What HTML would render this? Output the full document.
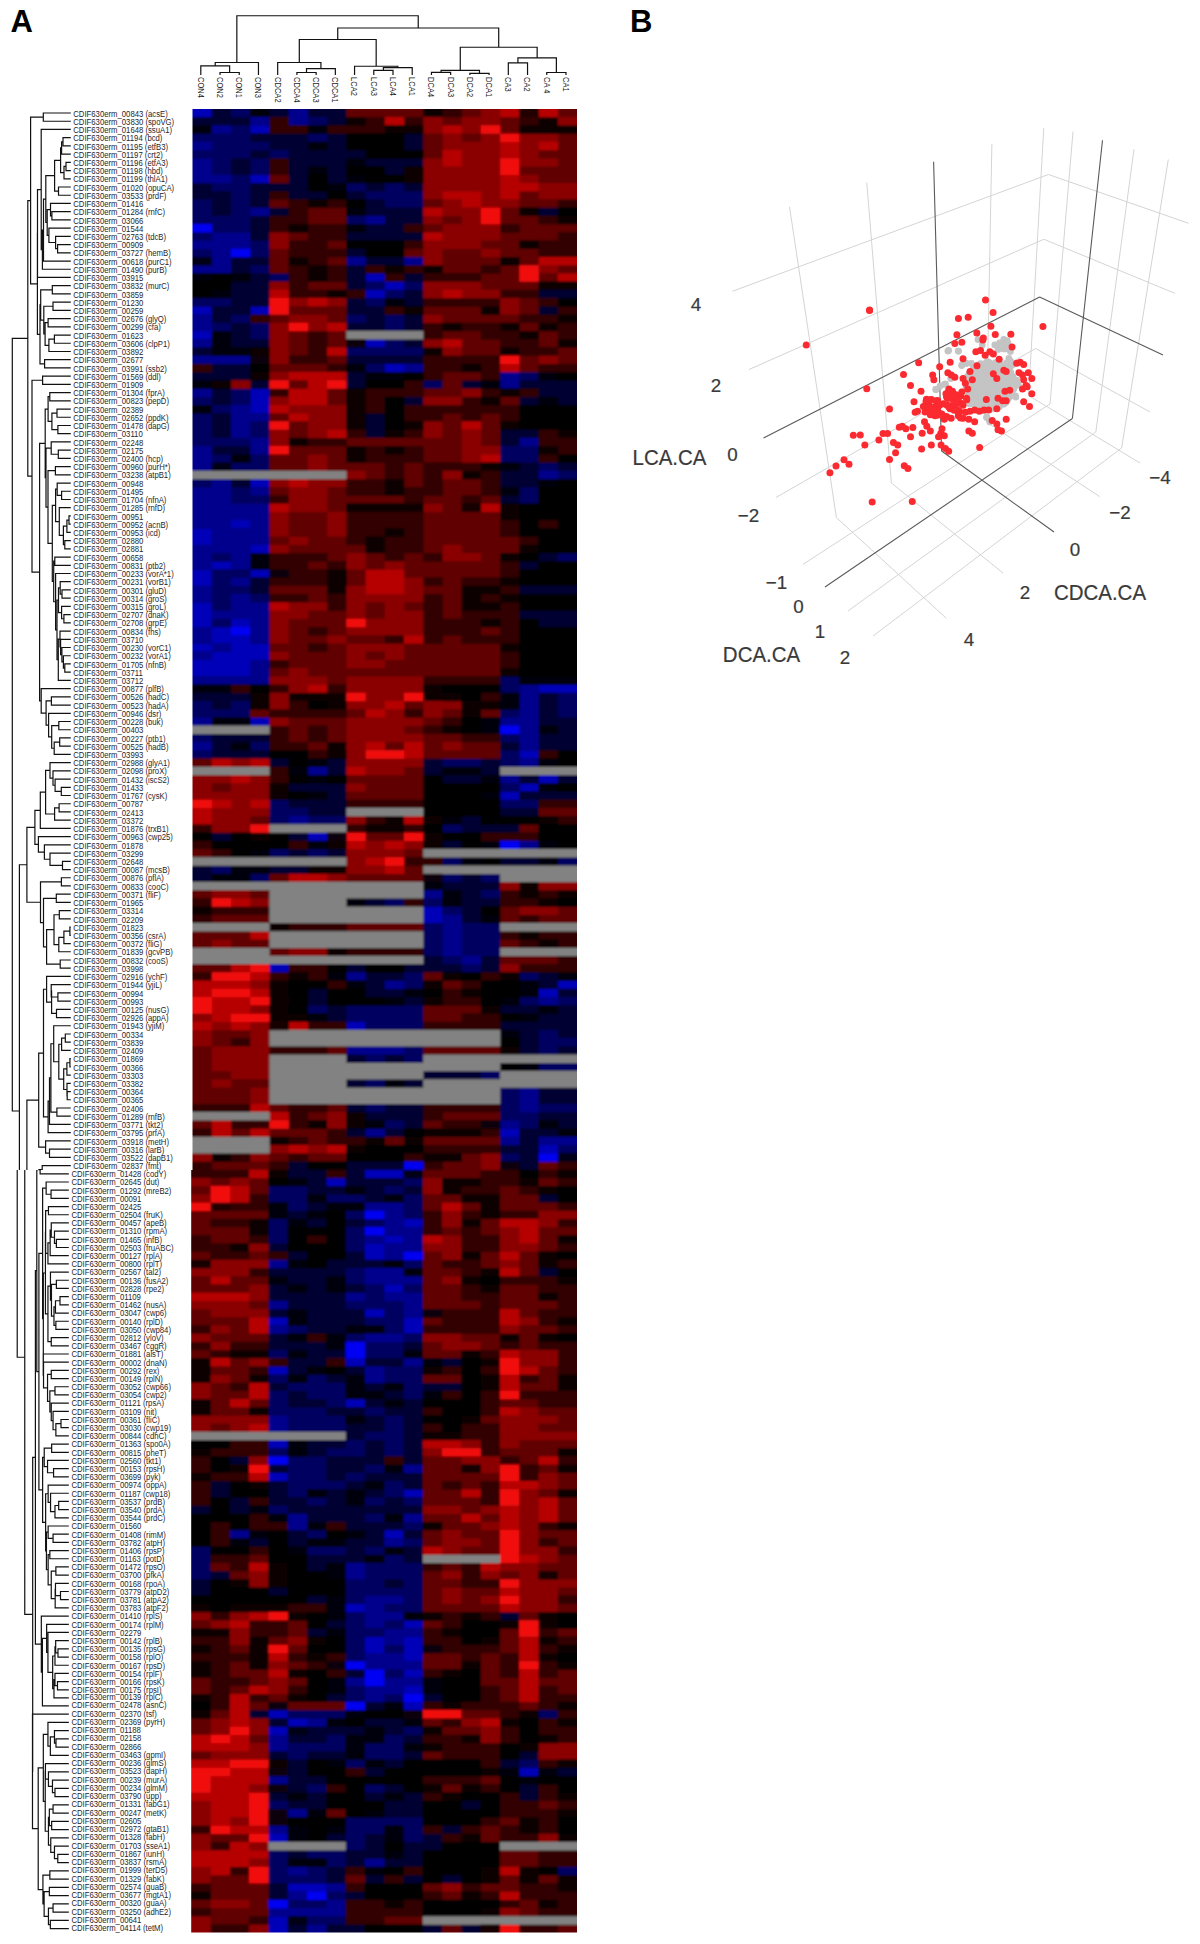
<!DOCTYPE html><html><head><meta charset="utf-8"><title>Figure</title>
<style>html,body{margin:0;padding:0;background:#fff}svg{display:block}</style></head><body>
<svg width="1200" height="1944" viewBox="0 0 1200 1944">
<defs><filter id="bl" x="-1%" y="-1%" width="102%" height="102%"><feGaussianBlur stdDeviation="0.8"/></filter></defs>
<rect width="1200" height="1944" fill="#fff"/>
<g font-family="'Liberation Sans',Arial,sans-serif" font-weight="bold" font-size="31" fill="#000"><text x="10.5" y="31.7">A</text><text x="629.9" y="31.7">B</text></g>
<path d="M220.02 75V72.5H239.24V75M200.8 75V65.8H229.63V72.5M215.22 65.8V62.5H258.46V75M296.9 75V72.5H316.12V75M306.51 72.5V68.7H335.34V75M277.68 75V62.5H320.93V68.7M373.78 75V70.4H393V75M383.39 70.4V67.6H412.22V75M354.56 75V66.25H397.81V67.6M431.44 75V72.3H450.66V75M469.88 75V73.3H489.1V75M441.05 72.3V70.4H479.49V73.3M508.32 75V62.9H527.54V75M546.76 75V72.5H565.98V75M517.93 62.9V57.9H556.37V72.5M299.3 62.5V39.5H376.18V66.25M460.27 70.4V47.25H537.15V57.9M337.74 39.5V28H498.71V47.25M236.84 62.5V15.75H418.23V28" fill="none" stroke="#111" stroke-width="1.2" stroke-linejoin="miter"/>
<g font-family="'Liberation Sans',Arial,sans-serif" font-size="8.8" fill="#1e1e1e">
<text transform="translate(197.7 77) rotate(90) scale(.86 1)">CON4</text>
<text transform="translate(216.92 77) rotate(90) scale(.86 1)">CON2</text>
<text transform="translate(236.14 77) rotate(90) scale(.86 1)">CON1</text>
<text transform="translate(255.36 77) rotate(90) scale(.86 1)">CON3</text>
<text transform="translate(274.58 77) rotate(90) scale(.86 1)">CDCA2</text>
<text transform="translate(293.8 77) rotate(90) scale(.86 1)">CDCA4</text>
<text transform="translate(313.02 77) rotate(90) scale(.86 1)">CDCA3</text>
<text transform="translate(332.24 77) rotate(90) scale(.86 1)">CDCA1</text>
<text transform="translate(351.46 77) rotate(90) scale(.86 1)">LCA2</text>
<text transform="translate(370.68 77) rotate(90) scale(.86 1)">LCA3</text>
<text transform="translate(389.9 77) rotate(90) scale(.86 1)">LCA4</text>
<text transform="translate(409.12 77) rotate(90) scale(.86 1)">LCA1</text>
<text transform="translate(428.34 77) rotate(90) scale(.86 1)">DCA4</text>
<text transform="translate(447.56 77) rotate(90) scale(.86 1)">DCA3</text>
<text transform="translate(466.78 77) rotate(90) scale(.86 1)">DCA2</text>
<text transform="translate(486 77) rotate(90) scale(.86 1)">DCA1</text>
<text transform="translate(505.22 77) rotate(90) scale(.86 1)">CA3</text>
<text transform="translate(524.44 77) rotate(90) scale(.86 1)">CA2</text>
<text transform="translate(543.66 77) rotate(90) scale(.86 1)">CA 4</text>
<text transform="translate(562.88 77) rotate(90) scale(.86 1)">CA1</text>
</g>
<clipPath id="hc"><path d="M192.5 108.9H577V1932.6H191.2V1169.9H192.5z"/></clipPath><g clip-path="url(#hc)"><g id="heat" filter="url(#bl)">
<rect x="188.2" y="104" width="392.8" height="1833" fill="#050003"/>
<path fill="#0000b8" d="M188.5 104.9H211.97V117.37H188.5zM250.18 125.35H269.65V133.82H250.18zM250.18 174.68H269.65V183.16H250.18zM365.52 273.36H385V281.83H365.52zM384.75 281.58H404.23V290.06H384.75zM365.52 289.81H385V298.28H365.52zM188.5 306.25H211.97V314.73H188.5zM250.18 306.25H269.65V314.73H250.18zM188.5 330.92H211.97V339.39H188.5zM365.52 339.14H385V347.62H365.52zM384.75 363.81H404.23V372.29H384.75zM250.18 388.48H269.65V396.96H250.18zM250.18 396.71H269.65V405.18H250.18zM250.18 404.93H269.65V413.4H250.18zM250.18 478.94H269.65V487.41H250.18zM230.95 520.05H250.43V528.52H230.95zM188.5 528.27H211.97V536.75H188.5zM188.5 536.5H211.97V544.97H188.5zM250.18 544.72H269.65V553.19H250.18zM211.72 561.17H231.2V569.64H211.72zM188.5 569.39H211.97V577.86H188.5zM250.18 569.39H269.65V577.86H250.18zM188.5 577.61H211.97V586.08H188.5zM188.5 602.28H211.97V610.75H188.5zM188.5 610.5H211.97V618.98H188.5zM188.5 618.73H211.97V627.2H188.5zM230.95 618.73H250.43V627.2H230.95zM211.72 626.95H231.2V635.42H211.72zM211.72 635.17H250.43V643.64H211.72zM188.5 643.39H211.97V651.87H188.5zM230.95 643.39H269.65V651.87H230.95zM211.72 651.62H269.65V660.09H211.72zM188.5 659.84H250.43V668.31H188.5zM188.5 668.06H250.43V676.54H188.5zM538.55 684.51H581V692.98H538.55zM250.18 717.4H269.65V725.88H250.18zM519.33 750.29H538.8V758.77H519.33zM538.55 774.96H558.03V783.44H538.55zM519.33 783.19H538.8V791.66H519.33zM500.1 791.41H519.58V799.88H500.1zM307.85 832.52H327.33V841H307.85zM423.2 906.53H442.68V915H423.2zM423.2 914.75H442.68V923.23H423.2zM269.4 964.09H288.88V972.57H269.4zM557.78 980.54H581V989.01H557.78zM538.55 988.76H558.03V997.23H538.55zM346.3 1021.65H365.77V1030.13H346.3zM500.1 1128.55H519.58V1137.03H500.1zM538.55 1145H558.03V1153.47H538.55zM364.81 1169.7H403.64V1178.14H364.81zM326.23 1177.89H345.77V1186.33H326.23zM403.39 1218.84H422.93V1227.28H403.39zM384.1 1235.23H403.64V1243.67H384.1zM364.81 1243.42H384.35V1251.86H364.81zM364.81 1251.61H384.35V1260.05H364.81zM384.1 1284.37H403.64V1292.81H384.1zM364.81 1308.94H384.35V1317.38H364.81zM268.36 1317.13H287.9V1325.57H268.36zM403.39 1317.13H422.93V1325.57H403.39zM403.39 1325.32H422.93V1333.76H403.39zM345.52 1358.08H365.06V1366.53H345.52zM268.36 1366.28H287.9V1374.72H268.36zM345.52 1399.04H365.06V1407.48H345.52zM268.36 1439.99H287.9V1448.43H268.36zM268.36 1472.75H287.9V1481.19H268.36zM403.39 1489.13H422.93V1497.58H403.39zM384.1 1530.09H403.64V1538.53H384.1zM345.52 1603.8H365.06V1612.24H345.52zM403.39 1620.18H422.93V1628.62H403.39zM364.81 1636.57H384.35V1645.01H364.81zM403.39 1636.57H422.93V1645.01H403.39zM364.81 1644.76H384.35V1653.2H364.81zM403.39 1644.76H422.93V1653.2H403.39zM403.39 1652.95H422.93V1661.39H403.39zM403.39 1669.33H422.93V1677.77H403.39zM403.39 1685.71H422.93V1694.15H403.39zM403.39 1701.85H422.93V1710.35H403.39zM268.36 1710.1H287.9V1718.6H268.36zM287.65 1718.35H307.19V1726.85H287.65zM268.36 1726.6H287.9V1735.1H268.36zM519.13 1767.85H538.67V1776.35H519.13zM268.36 1833.85H287.9V1842.35H268.36zM287.65 1883.35H326.48V1891.85H287.65zM268.36 1916.35H287.9V1924.85H268.36zM268.36 1924.6H287.9V1936.85H268.36z"/>
<path fill="#000030" d="M211.72 100.9H231.2V117.37H211.72zM269.4 88.9H288.88V117.37H269.4zM307.85 80.9H346.55V117.37H307.85zM188.5 117.12H250.43V125.6H188.5zM327.08 117.12H346.55V125.6H327.08zM250.18 133.57H308.1V142.04H250.18zM327.08 133.57H346.55V142.04H327.08zM403.98 133.57H423.45V142.04H403.98zM269.4 141.79H308.1V150.27H269.4zM327.08 141.79H346.55V150.27H327.08zM403.98 141.79H423.45V150.27H403.98zM250.18 150.02H269.65V158.49H250.18zM288.62 150.02H365.77V158.49H288.62zM230.95 158.24H250.43V166.71H230.95zM288.62 158.24H346.55V166.71H288.62zM365.52 158.24H423.45V166.71H365.52zM230.95 166.46H250.43V174.93H230.95zM288.62 166.46H308.1V174.93H288.62zM327.08 166.46H346.55V174.93H327.08zM384.75 166.46H404.23V174.93H384.75zM288.62 174.68H308.1V183.16H288.62zM327.08 174.68H346.55V183.16H327.08zM188.5 182.91H211.97V191.38H188.5zM250.18 182.91H308.1V191.38H250.18zM365.52 182.91H385V191.38H365.52zM403.98 182.91H423.45V191.38H403.98zM188.5 191.13H231.2V199.6H188.5zM250.18 191.13H269.65V199.6H250.18zM288.62 191.13H327.33V199.6H288.62zM346.3 191.13H365.77V199.6H346.3zM211.72 199.35H231.2V207.83H211.72zM250.18 199.35H269.65V207.83H250.18zM365.52 199.35H385V207.83H365.52zM211.72 207.58H231.2V216.05H211.72zM269.4 207.58H288.88V216.05H269.4zM365.52 207.58H423.45V216.05H365.52zM538.55 207.58H558.03V216.05H538.55zM250.18 215.8H269.65V224.27H250.18zM384.75 215.8H423.45V224.27H384.75zM250.18 224.02H269.65V232.5H250.18zM365.52 224.02H404.23V232.5H365.52zM250.18 232.25H269.65V240.72H250.18zM346.3 232.25H423.45V240.72H346.3zM346.3 248.69H365.77V257.16H346.3zM230.95 256.91H269.65V265.39H230.95zM365.52 256.91H404.23V265.39H365.52zM230.95 265.14H250.43V273.61H230.95zM346.3 265.14H365.77V273.61H346.3zM250.18 273.36H269.65V281.83H250.18zM346.3 273.36H365.77V281.83H346.3zM403.98 273.36H423.45V281.83H403.98zM230.95 281.58H269.65V290.06H230.95zM346.3 281.58H365.77V290.06H346.3zM230.95 289.81H269.65V298.28H230.95zM403.98 289.81H423.45V298.28H403.98zM538.55 289.81H581V298.28H538.55zM230.95 298.03H269.65V306.5H230.95zM346.3 298.03H365.77V306.5H346.3zM403.98 298.03H423.45V306.5H403.98zM211.72 306.25H250.43V314.73H211.72zM346.3 306.25H385V314.73H346.3zM538.55 306.25H558.03V314.73H538.55zM211.72 314.48H231.2V322.95H211.72zM365.52 314.48H385V322.95H365.52zM403.98 314.48H423.45V322.95H403.98zM230.95 322.7H250.43V331.17H230.95zM346.3 322.7H385V331.17H346.3zM403.98 322.7H423.45V331.17H403.98zM230.95 330.92H250.43V339.39H230.95zM230.95 339.14H269.65V347.62H230.95zM403.98 339.14H423.45V347.62H403.98zM188.5 347.37H211.97V355.84H188.5zM346.3 355.59H423.45V364.06H346.3zM211.72 363.81H250.43V372.29H211.72zM188.5 372.04H250.43V380.51H188.5zM346.3 372.04H365.77V380.51H346.3zM250.18 380.26H269.65V388.73H250.18zM346.3 380.26H365.77V388.73H346.3zM461.65 380.26H481.12V388.73H461.65zM519.33 380.26H581V388.73H519.33zM211.72 388.48H231.2V396.96H211.72zM538.55 388.48H581V396.96H538.55zM211.72 396.71H231.2V405.18H211.72zM403.98 396.71H423.45V405.18H403.98zM519.33 396.71H538.8V405.18H519.33zM557.78 396.71H581V405.18H557.78zM211.72 413.15H231.2V421.62H211.72zM365.52 413.15H385V421.62H365.52zM211.72 421.37H231.2V429.85H211.72zM365.52 421.37H385V429.85H365.52zM211.72 429.6H231.2V438.07H211.72zM365.52 429.6H385V438.07H365.52zM500.1 429.6H538.8V438.07H500.1zM500.1 437.82H519.58V446.29H500.1zM211.72 446.04H250.43V454.52H211.72zM519.33 462.49H538.8V470.96H519.33zM557.78 462.49H581V470.96H557.78zM500.1 470.71H538.8V479.19H500.1zM230.95 478.94H250.43V487.41H230.95zM500.1 478.94H538.8V487.41H500.1zM500.1 495.38H519.58V503.85H500.1zM538.55 552.94H558.03V561.42H538.55zM519.33 561.17H538.8V569.64H519.33zM250.18 577.61H269.65V586.08H250.18zM250.18 585.83H269.65V594.31H250.18zM519.33 585.83H581V594.31H519.33zM519.33 610.5H581V618.98H519.33zM538.55 618.73H581V627.2H538.55zM188.5 692.73H250.43V701.21H188.5zM538.55 692.73H558.03V701.21H538.55zM211.72 700.96H231.2V709.43H211.72zM538.55 700.96H558.03V709.43H538.55zM538.55 709.18H558.03V717.65H538.55zM538.55 717.4H581V725.88H538.55zM557.78 725.62H581V734.1H557.78zM211.72 733.85H269.65V742.32H211.72zM538.55 733.85H581V742.32H538.55zM211.72 742.07H231.2V750.54H211.72zM500.1 742.07H519.58V750.54H500.1zM538.55 742.07H581V750.54H538.55zM211.72 750.29H269.65V758.77H211.72zM269.4 758.52H288.88V766.99H269.4zM327.08 758.52H346.55V766.99H327.08zM423.2 758.52H442.68V766.99H423.2zM480.88 758.52H500.35V766.99H480.88zM327.08 766.74H346.55V775.21H327.08zM423.2 766.74H442.68V775.21H423.2zM480.88 766.74H500.35V775.21H480.88zM442.43 774.96H481.12V783.44H442.43zM519.33 774.96H538.8V783.44H519.33zM557.78 774.96H581V783.44H557.78zM288.62 783.19H346.55V791.66H288.62zM327.08 791.41H346.55V799.88H327.08zM519.33 791.41H581V799.88H519.33zM288.62 799.63H346.55V808.11H288.62zM307.85 807.86H346.55V816.33H307.85zM500.1 807.86H538.8V816.33H500.1zM461.65 816.08H481.12V824.55H461.65zM461.65 824.3H519.58V832.77H461.65zM211.72 832.52H231.2V841H211.72zM288.62 832.52H308.1V841H288.62zM442.43 840.75H461.9V849.22H442.43zM288.62 848.97H308.1V857.44H288.62zM327.08 848.97H346.55V857.44H327.08zM500.1 857.19H538.8V865.67H500.1zM188.5 865.42H211.97V873.89H188.5zM269.4 865.42H308.1V873.89H269.4zM188.5 873.64H211.97V882.11H188.5zM461.65 873.64H481.12V882.11H461.65zM442.43 881.86H500.35V890.34H442.43zM461.65 890.09H481.12V898.56H461.65zM365.52 898.31H385V906.78H365.52zM461.65 898.31H500.35V906.78H461.65zM461.65 906.53H481.12V915H461.65zM461.65 914.75H481.12V923.23H461.65zM423.2 955.87H442.68V964.34H423.2zM480.88 955.87H500.35V964.34H480.88zM346.3 964.09H365.77V972.57H346.3zM403.98 964.09H461.9V972.57H403.98zM480.88 964.09H500.35V972.57H480.88zM365.52 972.32H404.23V980.79H365.52zM538.55 972.32H558.03V980.79H538.55zM365.52 980.54H385V989.01H365.52zM538.55 980.54H558.03V989.01H538.55zM307.85 988.76H327.33V997.23H307.85zM365.52 988.76H404.23V997.23H365.52zM557.78 988.76H581V997.23H557.78zM307.85 996.98H327.33V1005.46H307.85zM403.98 996.98H423.45V1005.46H403.98zM327.08 1005.21H346.55V1013.68H327.08zM500.1 1005.21H538.8V1013.68H500.1zM557.78 1005.21H581V1013.68H557.78zM327.08 1013.43H346.55V1021.9H327.08zM538.55 1013.43H581V1021.9H538.55zM500.1 1021.65H581V1030.13H500.1zM519.33 1029.88H538.8V1038.35H519.33zM557.78 1029.88H581V1038.35H557.78zM519.33 1038.1H538.8V1046.57H519.33zM519.33 1046.32H538.8V1054.8H519.33zM557.78 1046.32H581V1054.8H557.78zM346.3 1054.55H365.77V1063.02H346.3zM384.75 1054.55H404.23V1063.02H384.75zM423.2 1070.99H481.12V1079.46H423.2zM346.3 1079.21H365.77V1087.69H346.3zM403.98 1079.21H423.45V1087.69H403.98zM538.55 1087.44H581V1095.91H538.55zM538.55 1095.66H581V1104.13H538.55zM346.3 1103.88H365.77V1112.36H346.3zM384.75 1103.88H423.45V1112.36H384.75zM365.52 1112.11H423.45V1120.58H365.52zM538.55 1112.11H581V1120.58H538.55zM403.98 1120.33H423.45V1128.8H403.98zM557.78 1120.33H581V1128.8H557.78zM346.3 1128.55H365.77V1137.03H346.3zM384.75 1128.55H404.23V1137.03H384.75zM519.33 1128.55H558.03V1137.03H519.33zM519.33 1136.78H538.8V1145.25H519.33zM500.1 1145H538.8V1153.47H500.1zM519.33 1153.22H538.8V1161.69H519.33zM288.62 1161.44H308.1V1169.92H288.62zM346.3 1161.44H404.23V1169.92H346.3zM519.33 1161.44H538.8V1169.92H519.33zM287.65 1169.7H326.48V1178.14H287.65zM345.52 1169.7H365.06V1178.14H345.52zM306.94 1177.89H326.48V1186.33H306.94zM345.52 1177.89H403.64V1186.33H345.52zM306.94 1186.08H345.77V1194.52H306.94zM364.81 1186.08H384.35V1194.52H364.81zM403.39 1186.08H422.93V1194.52H403.39zM364.81 1194.27H384.35V1202.71H364.81zM538.42 1194.27H557.96V1202.71H538.42zM306.94 1202.46H326.48V1210.9H306.94zM287.65 1210.65H307.19V1219.09H287.65zM306.94 1218.84H326.48V1227.28H306.94zM345.52 1218.84H365.06V1227.28H345.52zM268.36 1243.42H287.9V1251.86H268.36zM287.65 1251.61H307.19V1260.05H287.65zM345.52 1251.61H365.06V1260.05H345.52zM326.23 1259.8H384.35V1268.24H326.23zM268.36 1267.99H345.77V1276.43H268.36zM538.42 1267.99H557.96V1276.43H538.42zM287.65 1276.18H326.48V1284.62H287.65zM268.36 1284.37H287.9V1292.81H268.36zM306.94 1284.37H326.48V1292.81H306.94zM345.52 1284.37H365.06V1292.81H345.52zM268.36 1292.56H345.77V1301H268.36zM287.65 1300.75H345.77V1309.19H287.65zM268.36 1308.94H287.9V1317.38H268.36zM306.94 1308.94H365.06V1317.38H306.94zM306.94 1317.13H365.06V1325.57H306.94zM306.94 1325.32H345.77V1333.76H306.94zM268.36 1333.51H287.9V1341.95H268.36zM268.36 1341.7H326.48V1350.14H268.36zM403.39 1341.7H422.93V1350.14H403.39zM306.94 1349.89H345.77V1358.33H306.94zM287.65 1358.08H326.48V1366.53H287.65zM364.81 1358.08H403.64V1366.53H364.81zM441.97 1358.08H461.51V1366.53H441.97zM287.65 1366.28H307.19V1374.72H287.65zM345.52 1366.28H365.06V1374.72H345.52zM326.23 1374.47H345.77V1382.91H326.23zM268.36 1382.66H287.9V1391.1H268.36zM364.81 1382.66H384.35V1391.1H364.81zM422.68 1382.66H461.51V1391.1H422.68zM287.65 1390.85H307.19V1399.29H287.65zM384.1 1390.85H403.64V1399.29H384.1zM287.65 1399.04H326.48V1407.48H287.65zM364.81 1399.04H384.35V1407.48H364.81zM403.39 1399.04H422.93V1407.48H403.39zM326.23 1407.23H365.06V1415.67H326.23zM384.1 1407.23H422.93V1415.67H384.1zM364.81 1415.42H384.35V1423.86H364.81zM403.39 1415.42H422.93V1423.86H403.39zM345.52 1423.61H384.35V1432.05H345.52zM403.39 1423.61H422.93V1432.05H403.39zM345.52 1431.8H365.06V1440.24H345.52zM403.39 1431.8H422.93V1440.24H403.39zM306.94 1439.99H345.77V1448.43H306.94zM364.81 1439.99H384.35V1448.43H364.81zM403.39 1439.99H422.93V1448.43H403.39zM306.94 1448.18H326.48V1456.62H306.94zM364.81 1448.18H384.35V1456.62H364.81zM403.39 1448.18H422.93V1456.62H403.39zM229.78 1456.37H249.32V1464.81H229.78zM326.23 1456.37H384.35V1464.81H326.23zM403.39 1456.37H422.93V1464.81H403.39zM268.36 1464.56H287.9V1473H268.36zM326.23 1464.56H365.06V1473H326.23zM326.23 1472.75H345.77V1481.19H326.23zM364.81 1472.75H422.93V1481.19H364.81zM210.49 1480.94H230.03V1489.38H210.49zM268.36 1480.94H287.9V1489.38H268.36zM345.52 1480.94H365.06V1489.38H345.52zM403.39 1480.94H422.93V1489.38H403.39zM210.49 1489.13H230.03V1497.58H210.49zM268.36 1489.13H287.9V1497.58H268.36zM326.23 1489.13H345.77V1497.58H326.23zM364.81 1489.13H384.35V1497.58H364.81zM229.78 1497.33H249.32V1505.77H229.78zM268.36 1497.33H307.19V1505.77H268.36zM326.23 1497.33H345.77V1505.77H326.23zM384.1 1497.33H403.64V1505.77H384.1zM187.2 1505.52H210.74V1513.96H187.2zM229.78 1505.52H249.32V1513.96H229.78zM287.65 1505.52H422.93V1513.96H287.65zM306.94 1513.71H365.06V1522.15H306.94zM345.52 1521.9H403.64V1530.34H345.52zM287.65 1530.09H307.19V1538.53H287.65zM364.81 1530.09H384.35V1538.53H364.81zM403.39 1530.09H422.93V1538.53H403.39zM249.07 1538.28H268.61V1546.72H249.07zM287.65 1538.28H307.19V1546.72H287.65zM345.52 1538.28H384.35V1546.72H345.52zM345.52 1546.47H365.06V1554.91H345.52zM403.39 1546.47H422.93V1554.91H403.39zM306.94 1554.66H365.06V1563.1H306.94zM403.39 1554.66H422.93V1563.1H403.39zM306.94 1562.85H326.48V1571.29H306.94zM210.49 1571.04H230.03V1579.48H210.49zM187.2 1579.23H210.74V1587.67H187.2zM384.1 1579.23H403.64V1587.67H384.1zM187.2 1587.42H210.74V1595.86H187.2zM268.36 1587.42H287.9V1595.86H268.36zM306.94 1595.61H326.48V1604.05H306.94zM499.84 1611.99H519.38V1620.43H499.84zM326.23 1620.18H345.77V1628.62H326.23zM306.94 1628.38H326.48V1636.82H306.94zM345.52 1669.33H365.06V1677.77H345.52zM326.23 1693.9H345.77V1702.1H326.23zM422.68 1693.9H442.22V1702.1H422.68zM364.81 1701.85H384.35V1710.35H364.81zM249.07 1710.1H268.61V1718.6H249.07zM268.36 1718.35H287.9V1726.85H268.36zM364.81 1718.35H403.64V1726.85H364.81zM306.94 1726.6H365.06V1735.1H306.94zM384.1 1726.6H403.64V1735.1H384.1zM287.65 1734.85H326.48V1743.35H287.65zM403.39 1734.85H422.93V1743.35H403.39zM268.36 1751.35H287.9V1759.85H268.36zM306.94 1751.35H345.77V1759.85H306.94zM403.39 1751.35H422.93V1759.85H403.39zM519.13 1751.35H538.67V1759.85H519.13zM287.65 1759.6H307.19V1768.1H287.65zM384.1 1759.6H403.64V1768.1H384.1zM499.84 1759.6H519.38V1768.1H499.84zM287.65 1767.85H307.19V1776.35H287.65zM364.81 1767.85H384.35V1776.35H364.81zM557.71 1767.85H581V1776.35H557.71zM287.65 1776.1H326.48V1784.6H287.65zM287.65 1784.35H307.19V1792.85H287.65zM384.1 1784.35H403.64V1792.85H384.1zM519.13 1784.35H538.67V1792.85H519.13zM268.36 1792.6H287.9V1801.1H268.36zM306.94 1792.6H326.48V1801.1H306.94zM364.81 1792.6H384.35V1801.1H364.81zM403.39 1792.6H422.93V1801.1H403.39zM519.13 1792.6H538.67V1801.1H519.13zM287.65 1800.85H326.48V1809.35H287.65zM384.1 1800.85H422.93V1809.35H384.1zM461.26 1800.85H480.8V1809.35H461.26zM384.1 1809.1H422.93V1817.6H384.1zM441.97 1825.6H461.51V1834.1H441.97zM326.23 1833.85H345.77V1842.35H326.23zM364.81 1833.85H384.35V1842.35H364.81zM422.68 1833.85H442.22V1842.35H422.68zM364.81 1842.1H384.35V1850.6H364.81zM403.39 1842.1H442.22V1850.6H403.39zM287.65 1850.35H307.19V1858.85H287.65zM345.52 1850.35H384.35V1858.85H345.52zM403.39 1850.35H422.93V1858.85H403.39zM345.52 1858.6H365.06V1867.1H345.52zM384.1 1858.6H422.93V1867.1H384.1zM326.23 1866.85H345.77V1875.35H326.23zM326.23 1875.1H345.77V1883.6H326.23zM364.81 1875.1H384.35V1883.6H364.81zM403.39 1875.1H422.93V1883.6H403.39zM441.97 1875.1H461.51V1883.6H441.97zM268.36 1883.35H287.9V1891.85H268.36zM268.36 1891.6H287.9V1900.1H268.36zM345.52 1891.6H365.06V1900.1H345.52zM287.65 1924.6H307.19V1936.85H287.65zM326.23 1924.6H365.06V1936.85H326.23zM422.68 1924.6H442.22V1936.85H422.68zM461.26 1924.6H480.8V1936.85H461.26z"/>
<path fill="#000060" d="M230.95 96.9H250.43V117.37H230.95zM307.85 117.12H327.33V125.6H307.85zM230.95 125.35H250.43V133.82H230.95zM188.5 133.57H250.43V142.04H188.5zM307.85 133.57H327.33V142.04H307.85zM211.72 141.79H269.65V150.27H211.72zM188.5 150.02H250.43V158.49H188.5zM269.4 150.02H288.88V158.49H269.4zM211.72 158.24H231.2V166.71H211.72zM250.18 158.24H269.65V166.71H250.18zM211.72 166.46H231.2V174.93H211.72zM250.18 166.46H269.65V174.93H250.18zM230.95 174.68H250.43V183.16H230.95zM211.72 182.91H250.43V191.38H211.72zM346.3 182.91H365.77V191.38H346.3zM384.75 182.91H404.23V191.38H384.75zM230.95 191.13H250.43V199.6H230.95zM365.52 191.13H423.45V199.6H365.52zM188.5 199.35H211.97V207.83H188.5zM230.95 199.35H250.43V207.83H230.95zM384.75 199.35H423.45V207.83H384.75zM188.5 207.58H211.97V216.05H188.5zM230.95 207.58H250.43V216.05H230.95zM188.5 215.8H250.43V224.27H188.5zM346.3 215.8H365.77V224.27H346.3zM211.72 224.02H250.43V232.5H211.72zM188.5 232.25H211.97V240.72H188.5zM250.18 240.47H269.65V248.94H250.18zM188.5 248.69H211.97V257.16H188.5zM250.18 248.69H269.65V257.16H250.18zM250.18 265.14H269.65V273.61H250.18zM269.4 273.36H288.88V281.83H269.4zM365.52 281.58H385V290.06H365.52zM403.98 281.58H423.45V290.06H403.98zM384.75 289.81H404.23V298.28H384.75zM188.5 298.03H231.2V306.5H188.5zM365.52 298.03H385V306.5H365.52zM230.95 314.48H250.43V322.95H230.95zM346.3 314.48H365.77V322.95H346.3zM384.75 314.48H404.23V322.95H384.75zM211.72 322.7H231.2V331.17H211.72zM250.18 322.7H269.65V331.17H250.18zM384.75 322.7H404.23V331.17H384.75zM250.18 330.92H269.65V339.39H250.18zM384.75 339.14H404.23V347.62H384.75zM346.3 347.37H423.45V355.84H346.3zM365.52 363.81H385V372.29H365.52zM519.33 372.04H538.8V380.51H519.33zM423.2 380.26H442.68V388.73H423.2zM230.95 388.48H250.43V396.96H230.95zM188.5 396.71H211.97V405.18H188.5zM230.95 396.71H250.43V405.18H230.95zM211.72 404.93H231.2V413.4H211.72zM188.5 413.15H211.97V421.62H188.5zM188.5 421.37H211.97V429.85H188.5zM250.18 421.37H269.65V429.85H250.18zM188.5 429.6H211.97V438.07H188.5zM250.18 429.6H269.65V438.07H250.18zM188.5 437.82H250.43V446.29H188.5zM500.1 446.04H538.8V454.52H500.1zM211.72 454.27H231.2V462.74H211.72zM250.18 454.27H269.65V462.74H250.18zM500.1 454.27H538.8V462.74H500.1zM230.95 462.49H269.65V470.96H230.95zM538.55 462.49H558.03V470.96H538.55zM557.78 470.71H581V479.19H557.78zM188.5 478.94H211.97V487.41H188.5zM230.95 487.16H250.43V495.63H230.95zM519.33 487.16H538.8V495.63H519.33zM230.95 495.38H269.65V503.85H230.95zM519.33 495.38H538.8V503.85H519.33zM211.72 552.94H231.2V561.42H211.72zM557.78 552.94H581V561.42H557.78zM211.72 569.39H250.43V577.86H211.72zM211.72 577.61H231.2V586.08H211.72zM211.72 585.83H250.43V594.31H211.72zM211.72 594.06H231.2V602.53H211.72zM250.18 594.06H269.65V602.53H250.18zM211.72 602.28H231.2V610.75H211.72zM211.72 618.73H231.2V627.2H211.72zM500.1 676.29H519.58V684.76H500.1zM500.1 684.51H519.58V692.98H500.1zM557.78 692.73H581V701.21H557.78zM188.5 700.96H211.97V709.43H188.5zM230.95 700.96H250.43V709.43H230.95zM557.78 700.96H581V709.43H557.78zM188.5 709.18H250.43V717.65H188.5zM500.1 709.18H519.58V717.65H500.1zM557.78 709.18H581V717.65H557.78zM188.5 733.85H211.97V742.32H188.5zM500.1 733.85H519.58V742.32H500.1zM250.18 742.07H269.65V750.54H250.18zM188.5 750.29H211.97V758.77H188.5zM500.1 750.29H519.58V758.77H500.1zM442.43 758.52H481.12V766.99H442.43zM500.1 758.52H519.58V766.99H500.1zM500.1 783.19H519.58V791.66H500.1zM269.4 799.63H288.88V808.11H269.4zM500.1 799.63H538.8V808.11H500.1zM269.4 807.86H308.1V816.33H269.4zM269.4 816.08H288.88V824.55H269.4zM307.85 816.08H346.55V824.55H307.85zM442.43 824.3H461.9V832.77H442.43zM269.4 848.97H288.88V857.44H269.4zM307.85 848.97H327.33V857.44H307.85zM442.43 857.19H461.9V865.67H442.43zM557.78 857.19H581V865.67H557.78zM211.72 865.42H231.2V873.89H211.72zM250.18 873.64H269.65V882.11H250.18zM442.43 873.64H461.9V882.11H442.43zM480.88 873.64H500.35V882.11H480.88zM480.88 890.09H500.35V898.56H480.88zM384.75 898.31H404.23V906.78H384.75zM423.2 898.31H442.68V906.78H423.2zM442.43 906.53H461.9V915H442.43zM423.2 922.98H442.68V931.45H423.2zM461.65 922.98H500.35V931.45H461.65zM423.2 931.2H442.68V939.67H423.2zM461.65 931.2H500.35V939.67H461.65zM423.2 939.42H442.68V947.9H423.2zM461.65 939.42H500.35V947.9H461.65zM423.2 947.65H442.68V956.12H423.2zM461.65 947.65H500.35V956.12H461.65zM442.43 955.87H461.9V964.34H442.43zM461.65 964.09H481.12V972.57H461.65zM403.98 972.32H423.45V980.79H403.98zM519.33 972.32H538.8V980.79H519.33zM403.98 980.54H423.45V989.01H403.98zM519.33 996.98H538.8V1005.46H519.33zM557.78 996.98H581V1005.46H557.78zM307.85 1005.21H327.33V1013.68H307.85zM346.3 1005.21H423.45V1013.68H346.3zM346.3 1013.43H423.45V1021.9H346.3zM365.52 1021.65H423.45V1030.13H365.52zM538.55 1029.88H558.03V1038.35H538.55zM538.55 1038.1H581V1046.57H538.55zM403.98 1046.32H423.45V1054.8H403.98zM538.55 1046.32H558.03V1054.8H538.55zM365.52 1054.55H385V1063.02H365.52zM403.98 1054.55H423.45V1063.02H403.98zM538.55 1062.77H581V1071.24H538.55zM480.88 1070.99H500.35V1079.46H480.88zM365.52 1079.21H385V1087.69H365.52zM500.1 1087.44H519.58V1095.91H500.1zM500.1 1095.66H519.58V1104.13H500.1zM365.52 1103.88H385V1112.36H365.52zM500.1 1103.88H519.58V1112.36H500.1zM538.55 1103.88H581V1112.36H538.55zM500.1 1112.11H538.8V1120.58H500.1zM384.75 1120.33H404.23V1128.8H384.75zM519.33 1120.33H538.8V1128.8H519.33zM557.78 1145H581V1153.47H557.78zM500.1 1153.22H519.58V1161.69H500.1zM403.39 1177.89H422.93V1186.33H403.39zM268.36 1186.08H307.19V1194.52H268.36zM384.1 1186.08H403.64V1194.52H384.1zM268.36 1194.27H307.19V1202.71H268.36zM326.23 1194.27H365.06V1202.71H326.23zM403.39 1194.27H422.93V1202.71H403.39zM287.65 1202.46H307.19V1210.9H287.65zM403.39 1202.46H422.93V1210.9H403.39zM345.52 1210.65H365.06V1219.09H345.52zM403.39 1210.65H422.93V1219.09H403.39zM268.36 1218.84H287.9V1227.28H268.36zM364.81 1218.84H384.35V1227.28H364.81zM268.36 1227.03H287.9V1235.48H268.36zM345.52 1227.03H365.06V1235.48H345.52zM268.36 1235.23H287.9V1243.67H268.36zM345.52 1235.23H365.06V1243.67H345.52zM345.52 1243.42H365.06V1251.86H345.52zM403.39 1259.8H422.93V1268.24H403.39zM345.52 1267.99H365.06V1276.43H345.52zM345.52 1276.18H365.06V1284.62H345.52zM364.81 1284.37H384.35V1292.81H364.81zM403.39 1284.37H422.93V1292.81H403.39zM364.81 1292.56H384.35V1301H364.81zM345.52 1300.75H403.64V1309.19H345.52zM384.1 1308.94H403.64V1317.38H384.1zM364.81 1317.13H403.64V1325.57H364.81zM287.65 1325.32H307.19V1333.76H287.65zM384.1 1325.32H403.64V1333.76H384.1zM345.52 1333.51H365.06V1341.95H345.52zM403.39 1333.51H422.93V1341.95H403.39zM364.81 1341.7H403.64V1350.14H364.81zM268.36 1349.89H287.9V1358.33H268.36zM364.81 1349.89H403.64V1358.33H364.81zM384.1 1366.28H422.93V1374.72H384.1zM268.36 1374.47H287.9V1382.91H268.36zM306.94 1374.47H326.48V1382.91H306.94zM384.1 1374.47H422.93V1382.91H384.1zM287.65 1382.66H345.77V1391.1H287.65zM403.39 1382.66H422.93V1391.1H403.39zM268.36 1390.85H287.9V1399.29H268.36zM306.94 1390.85H345.77V1399.29H306.94zM403.39 1390.85H422.93V1399.29H403.39zM268.36 1399.04H287.9V1407.48H268.36zM326.23 1399.04H345.77V1407.48H326.23zM268.36 1407.23H326.48V1415.67H268.36zM364.81 1407.23H384.35V1415.67H364.81zM287.65 1415.42H345.77V1423.86H287.65zM384.1 1415.42H403.64V1423.86H384.1zM287.65 1423.61H345.77V1432.05H287.65zM384.1 1423.61H403.64V1432.05H384.1zM364.81 1431.8H403.64V1440.24H364.81zM345.52 1439.99H365.06V1448.43H345.52zM384.1 1439.99H403.64V1448.43H384.1zM268.36 1448.18H287.9V1456.62H268.36zM326.23 1448.18H365.06V1456.62H326.23zM384.1 1448.18H403.64V1456.62H384.1zM287.65 1456.37H326.48V1464.81H287.65zM287.65 1464.56H326.48V1473H287.65zM364.81 1464.56H384.35V1473H364.81zM287.65 1472.75H326.48V1481.19H287.65zM345.52 1472.75H365.06V1481.19H345.52zM287.65 1480.94H345.77V1489.38H287.65zM384.1 1480.94H403.64V1489.38H384.1zM287.65 1489.13H307.19V1497.58H287.65zM384.1 1489.13H403.64V1497.58H384.1zM306.94 1497.33H326.48V1505.77H306.94zM364.81 1497.33H384.35V1505.77H364.81zM403.39 1497.33H422.93V1505.77H403.39zM268.36 1505.52H287.9V1513.96H268.36zM364.81 1513.71H384.35V1522.15H364.81zM403.39 1521.9H422.93V1530.34H403.39zM306.94 1530.09H326.48V1538.53H306.94zM403.39 1538.28H422.93V1546.72H403.39zM187.2 1546.47H210.74V1554.91H187.2zM306.94 1546.47H345.77V1554.91H306.94zM364.81 1546.47H384.35V1554.91H364.81zM187.2 1554.66H210.74V1563.1H187.2zM384.1 1554.66H403.64V1563.1H384.1zM187.2 1562.85H210.74V1571.29H187.2zM364.81 1562.85H422.93V1571.29H364.81zM187.2 1571.04H210.74V1579.48H187.2zM364.81 1571.04H422.93V1579.48H364.81zM345.52 1579.23H384.35V1587.67H345.52zM403.39 1579.23H422.93V1587.67H403.39zM345.52 1587.42H422.93V1595.86H345.52zM345.52 1595.61H365.06V1604.05H345.52zM403.39 1595.61H422.93V1604.05H403.39zM384.1 1603.8H422.93V1612.24H384.1zM345.52 1611.99H365.06V1620.43H345.52zM345.52 1620.18H365.06V1628.62H345.52zM384.1 1620.18H403.64V1628.62H384.1zM345.52 1628.38H384.35V1636.82H345.52zM345.52 1636.57H365.06V1645.01H345.52zM345.52 1644.76H365.06V1653.2H345.52zM384.1 1644.76H403.64V1653.2H384.1zM345.52 1652.95H365.06V1661.39H345.52zM384.1 1669.33H403.64V1677.77H384.1zM345.52 1685.71H365.06V1694.15H345.52zM345.52 1693.9H365.06V1702.1H345.52zM384.1 1693.9H403.64V1702.1H384.1zM287.65 1710.1H345.77V1718.6H287.65zM538.42 1710.1H557.96V1718.6H538.42zM403.39 1726.6H422.93V1735.1H403.39zM326.23 1734.85H345.77V1743.35H326.23zM384.1 1734.85H403.64V1743.35H384.1zM287.65 1743.1H345.77V1751.6H287.65zM364.81 1743.1H403.64V1751.6H364.81zM287.65 1751.35H307.19V1759.85H287.65zM364.81 1751.35H403.64V1759.85H364.81zM345.52 1759.6H365.06V1768.1H345.52zM519.13 1759.6H538.67V1768.1H519.13zM306.94 1784.35H326.48V1792.85H306.94zM364.81 1784.35H384.35V1792.85H364.81zM268.36 1800.85H287.9V1809.35H268.36zM345.52 1817.35H422.93V1825.85H345.52zM345.52 1825.6H384.35V1834.1H345.52zM403.39 1825.6H422.93V1834.1H403.39zM345.52 1833.85H365.06V1842.35H345.52zM403.39 1833.85H422.93V1842.35H403.39zM345.52 1842.1H365.06V1850.6H345.52zM268.36 1850.35H287.9V1858.85H268.36zM306.94 1850.35H345.77V1858.85H306.94zM268.36 1858.6H287.9V1867.1H268.36zM326.23 1858.6H345.77V1867.1H326.23zM268.36 1866.85H287.9V1875.35H268.36zM306.94 1866.85H326.48V1875.35H306.94zM557.71 1866.85H581V1875.35H557.71zM268.36 1875.1H326.48V1883.6H268.36zM326.23 1891.6H345.77V1900.1H326.23zM287.65 1899.85H326.48V1908.35H287.65zM306.94 1916.35H345.77V1924.85H306.94z"/>
<path fill="#000010" d="M250.18 92.9H269.65V117.37H250.18zM188.5 125.35H211.97V133.82H188.5zM211.72 330.92H231.2V339.39H211.72zM188.5 404.93H211.97V413.4H188.5zM230.95 454.27H250.43V462.74H230.95zM250.18 552.94H269.65V561.42H250.18zM250.18 561.17H269.65V569.64H250.18zM211.72 717.4H250.43V725.88H211.72zM538.55 725.62H558.03V734.1H538.55zM538.55 783.19H558.03V791.66H538.55zM480.88 840.75H500.35V849.22H480.88zM538.55 857.19H558.03V865.67H538.55zM557.78 972.32H581V980.79H557.78zM519.33 988.76H538.8V997.23H519.33zM384.75 1079.21H404.23V1087.69H384.75zM557.78 1128.55H581V1137.03H557.78zM306.94 1194.27H326.48V1202.71H306.94zM384.1 1194.27H403.64V1202.71H384.1zM345.52 1202.46H365.06V1210.9H345.52zM384.1 1259.8H403.64V1268.24H384.1zM403.39 1267.99H422.93V1276.43H403.39zM287.65 1317.13H307.19V1325.57H287.65zM364.81 1325.32H384.35V1333.76H364.81zM326.23 1341.7H345.77V1350.14H326.23zM287.65 1374.47H307.19V1382.91H287.65zM384.1 1382.66H403.64V1391.1H384.1zM287.65 1439.99H307.19V1448.43H287.65zM384.1 1464.56H403.64V1473H384.1zM306.94 1489.13H326.48V1497.58H306.94zM384.1 1513.71H403.64V1522.15H384.1zM306.94 1521.9H326.48V1530.34H306.94zM384.1 1546.47H403.64V1554.91H384.1zM364.81 1554.66H384.35V1563.1H364.81zM403.39 1611.99H422.93V1620.43H403.39zM384.1 1701.85H403.64V1710.35H384.1zM345.52 1710.1H365.06V1718.6H345.52zM326.23 1718.35H345.77V1726.85H326.23zM364.81 1759.6H384.35V1768.1H364.81zM384.1 1825.6H403.64V1834.1H384.1z"/>
<path fill="#00008c" d="M288.62 84.9H308.1V117.37H288.62zM250.18 117.12H269.65V125.6H250.18zM288.62 117.12H308.1V125.6H288.62zM211.72 125.35H231.2V133.82H211.72zM188.5 141.79H211.97V150.27H188.5zM188.5 158.24H211.97V166.71H188.5zM188.5 166.46H211.97V174.93H188.5zM188.5 174.68H231.2V183.16H188.5zM250.18 207.58H269.65V216.05H250.18zM365.52 215.8H385V224.27H365.52zM211.72 232.25H250.43V240.72H211.72zM188.5 240.47H250.43V248.94H188.5zM211.72 248.69H231.2V257.16H211.72zM211.72 256.91H231.2V265.39H211.72zM346.3 256.91H365.77V265.39H346.3zM403.98 256.91H423.45V265.39H403.98zM188.5 265.14H231.2V273.61H188.5zM188.5 314.48H211.97V322.95H188.5zM188.5 322.7H211.97V331.17H188.5zM188.5 339.14H211.97V347.62H188.5zM188.5 355.59H250.43V364.06H188.5zM403.98 363.81H423.45V372.29H403.98zM500.1 372.04H519.58V380.51H500.1zM500.1 380.26H519.58V388.73H500.1zM188.5 388.48H211.97V396.96H188.5zM230.95 404.93H250.43V413.4H230.95zM230.95 413.15H269.65V421.62H230.95zM230.95 421.37H250.43V429.85H230.95zM230.95 429.6H250.43V438.07H230.95zM250.18 437.82H269.65V446.29H250.18zM519.33 437.82H538.8V446.29H519.33zM188.5 446.04H211.97V454.52H188.5zM250.18 446.04H269.65V454.52H250.18zM188.5 454.27H211.97V462.74H188.5zM188.5 462.49H211.97V470.96H188.5zM538.55 470.71H558.03V479.19H538.55zM211.72 478.94H231.2V487.41H211.72zM188.5 487.16H231.2V495.63H188.5zM250.18 487.16H269.65V495.63H250.18zM188.5 495.38H231.2V503.85H188.5zM188.5 503.6H269.65V512.08H188.5zM188.5 511.83H269.65V520.3H188.5zM188.5 520.05H231.2V528.52H188.5zM250.18 520.05H269.65V528.52H250.18zM211.72 528.27H269.65V536.75H211.72zM211.72 536.5H269.65V544.97H211.72zM188.5 544.72H250.43V553.19H188.5zM188.5 552.94H211.97V561.42H188.5zM230.95 552.94H250.43V561.42H230.95zM188.5 561.17H211.97V569.64H188.5zM230.95 561.17H250.43V569.64H230.95zM230.95 577.61H250.43V586.08H230.95zM188.5 585.83H211.97V594.31H188.5zM188.5 594.06H211.97V602.53H188.5zM230.95 594.06H250.43V602.53H230.95zM230.95 602.28H269.65V610.75H230.95zM211.72 610.5H269.65V618.98H211.72zM250.18 618.73H269.65V627.2H250.18zM188.5 626.95H211.97V635.42H188.5zM250.18 626.95H269.65V635.42H250.18zM188.5 635.17H211.97V643.64H188.5zM250.18 635.17H269.65V643.64H250.18zM211.72 643.39H231.2V651.87H211.72zM188.5 651.62H211.97V660.09H188.5zM250.18 659.84H269.65V668.31H250.18zM250.18 668.06H269.65V676.54H250.18zM188.5 676.29H269.65V684.76H188.5zM519.33 684.51H538.8V692.98H519.33zM519.33 692.73H538.8V701.21H519.33zM519.33 700.96H538.8V709.43H519.33zM519.33 709.18H538.8V717.65H519.33zM188.5 717.4H211.97V725.88H188.5zM500.1 717.4H538.8V725.88H500.1zM519.33 725.62H538.8V734.1H519.33zM519.33 733.85H538.8V742.32H519.33zM188.5 742.07H211.97V750.54H188.5zM519.33 742.07H538.8V750.54H519.33zM519.33 758.52H538.8V766.99H519.33zM307.85 766.74H327.33V775.21H307.85zM500.1 774.96H519.58V783.44H500.1zM288.62 816.08H308.1V824.55H288.62zM519.33 840.75H538.8V849.22H519.33zM423.2 890.09H442.68V898.56H423.2zM442.43 914.75H461.9V923.23H442.43zM442.43 922.98H461.9V931.45H442.43zM442.43 931.2H461.9V939.67H442.43zM442.43 939.42H461.9V947.9H442.43zM442.43 947.65H461.9V956.12H442.43zM461.65 955.87H481.12V964.34H461.65zM346.3 972.32H365.77V980.79H346.3zM384.75 980.54H404.23V989.01H384.75zM538.55 996.98H558.03V1005.46H538.55zM346.3 1046.32H404.23V1054.8H346.3zM519.33 1087.44H538.8V1095.91H519.33zM519.33 1095.66H538.8V1104.13H519.33zM519.33 1103.88H538.8V1112.36H519.33zM500.1 1120.33H519.58V1128.8H500.1zM365.52 1128.55H385V1137.03H365.52zM500.1 1136.78H519.58V1145.25H500.1zM538.55 1136.78H581V1145.25H538.55zM364.81 1202.46H403.64V1210.9H364.81zM384.1 1210.65H403.64V1219.09H384.1zM384.1 1218.84H403.64V1227.28H384.1zM384.1 1227.03H422.93V1235.48H384.1zM364.81 1235.23H384.35V1243.67H364.81zM403.39 1235.23H422.93V1243.67H403.39zM384.1 1243.42H422.93V1251.86H384.1zM384.1 1251.61H403.64V1260.05H384.1zM268.36 1259.8H287.9V1268.24H268.36zM364.81 1267.99H403.64V1276.43H364.81zM364.81 1276.18H422.93V1284.62H364.81zM345.52 1292.56H365.06V1301H345.52zM384.1 1292.56H422.93V1301H384.1zM268.36 1300.75H287.9V1309.19H268.36zM403.39 1300.75H422.93V1309.19H403.39zM403.39 1308.94H422.93V1317.38H403.39zM268.36 1325.32H287.9V1333.76H268.36zM364.81 1333.51H403.64V1341.95H364.81zM403.39 1358.08H422.93V1366.53H403.39zM364.81 1366.28H384.35V1374.72H364.81zM364.81 1374.47H384.35V1382.91H364.81zM268.36 1415.42H287.9V1423.86H268.36zM268.36 1423.61H287.9V1432.05H268.36zM403.39 1464.56H422.93V1473H403.39zM287.65 1513.71H307.19V1522.15H287.65zM403.39 1513.71H422.93V1522.15H403.39zM287.65 1521.9H307.19V1530.34H287.65zM229.78 1530.09H249.32V1538.53H229.78zM384.1 1538.28H403.64V1546.72H384.1zM345.52 1562.85H365.06V1571.29H345.52zM345.52 1571.04H365.06V1579.48H345.52zM364.81 1595.61H403.64V1604.05H364.81zM364.81 1603.8H384.35V1612.24H364.81zM364.81 1611.99H403.64V1620.43H364.81zM364.81 1620.18H384.35V1628.62H364.81zM384.1 1628.38H422.93V1636.82H384.1zM384.1 1636.57H403.64V1645.01H384.1zM364.81 1652.95H403.64V1661.39H364.81zM364.81 1661.14H422.93V1669.58H364.81zM345.52 1677.52H365.06V1685.96H345.52zM384.1 1677.52H422.93V1685.96H384.1zM364.81 1685.71H403.64V1694.15H364.81zM364.81 1693.9H384.35V1702.1H364.81zM306.94 1718.35H326.48V1726.85H306.94zM268.36 1734.85H287.9V1743.35H268.36zM268.36 1743.1H287.9V1751.6H268.36zM268.36 1776.1H287.9V1784.6H268.36zM287.65 1809.1H307.19V1817.6H287.65zM268.36 1825.6H287.9V1834.1H268.36zM364.81 1858.6H384.35V1867.1H364.81zM287.65 1866.85H307.19V1875.35H287.65zM326.23 1883.35H345.77V1891.85H326.23zM287.65 1891.6H307.19V1900.1H287.65zM326.23 1899.85H345.77V1908.35H326.23zM268.36 1908.1H345.77V1916.6H268.36zM306.94 1924.6H326.48V1936.85H306.94z"/>
<path fill="#600000" d="M346.3 76.9H423.45V117.37H346.3zM461.65 64.9H481.12V117.37H461.65zM557.78 44.9H581V117.37H557.78zM442.43 117.12H461.9V125.6H442.43zM500.1 117.12H519.58V125.6H500.1zM500.1 125.35H519.58V133.82H500.1zM423.2 133.57H442.68V142.04H423.2zM461.65 133.57H481.12V142.04H461.65zM557.78 133.57H581V142.04H557.78zM423.2 141.79H442.68V150.27H423.2zM557.78 141.79H581V150.27H557.78zM423.2 150.02H442.68V158.49H423.2zM538.55 150.02H581V158.49H538.55zM557.78 158.24H581V166.71H557.78zM519.33 166.46H581V174.93H519.33zM269.4 174.68H288.88V183.16H269.4zM538.55 174.68H581V183.16H538.55zM519.33 191.13H538.8V199.6H519.33zM269.4 199.35H288.88V207.83H269.4zM423.2 199.35H442.68V207.83H423.2zM519.33 199.35H558.03V207.83H519.33zM307.85 207.58H346.55V216.05H307.85zM500.1 207.58H519.58V216.05H500.1zM307.85 215.8H346.55V224.27H307.85zM442.43 215.8H461.9V224.27H442.43zM500.1 215.8H538.8V224.27H500.1zM423.2 224.02H442.68V232.5H423.2zM519.33 224.02H581V232.5H519.33zM288.62 232.25H308.1V240.72H288.62zM500.1 232.25H558.03V240.72H500.1zM327.08 240.47H346.55V248.94H327.08zM480.88 240.47H519.58V248.94H480.88zM269.4 248.69H288.88V257.16H269.4zM403.98 248.69H423.45V257.16H403.98zM442.43 248.69H481.12V257.16H442.43zM500.1 248.69H538.8V257.16H500.1zM269.4 256.91H288.88V265.39H269.4zM327.08 256.91H346.55V265.39H327.08zM442.43 256.91H500.35V265.39H442.43zM519.33 256.91H538.8V265.39H519.33zM269.4 265.14H288.88V273.61H269.4zM442.43 265.14H481.12V273.61H442.43zM500.1 265.14H519.58V273.61H500.1zM557.78 265.14H581V273.61H557.78zM480.88 273.36H519.58V281.83H480.88zM538.55 273.36H558.03V281.83H538.55zM307.85 281.58H346.55V290.06H307.85zM480.88 281.58H538.8V290.06H480.88zM519.33 298.03H538.8V306.5H519.33zM288.62 306.25H346.55V314.73H288.62zM423.2 306.25H481.12V314.73H423.2zM519.33 306.25H538.8V314.73H519.33zM269.4 314.48H288.88V322.95H269.4zM327.08 314.48H346.55V322.95H327.08zM442.43 314.48H519.58V322.95H442.43zM519.33 322.7H538.8V331.17H519.33zM288.62 330.92H308.1V339.39H288.62zM327.08 330.92H346.55V339.39H327.08zM442.43 330.92H481.12V339.39H442.43zM538.55 330.92H558.03V339.39H538.55zM288.62 339.14H308.1V347.62H288.62zM327.08 339.14H346.55V347.62H327.08zM461.65 339.14H500.35V347.62H461.65zM538.55 339.14H558.03V347.62H538.55zM288.62 347.37H308.1V355.84H288.62zM461.65 347.37H500.35V355.84H461.65zM557.78 347.37H581V355.84H557.78zM327.08 355.59H346.55V364.06H327.08zM519.33 355.59H538.8V364.06H519.33zM557.78 355.59H581V364.06H557.78zM269.4 363.81H327.33V372.29H269.4zM519.33 363.81H538.8V372.29H519.33zM442.43 372.04H481.12V380.51H442.43zM288.62 380.26H308.1V388.73H288.62zM442.43 380.26H461.9V388.73H442.43zM327.08 388.48H346.55V396.96H327.08zM423.2 388.48H461.9V396.96H423.2zM327.08 396.71H346.55V405.18H327.08zM500.1 396.71H519.58V405.18H500.1zM269.4 413.15H288.88V421.62H269.4zM442.43 413.15H461.9V421.62H442.43zM480.88 413.15H500.35V421.62H480.88zM288.62 421.37H308.1V429.85H288.62zM442.43 421.37H461.9V429.85H442.43zM480.88 421.37H500.35V429.85H480.88zM288.62 429.6H308.1V438.07H288.62zM442.43 429.6H461.9V438.07H442.43zM480.88 429.6H500.35V438.07H480.88zM346.3 437.82H461.9V446.29H346.3zM480.88 437.82H500.35V446.29H480.88zM288.62 446.04H346.55V454.52H288.62zM423.2 446.04H461.9V454.52H423.2zM269.4 454.27H308.1V462.74H269.4zM327.08 454.27H346.55V462.74H327.08zM423.2 454.27H461.9V462.74H423.2zM269.4 462.49H308.1V470.96H269.4zM327.08 462.49H385V470.96H327.08zM403.98 462.49H423.45V470.96H403.98zM365.52 470.71H385V479.19H365.52zM403.98 470.71H423.45V479.19H403.98zM403.98 478.94H423.45V487.41H403.98zM442.43 478.94H481.12V487.41H442.43zM269.4 487.16H288.88V495.63H269.4zM327.08 487.16H346.55V495.63H327.08zM442.43 487.16H481.12V495.63H442.43zM327.08 495.38H404.23V503.85H327.08zM423.2 495.38H461.9V503.85H423.2zM480.88 495.38H500.35V503.85H480.88zM327.08 503.6H346.55V512.08H327.08zM442.43 503.6H461.9V512.08H442.43zM288.62 511.83H327.33V520.3H288.62zM423.2 511.83H500.35V520.3H423.2zM288.62 520.05H327.33V528.52H288.62zM423.2 520.05H500.35V528.52H423.2zM288.62 528.27H327.33V536.75H288.62zM423.2 528.27H500.35V536.75H423.2zM269.4 536.5H288.88V544.97H269.4zM307.85 536.5H346.55V544.97H307.85zM423.2 536.5H519.58V544.97H423.2zM288.62 544.72H365.77V553.19H288.62zM423.2 544.72H442.68V553.19H423.2zM461.65 544.72H519.58V553.19H461.65zM327.08 552.94H346.55V561.42H327.08zM365.52 552.94H385V561.42H365.52zM403.98 552.94H423.45V561.42H403.98zM480.88 552.94H500.35V561.42H480.88zM307.85 561.17H327.33V569.64H307.85zM365.52 561.17H385V569.64H365.52zM403.98 561.17H500.35V569.64H403.98zM346.3 569.39H365.77V577.86H346.3zM403.98 569.39H500.35V577.86H403.98zM346.3 577.61H365.77V586.08H346.3zM442.43 577.61H461.9V586.08H442.43zM269.4 585.83H327.33V594.31H269.4zM423.2 585.83H461.9V594.31H423.2zM307.85 594.06H327.33V602.53H307.85zM442.43 594.06H461.9V602.53H442.43zM365.52 602.28H385V610.75H365.52zM403.98 602.28H423.45V610.75H403.98zM442.43 602.28H461.9V610.75H442.43zM307.85 610.5H346.55V618.98H307.85zM365.52 610.5H385V618.98H365.52zM442.43 610.5H461.9V618.98H442.43zM288.62 618.73H346.55V627.2H288.62zM288.62 626.95H308.1V635.42H288.62zM327.08 626.95H346.55V635.42H327.08zM480.88 626.95H500.35V635.42H480.88zM288.62 635.17H327.33V643.64H288.62zM346.3 635.17H385V643.64H346.3zM442.43 635.17H461.9V643.64H442.43zM269.4 643.39H308.1V651.87H269.4zM327.08 643.39H346.55V651.87H327.08zM403.98 643.39H500.35V651.87H403.98zM288.62 651.62H346.55V660.09H288.62zM365.52 651.62H385V660.09H365.52zM403.98 651.62H500.35V660.09H403.98zM288.62 659.84H346.55V668.31H288.62zM384.75 659.84H500.35V668.31H384.75zM269.4 668.06H288.88V676.54H269.4zM307.85 668.06H500.35V676.54H307.85zM327.08 676.29H346.55V684.76H327.08zM403.98 700.96H423.45V709.43H403.98zM250.18 709.18H269.65V717.65H250.18zM346.3 709.18H365.77V717.65H346.3zM442.43 709.18H461.9V717.65H442.43zM480.88 709.18H500.35V717.65H480.88zM288.62 717.4H346.55V725.88H288.62zM423.2 717.4H442.68V725.88H423.2zM288.62 725.62H308.1V734.1H288.62zM327.08 725.62H346.55V734.1H327.08zM403.98 725.62H423.45V734.1H403.98zM288.62 733.85H308.1V742.32H288.62zM327.08 733.85H346.55V742.32H327.08zM423.2 733.85H461.9V742.32H423.2zM307.85 742.07H327.33V750.54H307.85zM384.75 742.07H404.23V750.54H384.75zM423.2 742.07H442.68V750.54H423.2zM461.65 742.07H500.35V750.54H461.65zM423.2 750.29H500.35V758.77H423.2zM188.5 758.52H211.97V766.99H188.5zM403.98 766.74H423.45V775.21H403.98zM346.3 774.96H423.45V783.44H346.3zM211.72 783.19H231.2V791.66H211.72zM365.52 783.19H423.45V791.66H365.52zM346.3 791.41H423.45V799.88H346.3zM538.55 807.86H581V816.33H538.55zM250.18 816.08H269.65V824.55H250.18zM519.33 824.3H538.8V832.77H519.33zM365.52 832.52H404.23V841H365.52zM188.5 848.97H211.97V857.44H188.5zM403.98 848.97H423.45V857.44H403.98zM403.98 865.42H423.45V873.89H403.98zM269.4 873.64H288.88V882.11H269.4zM346.3 873.64H423.45V882.11H346.3zM188.5 890.09H211.97V898.56H188.5zM250.18 890.09H269.65V898.56H250.18zM500.1 906.53H519.58V915H500.1zM557.78 906.53H581V915H557.78zM211.72 914.75H269.65V923.23H211.72zM500.1 914.75H519.58V923.23H500.1zM538.55 914.75H581V923.23H538.55zM346.3 922.98H423.45V931.45H346.3zM188.5 931.2H250.43V939.67H188.5zM188.5 939.42H211.97V947.9H188.5zM230.95 939.42H269.65V947.9H230.95zM500.1 939.42H519.58V947.9H500.1zM269.4 947.65H288.88V956.12H269.4zM500.1 955.87H558.03V964.34H500.1zM188.5 964.09H231.2V972.57H188.5zM423.2 972.32H442.68V980.79H423.2zM442.43 980.54H461.9V989.01H442.43zM423.2 1005.21H481.12V1013.68H423.2zM423.2 1013.43H461.9V1021.9H423.2zM211.72 1029.88H250.43V1038.35H211.72zM211.72 1038.1H231.2V1046.57H211.72zM188.5 1046.32H211.97V1054.8H188.5zM327.08 1046.32H346.55V1054.8H327.08zM423.2 1046.32H500.35V1054.8H423.2zM188.5 1054.55H211.97V1063.02H188.5zM188.5 1062.77H211.97V1071.24H188.5zM188.5 1070.99H231.2V1079.46H188.5zM188.5 1079.21H211.97V1087.69H188.5zM230.95 1079.21H269.65V1087.69H230.95zM188.5 1087.44H250.43V1095.91H188.5zM188.5 1095.66H250.43V1104.13H188.5zM269.4 1103.88H288.88V1112.36H269.4zM327.08 1103.88H346.55V1112.36H327.08zM307.85 1112.11H327.33V1120.58H307.85zM442.43 1112.11H500.35V1120.58H442.43zM188.5 1120.33H211.97V1128.8H188.5zM423.2 1120.33H442.68V1128.8H423.2zM230.95 1128.55H250.43V1137.03H230.95zM269.4 1128.55H327.33V1137.03H269.4zM307.85 1136.78H327.33V1145.25H307.85zM384.75 1136.78H404.23V1145.25H384.75zM423.2 1136.78H500.35V1145.25H423.2zM269.4 1153.22H288.88V1161.69H269.4zM307.85 1153.22H346.55V1161.69H307.85zM461.65 1153.22H481.12V1161.69H461.65zM211.72 1161.44H269.65V1169.92H211.72zM442.43 1161.44H481.12V1169.92H442.43zM538.55 1161.44H558.03V1169.92H538.55zM422.68 1169.7H480.8V1178.14H422.68zM210.49 1177.89H230.03V1186.33H210.49zM249.07 1177.89H268.61V1186.33H249.07zM538.42 1177.89H557.96V1186.33H538.42zM187.2 1186.08H210.74V1194.52H187.2zM249.07 1186.08H268.61V1194.52H249.07zM499.84 1186.08H519.38V1194.52H499.84zM422.68 1194.27H461.51V1202.71H422.68zM499.84 1194.27H538.67V1202.71H499.84zM422.68 1202.46H442.22V1210.9H422.68zM461.26 1202.46H480.8V1210.9H461.26zM499.84 1202.46H557.96V1210.9H499.84zM187.2 1210.65H268.61V1219.09H187.2zM187.2 1218.84H210.74V1227.28H187.2zM480.55 1218.84H500.09V1227.28H480.55zM187.2 1227.03H249.32V1235.48H187.2zM441.97 1227.03H461.51V1235.48H441.97zM480.55 1227.03H500.09V1235.48H480.55zM538.42 1227.03H581V1235.48H538.42zM210.49 1235.23H249.32V1243.67H210.49zM538.42 1235.23H557.96V1243.67H538.42zM538.42 1243.42H557.96V1251.86H538.42zM187.2 1251.61H210.74V1260.05H187.2zM249.07 1251.61H268.61V1260.05H249.07zM422.68 1251.61H442.22V1260.05H422.68zM480.55 1251.61H500.09V1260.05H480.55zM519.13 1251.61H538.67V1260.05H519.13zM422.68 1259.8H442.22V1268.24H422.68zM480.55 1259.8H500.09V1268.24H480.55zM519.13 1259.8H538.67V1268.24H519.13zM422.68 1267.99H461.51V1276.43H422.68zM519.13 1267.99H538.67V1276.43H519.13zM187.2 1276.18H210.74V1284.62H187.2zM229.78 1276.18H268.61V1284.62H229.78zM422.68 1276.18H442.22V1284.62H422.68zM187.2 1284.37H249.32V1292.81H187.2zM422.68 1284.37H461.51V1292.81H422.68zM499.84 1284.37H538.67V1292.81H499.84zM422.68 1292.56H461.51V1301H422.68zM499.84 1292.56H538.67V1301H499.84zM249.07 1300.75H268.61V1309.19H249.07zM422.68 1300.75H480.8V1309.19H422.68zM499.84 1300.75H557.96V1309.19H499.84zM187.2 1308.94H210.74V1317.38H187.2zM519.13 1308.94H538.67V1317.38H519.13zM187.2 1317.13H249.32V1325.57H187.2zM422.68 1317.13H442.22V1325.57H422.68zM229.78 1325.32H249.32V1333.76H229.78zM519.13 1325.32H557.96V1333.76H519.13zM210.49 1333.51H268.61V1341.95H210.49zM461.26 1333.51H500.09V1341.95H461.26zM519.13 1333.51H538.67V1341.95H519.13zM422.68 1341.7H442.22V1350.14H422.68zM480.55 1341.7H500.09V1350.14H480.55zM519.13 1341.7H538.67V1350.14H519.13zM187.2 1349.89H210.74V1358.33H187.2zM422.68 1349.89H461.51V1358.33H422.68zM229.78 1358.08H249.32V1366.53H229.78zM210.49 1366.28H249.32V1374.72H210.49zM538.42 1366.28H557.96V1374.72H538.42zM229.78 1374.47H249.32V1382.91H229.78zM422.68 1374.47H461.51V1382.91H422.68zM538.42 1374.47H557.96V1382.91H538.42zM210.49 1382.66H230.03V1391.1H210.49zM519.13 1382.66H557.96V1391.1H519.13zM210.49 1390.85H249.32V1399.29H210.49zM210.49 1399.04H230.03V1407.48H210.49zM249.07 1399.04H268.61V1407.48H249.07zM499.84 1399.04H538.67V1407.48H499.84zM210.49 1407.23H249.32V1415.67H210.49zM538.42 1407.23H581V1415.67H538.42zM480.55 1415.42H500.09V1423.86H480.55zM557.71 1415.42H581V1423.86H557.71zM210.49 1423.61H230.03V1432.05H210.49zM538.42 1423.61H581V1432.05H538.42zM519.13 1439.99H581V1448.43H519.13zM499.84 1448.18H557.96V1456.62H499.84zM422.68 1456.37H461.51V1464.81H422.68zM519.13 1456.37H538.67V1464.81H519.13zM422.68 1464.56H461.51V1473H422.68zM538.42 1464.56H557.96V1473H538.42zM422.68 1472.75H500.09V1481.19H422.68zM557.71 1472.75H581V1481.19H557.71zM422.68 1480.94H442.22V1489.38H422.68zM461.26 1480.94H480.8V1489.38H461.26zM557.71 1480.94H581V1489.38H557.71zM422.68 1489.13H461.51V1497.58H422.68zM538.42 1489.13H557.96V1497.58H538.42zM422.68 1497.33H480.8V1505.77H422.68zM557.71 1497.33H581V1505.77H557.71zM461.26 1505.52H480.8V1513.96H461.26zM557.71 1505.52H581V1513.96H557.71zM422.68 1513.71H461.51V1522.15H422.68zM480.55 1513.71H500.09V1522.15H480.55zM557.71 1513.71H581V1522.15H557.71zM441.97 1521.9H480.8V1530.34H441.97zM422.68 1530.09H442.22V1538.53H422.68zM461.26 1530.09H500.09V1538.53H461.26zM538.42 1530.09H581V1538.53H538.42zM422.68 1538.28H442.22V1546.72H422.68zM480.55 1538.28H500.09V1546.72H480.55zM557.71 1538.28H581V1546.72H557.71zM461.26 1546.47H500.09V1554.91H461.26zM249.07 1554.66H268.61V1563.1H249.07zM557.71 1554.66H581V1563.1H557.71zM210.49 1562.85H230.03V1571.29H210.49zM441.97 1562.85H461.51V1571.29H441.97zM538.42 1562.85H581V1571.29H538.42zM229.78 1571.04H249.32V1579.48H229.78zM422.68 1571.04H442.22V1579.48H422.68zM499.84 1571.04H519.38V1579.48H499.84zM557.71 1571.04H581V1579.48H557.71zM422.68 1579.23H461.51V1587.67H422.68zM422.68 1587.42H442.22V1595.86H422.68zM461.26 1587.42H500.09V1595.86H461.26zM557.71 1587.42H581V1595.86H557.71zM422.68 1595.61H442.22V1604.05H422.68zM461.26 1595.61H480.8V1604.05H461.26zM422.68 1603.8H500.09V1612.24H422.68zM557.71 1603.8H581V1612.24H557.71zM519.13 1611.99H538.67V1620.43H519.13zM187.2 1620.18H210.74V1628.62H187.2zM287.65 1620.18H307.19V1628.62H287.65zM422.68 1620.18H442.22V1628.62H422.68zM287.65 1628.38H307.19V1636.82H287.65zM499.84 1628.38H519.38V1636.82H499.84zM557.71 1628.38H581V1636.82H557.71zM268.36 1636.57H287.9V1645.01H268.36zM499.84 1636.57H519.38V1645.01H499.84zM229.78 1644.76H249.32V1653.2H229.78zM287.65 1644.76H307.19V1653.2H287.65zM499.84 1644.76H519.38V1653.2H499.84zM422.68 1652.95H461.51V1661.39H422.68zM480.55 1652.95H500.09V1661.39H480.55zM229.78 1661.14H249.32V1669.58H229.78zM287.65 1661.14H307.19V1669.58H287.65zM422.68 1661.14H461.51V1669.58H422.68zM480.55 1661.14H500.09V1669.58H480.55zM229.78 1669.33H268.61V1677.77H229.78zM480.55 1669.33H500.09V1677.77H480.55zM557.71 1669.33H581V1677.77H557.71zM187.2 1677.52H210.74V1685.96H187.2zM249.07 1677.52H268.61V1685.96H249.07zM287.65 1677.52H307.19V1685.96H287.65zM480.55 1677.52H519.38V1685.96H480.55zM538.42 1677.52H581V1685.96H538.42zM187.2 1685.71H210.74V1694.15H187.2zM229.78 1685.71H249.32V1694.15H229.78zM499.84 1685.71H519.38V1694.15H499.84zM557.71 1685.71H581V1694.15H557.71zM268.36 1693.9H287.9V1702.1H268.36zM499.84 1693.9H519.38V1702.1H499.84zM249.07 1701.85H268.61V1710.35H249.07zM287.65 1701.85H345.77V1710.35H287.65zM519.13 1701.85H538.67V1710.35H519.13zM210.49 1710.1H230.03V1718.6H210.49zM461.26 1710.1H500.09V1718.6H461.26zM187.2 1718.35H210.74V1726.85H187.2zM422.68 1718.35H442.22V1726.85H422.68zM187.2 1726.6H210.74V1735.1H187.2zM441.97 1726.6H480.8V1735.1H441.97zM249.07 1734.85H268.61V1743.35H249.07zM187.2 1751.35H210.74V1759.85H187.2zM422.68 1751.35H442.22V1759.85H422.68zM480.55 1776.1H500.09V1784.6H480.55zM441.97 1784.35H461.51V1792.85H441.97zM538.42 1800.85H557.96V1809.35H538.42zM326.23 1809.1H345.77V1817.6H326.23zM499.84 1817.35H519.38V1825.85H499.84zM480.55 1825.6H500.09V1834.1H480.55zM210.49 1833.85H249.32V1842.35H210.49zM480.55 1833.85H500.09V1842.35H480.55zM499.84 1850.35H538.67V1858.85H499.84zM499.84 1858.6H538.67V1867.1H499.84zM210.49 1875.1H249.32V1883.6H210.49zM345.52 1875.1H365.06V1883.6H345.52zM499.84 1875.1H519.38V1883.6H499.84zM538.42 1875.1H557.96V1883.6H538.42zM210.49 1883.35H268.61V1891.85H210.49zM422.68 1883.35H442.22V1891.85H422.68zM480.55 1883.35H519.38V1891.85H480.55zM210.49 1891.6H268.61V1900.1H210.49zM441.97 1891.6H461.51V1900.1H441.97zM187.2 1899.85H210.74V1908.35H187.2zM249.07 1899.85H268.61V1908.35H249.07zM519.13 1899.85H538.67V1908.35H519.13zM210.49 1908.1H268.61V1916.6H210.49zM519.13 1908.1H538.67V1916.6H519.13zM210.49 1916.35H249.32V1924.85H210.49zM384.1 1916.35H422.93V1924.85H384.1zM441.97 1924.6H461.51V1936.85H441.97zM557.71 1924.6H581V1936.85H557.71z"/>
<path fill="#100000" d="M423.2 72.9H442.68V117.37H423.2zM538.55 117.12H558.03V125.6H538.55zM557.78 125.35H581V133.82H557.78zM519.33 240.47H538.8V248.94H519.33zM500.1 256.91H519.58V265.39H500.1zM423.2 265.14H442.68V273.61H423.2zM327.08 289.81H346.55V298.28H327.08zM480.88 306.25H500.35V314.73H480.88zM500.1 322.7H519.58V331.17H500.1zM538.55 322.7H558.03V331.17H538.55zM519.33 330.92H538.8V339.39H519.33zM557.78 339.14H581V347.62H557.78zM423.2 347.37H442.68V355.84H423.2zM500.1 347.37H519.58V355.84H500.1zM288.62 437.82H308.1V446.29H288.62zM461.65 470.71H481.12V479.19H461.65zM327.08 585.83H346.55V594.31H327.08zM288.62 692.73H308.1V701.21H288.62zM327.08 692.73H346.55V701.21H327.08zM423.2 692.73H442.68V701.21H423.2zM327.08 742.07H346.55V750.54H327.08zM384.75 816.08H404.23V824.55H384.75zM423.2 832.52H442.68V841H423.2zM327.08 865.42H346.55V873.89H327.08zM519.33 881.86H538.8V890.34H519.33zM327.08 947.65H346.55V956.12H327.08zM269.4 996.98H288.88V1005.46H269.4zM269.4 1013.43H288.88V1021.9H269.4zM307.85 1120.33H327.33V1128.8H307.85zM269.4 1136.78H288.88V1145.25H269.4zM211.72 1153.22H231.2V1161.69H211.72zM441.97 1186.08H461.51V1194.52H441.97zM461.26 1218.84H480.8V1227.28H461.26zM557.71 1235.23H581V1243.67H557.71zM229.78 1243.42H249.32V1251.86H229.78zM461.26 1251.61H480.8V1260.05H461.26zM480.55 1267.99H500.09V1276.43H480.55zM538.42 1292.56H557.96V1301H538.42zM499.84 1333.51H519.38V1341.95H499.84zM461.26 1349.89H480.8V1358.33H461.26zM187.2 1358.08H210.74V1366.53H187.2zM480.55 1358.08H500.09V1366.53H480.55zM187.2 1374.47H210.74V1382.91H187.2zM249.07 1374.47H268.61V1382.91H249.07zM187.2 1399.04H210.74V1407.48H187.2zM187.2 1407.23H210.74V1415.67H187.2zM249.07 1407.23H268.61V1415.67H249.07zM557.71 1448.18H581V1456.62H557.71zM229.78 1464.56H249.32V1473H229.78zM557.71 1464.56H581V1473H557.71zM557.71 1489.13H581V1497.58H557.71zM557.71 1521.9H581V1530.34H557.71zM287.65 1611.99H307.19V1620.43H287.65zM499.84 1620.18H519.38V1628.62H499.84zM538.42 1620.18H557.96V1628.62H538.42zM210.49 1628.38H230.03V1636.82H210.49zM249.07 1636.57H268.61V1645.01H249.07zM538.42 1636.57H557.96V1645.01H538.42zM249.07 1644.76H268.61V1653.2H249.07zM538.42 1652.95H557.96V1661.39H538.42zM249.07 1661.14H268.61V1669.58H249.07zM287.65 1669.33H307.19V1677.77H287.65zM441.97 1701.85H461.51V1710.35H441.97zM499.84 1718.35H519.38V1726.85H499.84zM461.26 1734.85H480.8V1743.35H461.26zM557.71 1833.85H581V1842.35H557.71zM519.13 1866.85H538.67V1875.35H519.13zM187.2 1891.6H210.74V1900.1H187.2z"/>
<path fill="#300000" d="M442.43 68.9H461.9V117.37H442.43zM269.4 117.12H288.88V125.6H269.4zM365.52 117.12H385V125.6H365.52zM403.98 117.12H423.45V125.6H403.98zM519.33 117.12H538.8V125.6H519.33zM269.4 125.35H308.1V133.82H269.4zM327.08 125.35H385V133.82H327.08zM269.4 158.24H288.88V166.71H269.4zM269.4 166.46H288.88V174.93H269.4zM269.4 191.13H288.88V199.6H269.4zM288.62 199.35H308.1V207.83H288.62zM327.08 199.35H346.55V207.83H327.08zM557.78 199.35H581V207.83H557.78zM288.62 207.58H308.1V216.05H288.62zM269.4 215.8H308.1V224.27H269.4zM538.55 215.8H558.03V224.27H538.55zM269.4 224.02H288.88V232.5H269.4zM307.85 224.02H346.55V232.5H307.85zM403.98 224.02H423.45V232.5H403.98zM500.1 224.02H519.58V232.5H500.1zM307.85 232.25H346.55V240.72H307.85zM557.78 232.25H581V240.72H557.78zM288.62 240.47H327.33V248.94H288.62zM403.98 240.47H423.45V248.94H403.98zM538.55 240.47H581V248.94H538.55zM288.62 248.69H346.55V257.16H288.62zM538.55 248.69H581V257.16H538.55zM307.85 256.91H327.33V265.39H307.85zM288.62 265.14H308.1V273.61H288.62zM327.08 265.14H346.55V273.61H327.08zM365.52 265.14H385V273.61H365.52zM403.98 265.14H423.45V273.61H403.98zM480.88 265.14H500.35V273.61H480.88zM288.62 273.36H308.1V281.83H288.62zM327.08 273.36H346.55V281.83H327.08zM384.75 273.36H404.23V281.83H384.75zM423.2 273.36H481.12V281.83H423.2zM288.62 281.58H308.1V290.06H288.62zM288.62 289.81H327.33V298.28H288.62zM346.3 289.81H365.77V298.28H346.3zM500.1 289.81H538.8V298.28H500.1zM423.2 298.03H500.35V306.5H423.2zM538.55 298.03H558.03V306.5H538.55zM384.75 306.25H404.23V314.73H384.75zM557.78 306.25H581V314.73H557.78zM250.18 314.48H269.65V322.95H250.18zM519.33 314.48H558.03V322.95H519.33zM423.2 322.7H442.68V331.17H423.2zM461.65 322.7H500.35V331.17H461.65zM557.78 322.7H581V331.17H557.78zM307.85 330.92H327.33V339.39H307.85zM423.2 330.92H442.68V339.39H423.2zM480.88 330.92H519.58V339.39H480.88zM557.78 330.92H581V339.39H557.78zM307.85 339.14H327.33V347.62H307.85zM500.1 339.14H538.8V347.62H500.1zM307.85 347.37H327.33V355.84H307.85zM519.33 347.37H558.03V355.84H519.33zM288.62 355.59H327.33V364.06H288.62zM423.2 355.59H500.35V364.06H423.2zM188.5 363.81H211.97V372.29H188.5zM327.08 363.81H346.55V372.29H327.08zM423.2 363.81H461.9V372.29H423.2zM480.88 363.81H500.35V372.29H480.88zM538.55 363.81H581V372.29H538.55zM423.2 372.04H442.68V380.51H423.2zM480.88 372.04H500.35V380.51H480.88zM403.98 380.26H423.45V388.73H403.98zM269.4 388.48H288.88V396.96H269.4zM365.52 388.48H423.45V396.96H365.52zM480.88 388.48H500.35V396.96H480.88zM519.33 388.48H538.8V396.96H519.33zM365.52 396.71H385V405.18H365.52zM461.65 396.71H481.12V405.18H461.65zM365.52 404.93H385V413.4H365.52zM403.98 404.93H519.58V413.4H403.98zM403.98 413.15H442.68V421.62H403.98zM461.65 413.15H481.12V421.62H461.65zM500.1 413.15H519.58V421.62H500.1zM346.3 429.6H365.77V438.07H346.3zM403.98 429.6H423.45V438.07H403.98zM538.55 429.6H558.03V438.07H538.55zM307.85 437.82H346.55V446.29H307.85zM538.55 437.82H581V446.29H538.55zM365.52 446.04H385V454.52H365.52zM403.98 446.04H423.45V454.52H403.98zM557.78 446.04H581V454.52H557.78zM365.52 454.27H423.45V462.74H365.52zM538.55 454.27H558.03V462.74H538.55zM384.75 462.49H404.23V470.96H384.75zM423.2 462.49H481.12V470.96H423.2zM384.75 470.71H404.23V479.19H384.75zM423.2 470.71H442.68V479.19H423.2zM480.88 470.71H500.35V479.19H480.88zM346.3 478.94H385V487.41H346.3zM423.2 478.94H442.68V487.41H423.2zM480.88 478.94H500.35V487.41H480.88zM346.3 487.16H385V495.63H346.3zM403.98 487.16H442.68V495.63H403.98zM480.88 487.16H500.35V495.63H480.88zM269.4 495.38H288.88V503.85H269.4zM403.98 495.38H423.45V503.85H403.98zM461.65 495.38H481.12V503.85H461.65zM346.3 511.83H423.45V520.3H346.3zM346.3 520.05H423.45V528.52H346.3zM500.1 520.05H519.58V528.52H500.1zM538.55 520.05H558.03V528.52H538.55zM346.3 528.27H385V536.75H346.3zM403.98 528.27H423.45V536.75H403.98zM500.1 528.27H519.58V536.75H500.1zM346.3 536.5H365.77V544.97H346.3zM384.75 536.5H423.45V544.97H384.75zM519.33 536.5H538.8V544.97H519.33zM384.75 544.72H423.45V553.19H384.75zM269.4 552.94H327.33V561.42H269.4zM384.75 552.94H404.23V561.42H384.75zM423.2 552.94H442.68V561.42H423.2zM269.4 561.17H308.1V569.64H269.4zM327.08 561.17H346.55V569.64H327.08zM500.1 561.17H519.58V569.64H500.1zM288.62 569.39H327.33V577.86H288.62zM500.1 569.39H519.58V577.86H500.1zM269.4 577.61H327.33V586.08H269.4zM423.2 577.61H442.68V586.08H423.2zM461.65 577.61H500.35V586.08H461.65zM500.1 585.83H519.58V594.31H500.1zM269.4 594.06H308.1V602.53H269.4zM327.08 594.06H346.55V602.53H327.08zM423.2 594.06H442.68V602.53H423.2zM480.88 594.06H500.35V602.53H480.88zM327.08 602.28H346.55V610.75H327.08zM423.2 602.28H442.68V610.75H423.2zM500.1 602.28H519.58V610.75H500.1zM423.2 610.5H442.68V618.98H423.2zM461.65 610.5H519.58V618.98H461.65zM423.2 618.73H481.12V627.2H423.2zM500.1 618.73H519.58V627.2H500.1zM307.85 626.95H327.33V635.42H307.85zM423.2 626.95H481.12V635.42H423.2zM500.1 626.95H519.58V635.42H500.1zM384.75 635.17H404.23V643.64H384.75zM423.2 635.17H442.68V643.64H423.2zM461.65 635.17H519.58V643.64H461.65zM307.85 643.39H327.33V651.87H307.85zM500.1 651.62H519.58V660.09H500.1zM269.4 659.84H288.88V668.31H269.4zM500.1 659.84H519.58V668.31H500.1zM423.2 676.29H500.35V684.76H423.2zM230.95 684.51H250.43V692.98H230.95zM269.4 684.51H288.88V692.98H269.4zM327.08 684.51H346.55V692.98H327.08zM480.88 692.73H500.35V701.21H480.88zM288.62 700.96H308.1V709.43H288.62zM269.4 709.18H346.55V717.65H269.4zM403.98 709.18H423.45V717.65H403.98zM442.43 717.4H461.9V725.88H442.43zM269.4 725.62H288.88V734.1H269.4zM307.85 725.62H327.33V734.1H307.85zM423.2 725.62H442.68V734.1H423.2zM269.4 733.85H288.88V742.32H269.4zM307.85 733.85H327.33V742.32H307.85zM461.65 733.85H500.35V742.32H461.65zM269.4 742.07H308.1V750.54H269.4zM307.85 750.29H327.33V758.77H307.85zM538.55 750.29H558.03V758.77H538.55zM269.4 766.74H288.88V775.21H269.4zM269.4 774.96H288.88V783.44H269.4zM346.3 799.63H423.45V808.11H346.3zM538.55 799.63H581V808.11H538.55zM365.52 816.08H385V824.55H365.52zM557.78 816.08H581V824.55H557.78zM188.5 824.3H211.97V832.77H188.5zM346.3 824.3H365.77V832.77H346.3zM403.98 824.3H423.45V832.77H403.98zM480.88 832.52H538.8V841H480.88zM188.5 840.75H211.97V849.22H188.5zM288.62 840.75H308.1V849.22H288.62zM211.72 848.97H231.2V857.44H211.72zM403.98 857.19H442.68V865.67H403.98zM500.1 890.09H519.58V898.56H500.1zM538.55 890.09H558.03V898.56H538.55zM188.5 898.31H211.97V906.78H188.5zM403.98 898.31H423.45V906.78H403.98zM500.1 898.31H538.8V906.78H500.1zM211.72 906.53H269.65V915H211.72zM188.5 914.75H211.97V923.23H188.5zM519.33 914.75H538.8V923.23H519.33zM288.62 922.98H346.55V931.45H288.62zM500.1 931.2H519.58V939.67H500.1zM538.55 931.2H581V939.67H538.55zM519.33 939.42H538.8V947.9H519.33zM557.78 939.42H581V947.9H557.78zM346.3 947.65H423.45V956.12H346.3zM557.78 955.87H581V964.34H557.78zM288.62 964.09H327.33V972.57H288.62zM519.33 964.09H581V972.57H519.33zM188.5 972.32H211.97V980.79H188.5zM269.4 972.32H288.88V980.79H269.4zM307.85 972.32H327.33V980.79H307.85zM480.88 972.32H500.35V980.79H480.88zM327.08 980.54H346.55V989.01H327.08zM461.65 980.54H481.12V989.01H461.65zM442.43 988.76H461.9V997.23H442.43zM442.43 996.98H481.12V1005.46H442.43zM461.65 1013.43H500.35V1021.9H461.65zM307.85 1021.65H346.55V1030.13H307.85zM423.2 1021.65H500.35V1030.13H423.2zM230.95 1038.1H250.43V1046.57H230.95zM269.4 1046.32H327.33V1054.8H269.4zM188.5 1103.88H250.43V1112.36H188.5zM288.62 1103.88H327.33V1112.36H288.62zM423.2 1103.88H500.35V1112.36H423.2zM288.62 1112.11H308.1V1120.58H288.62zM423.2 1112.11H442.68V1120.58H423.2zM230.95 1120.33H269.65V1128.8H230.95zM288.62 1120.33H308.1V1128.8H288.62zM442.43 1120.33H481.12V1128.8H442.43zM188.5 1128.55H211.97V1137.03H188.5zM327.08 1128.55H346.55V1137.03H327.08zM480.88 1128.55H500.35V1137.03H480.88zM288.62 1136.78H308.1V1145.25H288.62zM327.08 1136.78H365.77V1145.25H327.08zM423.2 1145H500.35V1153.47H423.2zM230.95 1153.22H250.43V1161.69H230.95zM288.62 1153.22H308.1V1161.69H288.62zM403.98 1153.22H423.45V1161.69H403.98zM188.5 1161.44H211.97V1169.92H188.5zM269.4 1161.44H288.88V1169.92H269.4zM423.2 1161.44H442.68V1169.92H423.2zM557.78 1161.44H581V1169.92H557.78zM187.2 1169.7H249.32V1178.14H187.2zM326.23 1169.7H345.77V1178.14H326.23zM480.55 1169.7H519.38V1178.14H480.55zM538.42 1169.7H557.96V1178.14H538.42zM480.55 1177.89H519.38V1186.33H480.55zM557.71 1177.89H581V1186.33H557.71zM461.26 1186.08H500.09V1194.52H461.26zM519.13 1186.08H538.67V1194.52H519.13zM249.07 1194.27H268.61V1202.71H249.07zM229.78 1202.46H268.61V1210.9H229.78zM557.71 1202.46H581V1210.9H557.71zM422.68 1210.65H442.22V1219.09H422.68zM461.26 1210.65H480.8V1219.09H461.26zM499.84 1210.65H538.67V1219.09H499.84zM210.49 1218.84H249.32V1227.28H210.49zM422.68 1218.84H442.22V1227.28H422.68zM557.71 1218.84H581V1227.28H557.71zM422.68 1227.03H442.22V1235.48H422.68zM461.26 1227.03H480.8V1235.48H461.26zM187.2 1235.23H210.74V1243.67H187.2zM249.07 1235.23H268.61V1243.67H249.07zM306.94 1235.23H326.48V1243.67H306.94zM461.26 1235.23H500.09V1243.67H461.26zM187.2 1243.42H230.03V1251.86H187.2zM461.26 1243.42H500.09V1251.86H461.26zM557.71 1243.42H581V1251.86H557.71zM210.49 1251.61H249.32V1260.05H210.49zM268.36 1251.61H287.9V1260.05H268.36zM441.97 1259.8H480.8V1268.24H441.97zM557.71 1259.8H581V1268.24H557.71zM249.07 1267.99H268.61V1276.43H249.07zM461.26 1267.99H480.8V1276.43H461.26zM499.84 1276.18H557.96V1284.62H499.84zM461.26 1284.37H480.8V1292.81H461.26zM538.42 1284.37H581V1292.81H538.42zM461.26 1292.56H500.09V1301H461.26zM557.71 1292.56H581V1301H557.71zM480.55 1300.75H500.09V1309.19H480.55zM557.71 1300.75H581V1309.19H557.71zM441.97 1308.94H500.09V1317.38H441.97zM538.42 1308.94H581V1317.38H538.42zM441.97 1317.13H500.09V1325.57H441.97zM538.42 1317.13H557.96V1325.57H538.42zM187.2 1325.32H210.74V1333.76H187.2zM422.68 1325.32H500.09V1333.76H422.68zM557.71 1325.32H581V1333.76H557.71zM306.94 1333.51H326.48V1341.95H306.94zM187.2 1341.7H210.74V1350.14H187.2zM229.78 1341.7H268.61V1350.14H229.78zM499.84 1341.7H519.38V1350.14H499.84zM538.42 1341.7H581V1350.14H538.42zM210.49 1349.89H230.03V1358.33H210.49zM480.55 1349.89H500.09V1358.33H480.55zM557.71 1349.89H581V1358.33H557.71zM268.36 1358.08H287.9V1366.53H268.36zM326.23 1358.08H345.77V1366.53H326.23zM557.71 1358.08H581V1366.53H557.71zM249.07 1366.28H268.61V1374.72H249.07zM441.97 1366.28H461.51V1374.72H441.97zM480.55 1366.28H500.09V1374.72H480.55zM557.71 1366.28H581V1374.72H557.71zM519.13 1374.47H538.67V1382.91H519.13zM229.78 1382.66H249.32V1391.1H229.78zM441.97 1390.85H461.51V1399.29H441.97zM480.55 1390.85H500.09V1399.29H480.55zM519.13 1390.85H581V1399.29H519.13zM480.55 1399.04H500.09V1407.48H480.55zM538.42 1399.04H581V1407.48H538.42zM422.68 1407.23H442.22V1415.67H422.68zM480.55 1407.23H500.09V1415.67H480.55zM422.68 1423.61H442.22V1432.05H422.68zM461.26 1423.61H500.09V1432.05H461.26zM461.26 1431.8H500.09V1440.24H461.26zM229.78 1439.99H268.61V1448.43H229.78zM480.55 1439.99H500.09V1448.43H480.55zM210.49 1448.18H268.61V1456.62H210.49zM480.55 1448.18H500.09V1456.62H480.55zM187.2 1456.37H210.74V1464.81H187.2zM384.1 1456.37H403.64V1464.81H384.1zM499.84 1456.37H519.38V1464.81H499.84zM557.71 1456.37H581V1464.81H557.71zM187.2 1464.56H210.74V1473H187.2zM519.13 1464.56H538.67V1473H519.13zM210.49 1472.75H249.32V1481.19H210.49zM519.13 1472.75H538.67V1481.19H519.13zM187.2 1480.94H210.74V1489.38H187.2zM441.97 1480.94H461.51V1489.38H441.97zM480.55 1480.94H500.09V1489.38H480.55zM187.2 1489.13H210.74V1497.58H187.2zM480.55 1489.13H500.09V1497.58H480.55zM187.2 1497.33H210.74V1505.77H187.2zM249.07 1497.33H268.61V1505.77H249.07zM480.55 1497.33H500.09V1505.77H480.55zM249.07 1513.71H268.61V1522.15H249.07zM210.49 1521.9H230.03V1530.34H210.49zM249.07 1521.9H287.9V1530.34H249.07zM326.23 1521.9H345.77V1530.34H326.23zM538.42 1521.9H557.96V1530.34H538.42zM210.49 1530.09H230.03V1538.53H210.49zM210.49 1538.28H230.03V1546.72H210.49zM538.42 1538.28H557.96V1546.72H538.42zM249.07 1546.47H268.61V1554.91H249.07zM557.71 1546.47H581V1554.91H557.71zM210.49 1554.66H249.32V1563.1H210.49zM229.78 1562.85H249.32V1571.29H229.78zM422.68 1562.85H442.22V1571.29H422.68zM461.26 1562.85H480.8V1571.29H461.26zM461.26 1571.04H480.8V1579.48H461.26zM461.26 1579.23H500.09V1587.67H461.26zM557.71 1595.61H581V1604.05H557.71zM287.65 1603.8H326.48V1612.24H287.65zM210.49 1611.99H230.03V1620.43H210.49zM441.97 1611.99H461.51V1620.43H441.97zM480.55 1611.99H500.09V1620.43H480.55zM249.07 1620.18H287.9V1628.62H249.07zM441.97 1620.18H461.51V1628.62H441.97zM249.07 1628.38H287.9V1636.82H249.07zM422.68 1628.38H442.22V1636.82H422.68zM538.42 1628.38H557.96V1636.82H538.42zM187.2 1636.57H230.03V1645.01H187.2zM422.68 1636.57H461.51V1645.01H422.68zM557.71 1636.57H581V1645.01H557.71zM210.49 1644.76H230.03V1653.2H210.49zM441.97 1644.76H500.09V1653.2H441.97zM538.42 1644.76H557.96V1653.2H538.42zM187.2 1652.95H249.32V1661.39H187.2zM287.65 1652.95H307.19V1661.39H287.65zM326.23 1652.95H345.77V1661.39H326.23zM461.26 1652.95H480.8V1661.39H461.26zM499.84 1652.95H519.38V1661.39H499.84zM210.49 1661.14H230.03V1669.58H210.49zM306.94 1661.14H326.48V1669.58H306.94zM499.84 1661.14H519.38V1669.58H499.84zM538.42 1661.14H557.96V1669.58H538.42zM210.49 1669.33H230.03V1677.77H210.49zM326.23 1669.33H345.77V1677.77H326.23zM422.68 1669.33H442.22V1677.77H422.68zM499.84 1669.33H519.38V1677.77H499.84zM538.42 1669.33H557.96V1677.77H538.42zM210.49 1677.52H249.32V1685.96H210.49zM210.49 1685.71H230.03V1694.15H210.49zM287.65 1685.71H307.19V1694.15H287.65zM480.55 1685.71H500.09V1694.15H480.55zM538.42 1685.71H557.96V1694.15H538.42zM210.49 1693.9H230.03V1702.1H210.49zM249.07 1693.9H268.61V1702.1H249.07zM480.55 1693.9H500.09V1702.1H480.55zM538.42 1693.9H581V1702.1H538.42zM210.49 1701.85H230.03V1710.35H210.49zM422.68 1701.85H442.22V1710.35H422.68zM461.26 1701.85H519.38V1710.35H461.26zM538.42 1701.85H557.96V1710.35H538.42zM499.84 1710.1H519.38V1718.6H499.84zM557.71 1710.1H581V1718.6H557.71zM441.97 1718.35H461.51V1726.85H441.97zM538.42 1718.35H557.96V1726.85H538.42zM499.84 1726.6H519.38V1735.1H499.84zM538.42 1726.6H581V1735.1H538.42zM422.68 1734.85H461.51V1743.35H422.68zM499.84 1734.85H519.38V1743.35H499.84zM557.71 1734.85H581V1743.35H557.71zM441.97 1743.1H500.09V1751.6H441.97zM441.97 1751.35H500.09V1759.85H441.97zM480.55 1759.6H500.09V1768.1H480.55zM538.42 1759.6H557.96V1768.1H538.42zM345.52 1767.85H365.06V1776.35H345.52zM422.68 1776.1H480.8V1784.6H422.68zM326.23 1784.35H345.77V1792.85H326.23zM480.55 1784.35H500.09V1792.85H480.55zM538.42 1784.35H557.96V1792.85H538.42zM422.68 1792.6H442.22V1801.1H422.68zM499.84 1792.6H519.38V1801.1H499.84zM538.42 1792.6H557.96V1801.1H538.42zM499.84 1800.85H538.67V1809.35H499.84zM557.71 1800.85H581V1809.35H557.71zM499.84 1809.1H557.96V1817.6H499.84zM480.55 1817.35H500.09V1825.85H480.55zM538.42 1817.35H557.96V1825.85H538.42zM187.2 1825.6H210.74V1834.1H187.2zM422.68 1825.6H442.22V1834.1H422.68zM461.26 1825.6H480.8V1834.1H461.26zM499.84 1825.6H519.38V1834.1H499.84zM538.42 1825.6H557.96V1834.1H538.42zM441.97 1833.85H461.51V1842.35H441.97zM499.84 1833.85H538.67V1842.35H499.84zM210.49 1842.1H230.03V1850.6H210.49zM538.42 1850.35H581V1858.85H538.42zM538.42 1858.6H581V1867.1H538.42zM229.78 1866.85H249.32V1875.35H229.78zM345.52 1866.85H365.06V1875.35H345.52zM403.39 1866.85H422.93V1875.35H403.39zM384.1 1875.1H403.64V1883.6H384.1zM187.2 1883.35H210.74V1891.85H187.2zM345.52 1883.35H365.06V1891.85H345.52zM461.26 1883.35H480.8V1891.85H461.26zM519.13 1883.35H557.96V1891.85H519.13zM422.68 1891.6H442.22V1900.1H422.68zM480.55 1891.6H500.09V1900.1H480.55zM519.13 1891.6H581V1900.1H519.13zM345.52 1899.85H384.35V1908.35H345.52zM403.39 1899.85H422.93V1908.35H403.39zM499.84 1899.85H519.38V1908.35H499.84zM557.71 1899.85H581V1908.35H557.71zM187.2 1908.1H210.74V1916.6H187.2zM345.52 1908.1H422.93V1916.6H345.52zM538.42 1908.1H581V1916.6H538.42zM249.07 1916.35H268.61V1924.85H249.07zM345.52 1916.35H384.35V1924.85H345.52zM210.49 1924.6H249.32V1936.85H210.49zM519.13 1924.6H557.96V1936.85H519.13z"/>
<path fill="#8a0000" d="M480.88 60.9H500.35V117.37H480.88zM423.2 117.12H442.68V125.6H423.2zM461.65 117.12H500.35V125.6H461.65zM557.78 117.12H581V125.6H557.78zM423.2 125.35H442.68V133.82H423.2zM461.65 125.35H481.12V133.82H461.65zM442.43 133.57H461.9V142.04H442.43zM480.88 133.57H500.35V142.04H480.88zM519.33 133.57H558.03V142.04H519.33zM442.43 141.79H500.35V150.27H442.43zM519.33 141.79H538.8V150.27H519.33zM461.65 150.02H500.35V158.49H461.65zM519.33 150.02H538.8V158.49H519.33zM423.2 158.24H442.68V166.71H423.2zM461.65 158.24H500.35V166.71H461.65zM519.33 158.24H558.03V166.71H519.33zM423.2 166.46H500.35V174.93H423.2zM423.2 174.68H500.35V183.16H423.2zM519.33 174.68H538.8V183.16H519.33zM423.2 182.91H500.35V191.38H423.2zM538.55 182.91H581V191.38H538.55zM423.2 191.13H442.68V199.6H423.2zM480.88 191.13H500.35V199.6H480.88zM538.55 191.13H581V199.6H538.55zM442.43 199.35H461.9V207.83H442.43zM480.88 199.35H519.58V207.83H480.88zM442.43 207.58H481.12V216.05H442.43zM423.2 215.8H442.68V224.27H423.2zM461.65 215.8H481.12V224.27H461.65zM442.43 224.02H500.35V232.5H442.43zM269.4 232.25H288.88V240.72H269.4zM442.43 232.25H500.35V240.72H442.43zM269.4 240.47H288.88V248.94H269.4zM423.2 240.47H481.12V248.94H423.2zM423.2 248.69H442.68V257.16H423.2zM480.88 248.69H500.35V257.16H480.88zM423.2 256.91H442.68V265.39H423.2zM538.55 265.14H558.03V273.61H538.55zM269.4 281.58H288.88V290.06H269.4zM423.2 281.58H481.12V290.06H423.2zM423.2 289.81H442.68V298.28H423.2zM461.65 289.81H500.35V298.28H461.65zM288.62 298.03H308.1V306.5H288.62zM327.08 298.03H346.55V306.5H327.08zM500.1 298.03H519.58V306.5H500.1zM500.1 306.25H519.58V314.73H500.1zM288.62 314.48H327.33V322.95H288.62zM423.2 314.48H442.68V322.95H423.2zM269.4 322.7H288.88V331.17H269.4zM307.85 322.7H327.33V331.17H307.85zM269.4 330.92H288.88V339.39H269.4zM269.4 339.14H288.88V347.62H269.4zM423.2 339.14H442.68V347.62H423.2zM269.4 347.37H288.88V355.84H269.4zM442.43 347.37H461.9V355.84H442.43zM269.4 355.59H288.88V364.06H269.4zM538.55 355.59H558.03V364.06H538.55zM269.4 372.04H288.88V380.51H269.4zM230.95 380.26H250.43V388.73H230.95zM461.65 388.48H481.12V396.96H461.65zM269.4 396.71H288.88V405.18H269.4zM423.2 396.71H461.9V405.18H423.2zM288.62 404.93H346.55V413.4H288.62zM307.85 413.15H346.55V421.62H307.85zM307.85 421.37H346.55V429.85H307.85zM423.2 421.37H442.68V429.85H423.2zM269.4 429.6H288.88V438.07H269.4zM307.85 429.6H327.33V438.07H307.85zM423.2 429.6H442.68V438.07H423.2zM461.65 429.6H481.12V438.07H461.65zM269.4 437.82H288.88V446.29H269.4zM461.65 437.82H481.12V446.29H461.65zM461.65 446.04H500.35V454.52H461.65zM307.85 454.27H327.33V462.74H307.85zM461.65 454.27H481.12V462.74H461.65zM307.85 462.49H327.33V470.96H307.85zM346.3 470.71H365.77V479.19H346.3zM442.43 470.71H461.9V479.19H442.43zM269.4 478.94H288.88V487.41H269.4zM307.85 478.94H346.55V487.41H307.85zM288.62 487.16H327.33V495.63H288.62zM288.62 495.38H327.33V503.85H288.62zM288.62 503.6H327.33V512.08H288.62zM423.2 503.6H442.68V512.08H423.2zM269.4 511.83H288.88V520.3H269.4zM327.08 511.83H346.55V520.3H327.08zM269.4 520.05H288.88V528.52H269.4zM327.08 520.05H346.55V528.52H327.08zM269.4 528.27H288.88V536.75H269.4zM327.08 528.27H346.55V536.75H327.08zM288.62 536.5H308.1V544.97H288.62zM269.4 544.72H288.88V553.19H269.4zM442.43 544.72H461.9V553.19H442.43zM346.3 552.94H365.77V561.42H346.3zM442.43 552.94H481.12V561.42H442.43zM346.3 561.17H365.77V569.64H346.3zM384.75 561.17H404.23V569.64H384.75zM403.98 577.61H423.45V586.08H403.98zM346.3 585.83H365.77V594.31H346.3zM403.98 585.83H423.45V594.31H403.98zM346.3 594.06H423.45V602.53H346.3zM288.62 602.28H327.33V610.75H288.62zM346.3 602.28H365.77V610.75H346.3zM384.75 602.28H404.23V610.75H384.75zM269.4 610.5H308.1V618.98H269.4zM346.3 610.5H365.77V618.98H346.3zM384.75 610.5H423.45V618.98H384.75zM269.4 618.73H288.88V627.2H269.4zM365.52 618.73H423.45V627.2H365.52zM269.4 626.95H288.88V635.42H269.4zM346.3 626.95H423.45V635.42H346.3zM269.4 635.17H288.88V643.64H269.4zM327.08 635.17H346.55V643.64H327.08zM346.3 643.39H404.23V651.87H346.3zM269.4 651.62H288.88V660.09H269.4zM346.3 651.62H365.77V660.09H346.3zM384.75 651.62H404.23V660.09H384.75zM346.3 659.84H385V668.31H346.3zM288.62 668.06H308.1V676.54H288.62zM269.4 676.29H327.33V684.76H269.4zM346.3 676.29H423.45V684.76H346.3zM288.62 684.51H308.1V692.98H288.62zM346.3 684.51H423.45V692.98H346.3zM269.4 692.73H288.88V701.21H269.4zM365.52 692.73H404.23V701.21H365.52zM269.4 700.96H288.88V709.43H269.4zM346.3 700.96H385V709.43H346.3zM423.2 700.96H461.9V709.43H423.2zM384.75 709.18H404.23V717.65H384.75zM423.2 709.18H442.68V717.65H423.2zM269.4 717.4H288.88V725.88H269.4zM346.3 717.4H423.45V725.88H346.3zM346.3 725.62H404.23V734.1H346.3zM346.3 733.85H423.45V742.32H346.3zM346.3 742.07H365.77V750.54H346.3zM442.43 742.07H461.9V750.54H442.43zM346.3 750.29H365.77V758.77H346.3zM230.95 758.52H250.43V766.99H230.95zM346.3 758.52H423.45V766.99H346.3zM365.52 766.74H404.23V775.21H365.52zM188.5 774.96H231.2V783.44H188.5zM250.18 774.96H269.65V783.44H250.18zM188.5 783.19H211.97V791.66H188.5zM230.95 783.19H269.65V791.66H230.95zM346.3 783.19H365.77V791.66H346.3zM188.5 791.41H269.65V799.88H188.5zM230.95 799.63H250.43V808.11H230.95zM211.72 807.86H269.65V816.33H211.72zM211.72 816.08H250.43V824.55H211.72zM346.3 816.08H365.77V824.55H346.3zM211.72 824.3H250.43V832.77H211.72zM365.52 840.75H385V849.22H365.52zM403.98 840.75H423.45V849.22H403.98zM346.3 848.97H404.23V857.44H346.3zM346.3 857.19H365.77V865.67H346.3zM346.3 865.42H385V873.89H346.3zM327.08 873.64H346.55V882.11H327.08zM500.1 881.86H519.58V890.34H500.1zM538.55 881.86H581V890.34H538.55zM211.72 890.09H250.43V898.56H211.72zM250.18 898.31H269.65V906.78H250.18zM519.33 906.53H558.03V915H519.33zM211.72 939.42H231.2V947.9H211.72zM288.62 947.65H327.33V956.12H288.62zM500.1 964.09H519.58V972.57H500.1zM250.18 980.54H269.65V989.01H250.18zM250.18 1005.21H269.65V1013.68H250.18zM188.5 1013.43H211.97V1021.9H188.5zM211.72 1021.65H231.2V1030.13H211.72zM250.18 1021.65H269.65V1030.13H250.18zM188.5 1029.88H211.97V1038.35H188.5zM250.18 1029.88H269.65V1038.35H250.18zM188.5 1038.1H211.97V1046.57H188.5zM250.18 1038.1H269.65V1046.57H250.18zM211.72 1046.32H269.65V1054.8H211.72zM211.72 1054.55H269.65V1063.02H211.72zM211.72 1062.77H269.65V1071.24H211.72zM230.95 1070.99H269.65V1079.46H230.95zM211.72 1079.21H231.2V1087.69H211.72zM250.18 1087.44H269.65V1095.91H250.18zM250.18 1095.66H269.65V1104.13H250.18zM327.08 1112.11H346.55V1120.58H327.08zM327.08 1120.33H346.55V1128.8H327.08zM269.4 1145H288.88V1153.47H269.4zM307.85 1145H327.33V1153.47H307.85zM188.5 1153.22H211.97V1161.69H188.5zM250.18 1153.22H269.65V1161.69H250.18zM480.88 1153.22H500.35V1161.69H480.88zM480.88 1161.44H500.35V1169.92H480.88zM187.2 1177.89H210.74V1186.33H187.2zM229.78 1177.89H249.32V1186.33H229.78zM422.68 1177.89H442.22V1186.33H422.68zM422.68 1186.08H442.22V1194.52H422.68zM187.2 1194.27H210.74V1202.71H187.2zM441.97 1210.65H461.51V1219.09H441.97zM538.42 1210.65H581V1219.09H538.42zM441.97 1218.84H461.51V1227.28H441.97zM538.42 1218.84H557.96V1227.28H538.42zM499.84 1227.03H519.38V1235.48H499.84zM441.97 1235.23H461.51V1243.67H441.97zM499.84 1235.23H519.38V1243.67H499.84zM249.07 1243.42H268.61V1251.86H249.07zM422.68 1243.42H461.51V1251.86H422.68zM499.84 1243.42H538.67V1251.86H499.84zM441.97 1251.61H461.51V1260.05H441.97zM210.49 1259.8H268.61V1268.24H210.49zM499.84 1259.8H519.38V1268.24H499.84zM187.2 1267.99H249.32V1276.43H187.2zM441.97 1276.18H461.51V1284.62H441.97zM249.07 1284.37H268.61V1292.81H249.07zM249.07 1292.56H268.61V1301H249.07zM187.2 1300.75H249.32V1309.19H187.2zM210.49 1308.94H268.61V1317.38H210.49zM519.13 1317.13H538.67V1325.57H519.13zM210.49 1325.32H230.03V1333.76H210.49zM499.84 1325.32H519.38V1333.76H499.84zM187.2 1333.51H210.74V1341.95H187.2zM422.68 1333.51H461.51V1341.95H422.68zM210.49 1341.7H230.03V1350.14H210.49zM441.97 1341.7H480.8V1350.14H441.97zM519.13 1349.89H557.96V1358.33H519.13zM249.07 1358.08H268.61V1366.53H249.07zM519.13 1358.08H557.96V1366.53H519.13zM210.49 1374.47H230.03V1382.91H210.49zM187.2 1382.66H210.74V1391.1H187.2zM187.2 1390.85H210.74V1399.29H187.2zM519.13 1407.23H538.67V1415.67H519.13zM187.2 1415.42H268.61V1423.86H187.2zM499.84 1415.42H557.96V1423.86H499.84zM187.2 1423.61H210.74V1432.05H187.2zM229.78 1423.61H249.32V1432.05H229.78zM499.84 1423.61H538.67V1432.05H499.84zM499.84 1431.8H581V1440.24H499.84zM461.26 1439.99H480.8V1448.43H461.26zM499.84 1439.99H519.38V1448.43H499.84zM422.68 1448.18H442.22V1456.62H422.68zM249.07 1456.37H268.61V1464.81H249.07zM461.26 1456.37H500.09V1464.81H461.26zM480.55 1464.56H500.09V1473H480.55zM538.42 1472.75H557.96V1481.19H538.42zM538.42 1480.94H557.96V1489.38H538.42zM519.13 1489.13H538.67V1497.58H519.13zM519.13 1497.33H538.67V1505.77H519.13zM422.68 1505.52H461.51V1513.96H422.68zM480.55 1505.52H500.09V1513.96H480.55zM519.13 1505.52H538.67V1513.96H519.13zM519.13 1513.71H538.67V1522.15H519.13zM480.55 1521.9H500.09V1530.34H480.55zM519.13 1521.9H538.67V1530.34H519.13zM441.97 1530.09H461.51V1538.53H441.97zM519.13 1530.09H538.67V1538.53H519.13zM441.97 1538.28H480.8V1546.72H441.97zM519.13 1538.28H538.67V1546.72H519.13zM441.97 1546.47H461.51V1554.91H441.97zM519.13 1546.47H557.96V1554.91H519.13zM538.42 1554.66H557.96V1563.1H538.42zM499.84 1562.85H538.67V1571.29H499.84zM249.07 1571.04H268.61V1579.48H249.07zM441.97 1571.04H461.51V1579.48H441.97zM480.55 1571.04H500.09V1579.48H480.55zM519.13 1571.04H538.67V1579.48H519.13zM249.07 1579.23H268.61V1587.67H249.07zM519.13 1579.23H581V1587.67H519.13zM441.97 1587.42H461.51V1595.86H441.97zM519.13 1587.42H557.96V1595.86H519.13zM441.97 1595.61H461.51V1604.05H441.97zM480.55 1595.61H500.09V1604.05H480.55zM519.13 1595.61H557.96V1604.05H519.13zM519.13 1603.8H557.96V1612.24H519.13zM187.2 1611.99H210.74V1620.43H187.2zM229.78 1611.99H249.32V1620.43H229.78zM210.49 1620.18H230.03V1628.62H210.49zM229.78 1628.38H249.32V1636.82H229.78zM229.78 1636.57H249.32V1645.01H229.78zM287.65 1636.57H307.19V1645.01H287.65zM268.36 1661.14H287.9V1669.58H268.36zM268.36 1677.52H287.9V1685.96H268.36zM268.36 1685.71H287.9V1694.15H268.36zM210.49 1718.35H230.03V1726.85H210.49zM249.07 1718.35H268.61V1726.85H249.07zM461.26 1718.35H480.8V1726.85H461.26zM210.49 1726.6H230.03V1735.1H210.49zM249.07 1726.6H268.61V1735.1H249.07zM480.55 1726.6H500.09V1735.1H480.55zM480.55 1734.85H500.09V1743.35H480.55zM249.07 1743.1H268.61V1751.6H249.07zM538.42 1743.1H581V1751.6H538.42zM210.49 1751.35H268.61V1759.85H210.49zM538.42 1751.35H581V1759.85H538.42zM249.07 1784.35H268.61V1792.85H249.07zM187.2 1800.85H210.74V1809.35H187.2zM187.2 1809.1H210.74V1817.6H187.2zM187.2 1817.35H210.74V1825.85H187.2zM229.78 1817.35H249.32V1825.85H229.78zM187.2 1833.85H210.74V1842.35H187.2zM538.42 1833.85H557.96V1842.35H538.42zM187.2 1842.1H210.74V1850.6H187.2zM249.07 1842.1H268.61V1850.6H249.07zM249.07 1858.6H268.61V1867.1H249.07zM187.2 1866.85H210.74V1875.35H187.2zM187.2 1875.1H210.74V1883.6H187.2zM441.97 1883.35H461.51V1891.85H441.97zM210.49 1899.85H249.32V1908.35H210.49zM499.84 1908.1H519.38V1916.6H499.84zM187.2 1916.35H210.74V1924.85H187.2zM187.2 1924.6H210.74V1936.85H187.2zM249.07 1924.6H268.61V1936.85H249.07z"/>
<path fill="#b60000" d="M500.1 56.9H519.58V117.37H500.1zM538.55 48.9H558.03V117.37H538.55zM384.75 117.12H404.23V125.6H384.75zM442.43 125.35H461.9V133.82H442.43zM500.1 141.79H519.58V150.27H500.1zM538.55 141.79H558.03V150.27H538.55zM442.43 150.02H461.9V158.49H442.43zM500.1 150.02H519.58V158.49H500.1zM442.43 158.24H461.9V166.71H442.43zM500.1 174.68H519.58V183.16H500.1zM500.1 182.91H538.8V191.38H500.1zM442.43 191.13H481.12V199.6H442.43zM500.1 191.13H519.58V199.6H500.1zM461.65 199.35H481.12V207.83H461.65zM423.2 207.58H442.68V216.05H423.2zM423.2 232.25H442.68V240.72H423.2zM538.55 256.91H581V265.39H538.55zM557.78 273.36H581V281.83H557.78zM269.4 289.81H288.88V298.28H269.4zM442.43 289.81H461.9V298.28H442.43zM307.85 298.03H327.33V306.5H307.85zM327.08 322.7H346.55V331.17H327.08zM442.43 339.14H461.9V347.62H442.43zM327.08 347.37H346.55V355.84H327.08zM500.1 363.81H519.58V372.29H500.1zM288.62 372.04H346.55V380.51H288.62zM307.85 380.26H327.33V388.73H307.85zM288.62 388.48H327.33V396.96H288.62zM288.62 396.71H327.33V405.18H288.62zM269.4 404.93H288.88V413.4H269.4zM288.62 413.15H308.1V421.62H288.62zM461.65 421.37H481.12V429.85H461.65zM327.08 429.6H346.55V438.07H327.08zM480.88 454.27H500.35V462.74H480.88zM288.62 478.94H308.1V487.41H288.62zM269.4 503.6H288.88V512.08H269.4zM480.88 503.6H500.35V512.08H480.88zM365.52 569.39H404.23V577.86H365.52zM365.52 577.61H404.23V586.08H365.52zM365.52 585.83H404.23V594.31H365.52zM269.4 602.28H288.88V610.75H269.4zM403.98 635.17H423.45V643.64H403.98zM307.85 684.51H327.33V692.98H307.85zM384.75 700.96H404.23V709.43H384.75zM365.52 709.18H385V717.65H365.52zM365.52 742.07H385V750.54H365.52zM403.98 742.07H423.45V750.54H403.98zM403.98 750.29H423.45V758.77H403.98zM211.72 758.52H231.2V766.99H211.72zM250.18 758.52H269.65V766.99H250.18zM346.3 766.74H365.77V775.21H346.3zM230.95 774.96H250.43V783.44H230.95zM211.72 799.63H231.2V808.11H211.72zM250.18 799.63H269.65V808.11H250.18zM188.5 807.86H211.97V816.33H188.5zM188.5 816.08H211.97V824.55H188.5zM403.98 816.08H423.45V824.55H403.98zM346.3 840.75H365.77V849.22H346.3zM384.75 840.75H404.23V849.22H384.75zM365.52 857.19H385V865.67H365.52zM384.75 865.42H404.23V873.89H384.75zM288.62 873.64H327.33V882.11H288.62zM230.95 898.31H250.43V906.78H230.95zM250.18 931.2H269.65V939.67H250.18zM230.95 964.09H250.43V972.57H230.95zM250.18 972.32H269.65V980.79H250.18zM188.5 980.54H250.43V989.01H188.5zM188.5 988.76H211.97V997.23H188.5zM250.18 988.76H269.65V997.23H250.18zM211.72 996.98H250.43V1005.46H211.72zM211.72 1005.21H250.43V1013.68H211.72zM211.72 1013.43H231.2V1021.9H211.72zM188.5 1021.65H211.97V1030.13H188.5zM230.95 1021.65H250.43V1030.13H230.95zM288.62 1021.65H308.1V1030.13H288.62zM250.18 1103.88H269.65V1112.36H250.18zM269.4 1112.11H288.88V1120.58H269.4zM211.72 1120.33H231.2V1128.8H211.72zM211.72 1128.55H231.2V1137.03H211.72zM250.18 1128.55H269.65V1137.03H250.18zM288.62 1145H308.1V1153.47H288.62zM327.08 1145H346.55V1153.47H327.08zM249.07 1169.7H268.61V1178.14H249.07zM229.78 1186.08H249.32V1194.52H229.78zM229.78 1194.27H249.32V1202.71H229.78zM441.97 1202.46H461.51V1210.9H441.97zM499.84 1218.84H538.67V1227.28H499.84zM519.13 1227.03H538.67V1235.48H519.13zM422.68 1235.23H442.22V1243.67H422.68zM519.13 1235.23H538.67V1243.67H519.13zM499.84 1251.61H519.38V1260.05H499.84zM499.84 1267.99H519.38V1276.43H499.84zM210.49 1276.18H230.03V1284.62H210.49zM187.2 1292.56H249.32V1301H187.2zM499.84 1308.94H519.38V1317.38H499.84zM249.07 1317.13H268.61V1325.57H249.07zM499.84 1317.13H519.38V1325.57H499.84zM249.07 1325.32H268.61V1333.76H249.07zM499.84 1349.89H519.38V1358.33H499.84zM210.49 1358.08H230.03V1366.53H210.49zM519.13 1366.28H538.67V1374.72H519.13zM499.84 1374.47H519.38V1382.91H499.84zM249.07 1382.66H268.61V1391.1H249.07zM499.84 1382.66H519.38V1391.1H499.84zM249.07 1390.85H268.61V1399.29H249.07zM229.78 1399.04H249.32V1407.48H229.78zM499.84 1407.23H519.38V1415.67H499.84zM249.07 1423.61H268.61V1432.05H249.07zM422.68 1439.99H461.51V1448.43H422.68zM538.42 1456.37H557.96V1464.81H538.42zM249.07 1472.75H268.61V1481.19H249.07zM499.84 1480.94H538.67V1489.38H499.84zM461.26 1489.13H480.8V1497.58H461.26zM538.42 1497.33H557.96V1505.77H538.42zM499.84 1505.52H519.38V1513.96H499.84zM538.42 1505.52H557.96V1513.96H538.42zM461.26 1513.71H480.8V1522.15H461.26zM499.84 1513.71H519.38V1522.15H499.84zM538.42 1513.71H557.96V1522.15H538.42zM499.84 1521.9H519.38V1530.34H499.84zM422.68 1546.47H442.22V1554.91H422.68zM519.13 1554.66H538.67V1563.1H519.13zM249.07 1562.85H268.61V1571.29H249.07zM480.55 1562.85H500.09V1571.29H480.55zM499.84 1587.42H519.38V1595.86H499.84zM499.84 1603.8H519.38V1612.24H499.84zM249.07 1611.99H268.61V1620.43H249.07zM229.78 1620.18H249.32V1628.62H229.78zM519.13 1636.57H538.67V1645.01H519.13zM519.13 1644.76H538.67V1653.2H519.13zM268.36 1652.95H287.9V1661.39H268.36zM519.13 1652.95H538.67V1661.39H519.13zM268.36 1669.33H287.9V1677.77H268.36zM519.13 1669.33H538.67V1677.77H519.13zM519.13 1677.52H538.67V1685.96H519.13zM249.07 1685.71H268.61V1694.15H249.07zM519.13 1685.71H538.67V1694.15H519.13zM229.78 1693.9H249.32V1702.1H229.78zM519.13 1693.9H538.67V1702.1H519.13zM229.78 1701.85H249.32V1710.35H229.78zM229.78 1710.1H249.32V1718.6H229.78zM229.78 1718.35H249.32V1726.85H229.78zM480.55 1718.35H500.09V1726.85H480.55zM187.2 1734.85H210.74V1743.35H187.2zM229.78 1734.85H249.32V1743.35H229.78zM187.2 1743.1H249.32V1751.6H187.2zM187.2 1759.6H230.03V1768.1H187.2zM229.78 1767.85H268.61V1776.35H229.78zM210.49 1776.1H268.61V1784.6H210.49zM210.49 1784.35H249.32V1792.85H210.49zM187.2 1792.6H249.32V1801.1H187.2zM210.49 1800.85H249.32V1809.35H210.49zM210.49 1809.1H249.32V1817.6H210.49zM210.49 1817.35H230.03V1825.85H210.49zM229.78 1825.6H268.61V1834.1H229.78zM229.78 1842.1H249.32V1850.6H229.78zM187.2 1850.35H268.61V1858.85H187.2zM187.2 1858.6H249.32V1867.1H187.2zM210.49 1866.85H230.03V1875.35H210.49zM499.84 1866.85H519.38V1875.35H499.84zM499.84 1891.6H519.38V1900.1H499.84z"/>
<path fill="#200000" d="M519.33 52.9H538.8V117.37H519.33zM210.49 1202.46H230.03V1210.9H210.49z"/>
<path fill="#080000" d="M346.3 117.12H365.77V125.6H346.3zM384.75 125.35H423.45V133.82H384.75zM519.33 125.35H558.03V133.82H519.33zM403.98 166.46H423.45V174.93H403.98zM403.98 174.68H423.45V183.16H403.98zM307.85 199.35H327.33V207.83H307.85zM519.33 207.58H538.8V216.05H519.33zM557.78 215.8H581V224.27H557.78zM288.62 224.02H308.1V232.5H288.62zM288.62 256.91H308.1V265.39H288.62zM307.85 265.14H327.33V273.61H307.85zM384.75 265.14H404.23V273.61H384.75zM307.85 273.36H327.33V281.83H307.85zM538.55 281.58H581V290.06H538.55zM403.98 306.25H423.45V314.73H403.98zM557.78 314.48H581V322.95H557.78zM442.43 322.7H461.9V331.17H442.43zM250.18 347.37H269.65V355.84H250.18zM461.65 363.81H481.12V372.29H461.65zM250.18 372.04H269.65V380.51H250.18zM211.72 380.26H231.2V388.73H211.72zM346.3 388.48H365.77V396.96H346.3zM500.1 388.48H519.58V396.96H500.1zM346.3 396.71H365.77V405.18H346.3zM480.88 396.71H500.35V405.18H480.88zM346.3 404.93H365.77V413.4H346.3zM346.3 413.15H365.77V421.62H346.3zM346.3 421.37H365.77V429.85H346.3zM403.98 421.37H423.45V429.85H403.98zM500.1 421.37H519.58V429.85H500.1zM384.75 429.6H404.23V438.07H384.75zM557.78 429.6H581V438.07H557.78zM346.3 446.04H365.77V454.52H346.3zM384.75 446.04H404.23V454.52H384.75zM538.55 446.04H558.03V454.52H538.55zM346.3 454.27H365.77V462.74H346.3zM480.88 462.49H500.35V470.96H480.88zM384.75 478.94H404.23V487.41H384.75zM384.75 487.16H404.23V495.63H384.75zM346.3 503.6H423.45V512.08H346.3zM500.1 503.6H519.58V512.08H500.1zM500.1 511.83H519.58V520.3H500.1zM384.75 528.27H404.23V536.75H384.75zM365.52 536.5H385V544.97H365.52zM365.52 544.72H385V553.19H365.52zM519.33 544.72H538.8V553.19H519.33zM500.1 552.94H519.58V561.42H500.1zM327.08 569.39H346.55V577.86H327.08zM327.08 577.61H346.55V586.08H327.08zM500.1 577.61H519.58V586.08H500.1zM461.65 585.83H500.35V594.31H461.65zM461.65 594.06H481.12V602.53H461.65zM500.1 594.06H519.58V602.53H500.1zM461.65 602.28H500.35V610.75H461.65zM480.88 618.73H500.35V627.2H480.88zM500.1 643.39H519.58V651.87H500.1zM500.1 668.06H519.58V676.54H500.1zM423.2 684.51H442.68V692.98H423.2zM250.18 692.73H269.65V701.21H250.18zM307.85 692.73H327.33V701.21H307.85zM442.43 692.73H461.9V701.21H442.43zM250.18 700.96H269.65V709.43H250.18zM327.08 700.96H346.55V709.43H327.08zM461.65 700.96H500.35V709.43H461.65zM461.65 709.18H481.12V717.65H461.65zM442.43 725.62H461.9V734.1H442.43zM327.08 750.29H346.55V758.77H327.08zM269.4 783.19H288.88V791.66H269.4zM269.4 791.41H288.88V799.88H269.4zM423.2 816.08H442.68V824.55H423.2zM538.55 816.08H558.03V824.55H538.55zM365.52 824.3H404.23V832.77H365.52zM250.18 832.52H269.65V841H250.18zM327.08 840.75H346.55V849.22H327.08zM423.2 840.75H442.68V849.22H423.2zM307.85 865.42H327.33V873.89H307.85zM519.33 890.09H538.8V898.56H519.33zM557.78 890.09H581V898.56H557.78zM538.55 898.31H558.03V906.78H538.55zM188.5 906.53H211.97V915H188.5zM269.4 922.98H288.88V931.45H269.4zM519.33 931.2H538.8V939.67H519.33zM538.55 939.42H558.03V947.9H538.55zM288.62 972.32H308.1V980.79H288.62zM442.43 972.32H461.9V980.79H442.43zM500.1 972.32H519.58V980.79H500.1zM269.4 980.54H288.88V989.01H269.4zM423.2 980.54H442.68V989.01H423.2zM269.4 988.76H288.88V997.23H269.4zM461.65 988.76H481.12V997.23H461.65zM423.2 996.98H442.68V1005.46H423.2zM269.4 1005.21H288.88V1013.68H269.4zM480.88 1005.21H500.35V1013.68H480.88zM288.62 1013.43H308.1V1021.9H288.62zM500.1 1046.32H519.58V1054.8H500.1zM346.3 1112.11H365.77V1120.58H346.3zM346.3 1120.33H365.77V1128.8H346.3zM423.2 1128.55H481.12V1137.03H423.2zM365.52 1136.78H385V1145.25H365.52zM403.98 1136.78H423.45V1145.25H403.98zM346.3 1145H365.77V1153.47H346.3zM423.2 1153.22H461.9V1161.69H423.2zM268.36 1169.7H287.9V1178.14H268.36zM557.71 1169.7H581V1178.14H557.71zM441.97 1177.89H480.8V1186.33H441.97zM519.13 1177.89H538.67V1186.33H519.13zM538.42 1186.08H557.96V1194.52H538.42zM461.26 1194.27H500.09V1202.71H461.26zM480.55 1202.46H500.09V1210.9H480.55zM480.55 1210.65H500.09V1219.09H480.55zM249.07 1218.84H268.61V1227.28H249.07zM249.07 1227.03H268.61V1235.48H249.07zM538.42 1251.61H557.96V1260.05H538.42zM538.42 1259.8H557.96V1268.24H538.42zM461.26 1276.18H480.8V1284.62H461.26zM557.71 1276.18H581V1284.62H557.71zM480.55 1284.37H500.09V1292.81H480.55zM557.71 1317.13H581V1325.57H557.71zM538.42 1333.51H557.96V1341.95H538.42zM229.78 1349.89H268.61V1358.33H229.78zM187.2 1366.28H210.74V1374.72H187.2zM422.68 1366.28H442.22V1374.72H422.68zM480.55 1374.47H500.09V1382.91H480.55zM557.71 1374.47H581V1382.91H557.71zM480.55 1382.66H500.09V1391.1H480.55zM557.71 1382.66H581V1391.1H557.71zM461.26 1415.42H480.8V1423.86H461.26zM422.68 1431.8H461.51V1440.24H422.68zM187.2 1448.18H210.74V1456.62H187.2zM187.2 1472.75H210.74V1481.19H187.2zM249.07 1480.94H268.61V1489.38H249.07zM422.68 1521.9H442.22V1530.34H422.68zM268.36 1562.85H287.9V1571.29H268.36zM268.36 1571.04H287.9V1579.48H268.36zM229.78 1579.23H249.32V1587.67H229.78zM268.36 1579.23H287.9V1587.67H268.36zM187.2 1603.8H210.74V1612.24H187.2zM229.78 1603.8H287.9V1612.24H229.78zM422.68 1611.99H442.22V1620.43H422.68zM461.26 1611.99H480.8V1620.43H461.26zM538.42 1611.99H557.96V1620.43H538.42zM187.2 1628.38H210.74V1636.82H187.2zM441.97 1628.38H461.51V1636.82H441.97zM306.94 1636.57H326.48V1645.01H306.94zM480.55 1636.57H500.09V1645.01H480.55zM187.2 1644.76H210.74V1653.2H187.2zM557.71 1644.76H581V1653.2H557.71zM249.07 1652.95H268.61V1661.39H249.07zM306.94 1652.95H326.48V1661.39H306.94zM187.2 1661.14H210.74V1669.58H187.2zM461.26 1661.14H480.8V1669.58H461.26zM557.71 1661.14H581V1669.58H557.71zM187.2 1669.33H210.74V1677.77H187.2zM441.97 1669.33H461.51V1677.77H441.97zM187.2 1693.9H210.74V1702.1H187.2zM287.65 1693.9H307.19V1702.1H287.65zM557.71 1701.85H581V1710.35H557.71zM187.2 1710.1H210.74V1718.6H187.2zM519.13 1710.1H538.67V1718.6H519.13zM557.71 1718.35H581V1726.85H557.71zM422.68 1726.6H442.22V1735.1H422.68zM538.42 1734.85H557.96V1743.35H538.42zM422.68 1743.1H442.22V1751.6H422.68zM519.13 1743.1H538.67V1751.6H519.13zM268.36 1759.6H287.9V1768.1H268.36zM557.71 1759.6H581V1768.1H557.71zM480.55 1767.85H500.09V1776.35H480.55zM422.68 1784.35H442.22V1792.85H422.68zM461.26 1784.35H480.8V1792.85H461.26zM441.97 1792.6H461.51V1801.1H441.97zM557.71 1792.6H581V1801.1H557.71zM557.71 1809.1H581V1817.6H557.71zM519.13 1817.35H538.67V1825.85H519.13zM519.13 1825.6H538.67V1834.1H519.13zM461.26 1833.85H480.8V1842.35H461.26zM480.55 1866.85H500.09V1875.35H480.55zM480.55 1875.1H500.09V1883.6H480.55zM519.13 1875.1H538.67V1883.6H519.13zM557.71 1875.1H581V1883.6H557.71zM557.71 1883.35H581V1891.85H557.71zM461.26 1891.6H480.8V1900.1H461.26zM384.1 1899.85H403.64V1908.35H384.1zM538.42 1899.85H557.96V1908.35H538.42zM480.55 1908.1H500.09V1916.6H480.55z"/>
<path fill="#000008" d="M307.85 125.35H327.33V133.82H307.85zM307.85 141.79H327.33V150.27H307.85zM346.3 158.24H365.77V166.71H346.3zM307.85 166.46H327.33V174.93H307.85zM346.3 174.68H365.77V183.16H346.3zM327.08 182.91H346.55V191.38H327.08zM346.3 207.58H365.77V216.05H346.3zM346.3 224.02H365.77V232.5H346.3zM188.5 273.36H211.97V281.83H188.5zM230.95 273.36H250.43V281.83H230.95zM211.72 289.81H231.2V298.28H211.72zM384.75 298.03H404.23V306.5H384.75zM211.72 339.14H231.2V347.62H211.72zM211.72 347.37H250.43V355.84H211.72zM346.3 363.81H365.77V372.29H346.3zM365.52 372.04H404.23V380.51H365.52zM538.55 372.04H558.03V380.51H538.55zM188.5 380.26H211.97V388.73H188.5zM480.88 380.26H500.35V388.73H480.88zM538.55 396.71H558.03V405.18H538.55zM500.1 462.49H519.58V470.96H500.1zM538.55 478.94H558.03V487.41H538.55zM500.1 487.16H519.58V495.63H500.1zM519.33 676.29H581V684.76H519.33zM188.5 684.51H231.2V692.98H188.5zM500.1 692.73H519.58V701.21H500.1zM500.1 700.96H519.58V709.43H500.1zM480.88 717.4H500.35V725.88H480.88zM480.88 725.62H500.35V734.1H480.88zM230.95 742.07H250.43V750.54H230.95zM307.85 758.52H327.33V766.99H307.85zM538.55 758.52H558.03V766.99H538.55zM288.62 766.74H308.1V775.21H288.62zM442.43 766.74H481.12V775.21H442.43zM307.85 774.96H327.33V783.44H307.85zM480.88 774.96H500.35V783.44H480.88zM307.85 791.41H327.33V799.88H307.85zM480.88 791.41H500.35V799.88H480.88zM442.43 816.08H461.9V824.55H442.43zM307.85 840.75H327.33V849.22H307.85zM538.55 840.75H558.03V849.22H538.55zM250.18 848.97H269.65V857.44H250.18zM461.65 857.19H481.12V865.67H461.65zM230.95 865.42H269.65V873.89H230.95zM211.72 873.64H250.43V882.11H211.72zM423.2 881.86H442.68V890.34H423.2zM442.43 890.09H461.9V898.56H442.43zM346.3 898.31H365.77V906.78H346.3zM442.43 898.31H461.9V906.78H442.43zM480.88 914.75H500.35V923.23H480.88zM327.08 972.32H346.55V980.79H327.08zM346.3 980.54H365.77V989.01H346.3zM519.33 980.54H538.8V989.01H519.33zM403.98 988.76H423.45V997.23H403.98zM384.75 996.98H404.23V1005.46H384.75zM500.1 996.98H519.58V1005.46H500.1zM538.55 1005.21H558.03V1013.68H538.55zM307.85 1013.43H327.33V1021.9H307.85zM519.33 1013.43H538.8V1021.9H519.33zM500.1 1029.88H519.58V1038.35H500.1zM519.33 1062.77H538.8V1071.24H519.33zM365.52 1120.33H385V1128.8H365.52zM538.55 1120.33H558.03V1128.8H538.55zM287.65 1177.89H307.19V1186.33H287.65zM345.52 1186.08H365.06V1194.52H345.52zM268.36 1202.46H287.9V1210.9H268.36zM326.23 1202.46H345.77V1210.9H326.23zM268.36 1210.65H287.9V1219.09H268.36zM306.94 1210.65H326.48V1219.09H306.94zM287.65 1218.84H307.19V1227.28H287.65zM287.65 1259.8H307.19V1268.24H287.65zM268.36 1276.18H287.9V1284.62H268.36zM326.23 1276.18H345.77V1284.62H326.23zM287.65 1284.37H307.19V1292.81H287.65zM326.23 1284.37H345.77V1292.81H326.23zM287.65 1308.94H307.19V1317.38H287.65zM345.52 1325.32H365.06V1333.76H345.52zM287.65 1333.51H307.19V1341.95H287.65zM326.23 1333.51H345.77V1341.95H326.23zM287.65 1349.89H307.19V1358.33H287.65zM403.39 1349.89H422.93V1358.33H403.39zM422.68 1358.08H442.22V1366.53H422.68zM306.94 1366.28H326.48V1374.72H306.94zM345.52 1374.47H365.06V1382.91H345.52zM345.52 1382.66H365.06V1391.1H345.52zM345.52 1390.85H384.35V1399.29H345.52zM422.68 1390.85H442.22V1399.29H422.68zM384.1 1399.04H403.64V1407.48H384.1zM345.52 1415.42H365.06V1423.86H345.52zM287.65 1448.18H307.19V1456.62H287.65zM364.81 1480.94H384.35V1489.38H364.81zM345.52 1489.13H365.06V1497.58H345.52zM345.52 1497.33H365.06V1505.77H345.52zM249.07 1505.52H268.61V1513.96H249.07zM268.36 1513.71H287.9V1522.15H268.36zM249.07 1530.09H268.61V1538.53H249.07zM345.52 1530.09H365.06V1538.53H345.52zM229.78 1538.28H249.32V1546.72H229.78zM306.94 1538.28H345.77V1546.72H306.94zM287.65 1546.47H307.19V1554.91H287.65zM326.23 1562.85H345.77V1571.29H326.23zM326.23 1571.04H345.77V1579.48H326.23zM326.23 1595.61H345.77V1604.05H326.23zM326.23 1603.8H345.77V1612.24H326.23zM326.23 1611.99H345.77V1620.43H326.23zM326.23 1628.38H345.77V1636.82H326.23zM326.23 1677.52H345.77V1685.96H326.23zM422.68 1677.52H442.22V1685.96H422.68zM326.23 1685.71H345.77V1694.15H326.23zM422.68 1685.71H442.22V1694.15H422.68zM403.39 1718.35H422.93V1726.85H403.39zM364.81 1726.6H384.35V1735.1H364.81zM345.52 1734.85H384.35V1743.35H345.52zM345.52 1743.1H365.06V1751.6H345.52zM403.39 1743.1H422.93V1751.6H403.39zM345.52 1751.35H365.06V1759.85H345.52zM326.23 1759.6H345.77V1768.1H326.23zM499.84 1767.85H519.38V1776.35H499.84zM538.42 1767.85H557.96V1776.35H538.42zM519.13 1776.1H538.67V1784.6H519.13zM287.65 1792.6H307.19V1801.1H287.65zM384.1 1792.6H403.64V1801.1H384.1zM306.94 1809.1H326.48V1817.6H306.94zM364.81 1809.1H384.35V1817.6H364.81zM287.65 1825.6H307.19V1834.1H287.65zM326.23 1825.6H345.77V1834.1H326.23zM287.65 1833.85H307.19V1842.35H287.65zM384.1 1833.85H403.64V1842.35H384.1zM384.1 1850.35H403.64V1858.85H384.1zM287.65 1858.6H326.48V1867.1H287.65zM364.81 1866.85H384.35V1875.35H364.81z"/>
<path fill="#f20c0c" d="M480.88 125.35H500.35V133.82H480.88zM500.1 133.57H519.58V142.04H500.1zM500.1 158.24H519.58V166.71H500.1zM500.1 166.46H519.58V174.93H500.1zM480.88 207.58H500.35V216.05H480.88zM480.88 215.8H500.35V224.27H480.88zM519.33 265.14H538.8V273.61H519.33zM519.33 273.36H538.8V281.83H519.33zM269.4 298.03H288.88V306.5H269.4zM269.4 306.25H288.88V314.73H269.4zM288.62 322.7H308.1V331.17H288.62zM500.1 355.59H519.58V364.06H500.1zM269.4 380.26H288.88V388.73H269.4zM327.08 380.26H346.55V388.73H327.08zM269.4 421.37H288.88V429.85H269.4zM269.4 446.04H288.88V454.52H269.4zM346.3 618.73H365.77V627.2H346.3zM346.3 692.73H365.77V701.21H346.3zM403.98 692.73H423.45V701.21H403.98zM365.52 750.29H404.23V758.77H365.52zM188.5 799.63H211.97V808.11H188.5zM250.18 824.3H269.65V832.77H250.18zM346.3 832.52H365.77V841H346.3zM403.98 832.52H423.45V841H403.98zM384.75 857.19H404.23V865.67H384.75zM211.72 898.31H231.2V906.78H211.72zM250.18 964.09H269.65V972.57H250.18zM211.72 972.32H250.43V980.79H211.72zM211.72 988.76H250.43V997.23H211.72zM188.5 996.98H211.97V1005.46H188.5zM250.18 996.98H269.65V1005.46H250.18zM188.5 1005.21H211.97V1013.68H188.5zM230.95 1013.43H269.65V1021.9H230.95zM269.4 1120.33H288.88V1128.8H269.4zM210.49 1186.08H230.03V1194.52H210.49zM210.49 1194.27H230.03V1202.71H210.49zM187.2 1202.46H210.74V1210.9H187.2zM499.84 1358.08H519.38V1366.53H499.84zM499.84 1366.28H519.38V1374.72H499.84zM499.84 1390.85H519.38V1399.29H499.84zM441.97 1448.18H480.8V1456.62H441.97zM249.07 1464.56H268.61V1473H249.07zM499.84 1464.56H519.38V1473H499.84zM499.84 1472.75H519.38V1481.19H499.84zM499.84 1489.13H519.38V1497.58H499.84zM499.84 1497.33H519.38V1505.77H499.84zM499.84 1530.09H519.38V1538.53H499.84zM499.84 1538.28H519.38V1546.72H499.84zM499.84 1546.47H519.38V1554.91H499.84zM499.84 1554.66H519.38V1563.1H499.84zM499.84 1579.23H519.38V1587.67H499.84zM499.84 1595.61H519.38V1604.05H499.84zM268.36 1611.99H287.9V1620.43H268.36zM519.13 1620.18H538.67V1628.62H519.13zM519.13 1628.38H538.67V1636.82H519.13zM268.36 1644.76H287.9V1653.2H268.36zM519.13 1661.14H538.67V1669.58H519.13zM422.68 1710.1H461.51V1718.6H422.68zM229.78 1726.6H249.32V1735.1H229.78zM210.49 1734.85H230.03V1743.35H210.49zM229.78 1759.6H268.61V1768.1H229.78zM187.2 1767.85H230.03V1776.35H187.2zM187.2 1776.1H210.74V1784.6H187.2zM187.2 1784.35H210.74V1792.85H187.2zM249.07 1792.6H268.61V1801.1H249.07zM249.07 1800.85H268.61V1809.35H249.07zM249.07 1809.1H268.61V1817.6H249.07zM249.07 1817.35H268.61V1825.85H249.07zM210.49 1825.6H230.03V1834.1H210.49zM249.07 1833.85H268.61V1842.35H249.07zM249.07 1866.85H268.61V1875.35H249.07zM249.07 1875.1H268.61V1883.6H249.07zM499.84 1924.6H519.38V1936.85H499.84z"/>
<path fill="#060003" d="M346.3 133.57H404.23V142.04H346.3zM346.3 141.79H404.23V150.27H346.3zM365.52 150.02H423.45V158.49H365.52zM346.3 166.46H385V174.93H346.3zM307.85 174.68H327.33V183.16H307.85zM365.52 174.68H404.23V183.16H365.52zM307.85 182.91H327.33V191.38H307.85zM327.08 191.13H346.55V199.6H327.08zM346.3 199.35H365.77V207.83H346.3zM557.78 207.58H581V216.05H557.78zM346.3 240.47H404.23V248.94H346.3zM365.52 248.69H404.23V257.16H365.52zM211.72 273.36H231.2V281.83H211.72zM188.5 281.58H231.2V290.06H188.5zM188.5 289.81H211.97V298.28H188.5zM557.78 298.03H581V306.5H557.78zM250.18 363.81H269.65V372.29H250.18zM403.98 372.04H423.45V380.51H403.98zM557.78 372.04H581V380.51H557.78zM365.52 380.26H404.23V388.73H365.52zM384.75 396.71H404.23V405.18H384.75zM384.75 404.93H404.23V413.4H384.75zM519.33 404.93H581V413.4H519.33zM384.75 413.15H404.23V421.62H384.75zM519.33 413.15H581V421.62H519.33zM384.75 421.37H404.23V429.85H384.75zM519.33 421.37H581V429.85H519.33zM557.78 454.27H581V462.74H557.78zM557.78 478.94H581V487.41H557.78zM538.55 487.16H581V495.63H538.55zM538.55 495.38H581V503.85H538.55zM519.33 503.6H581V512.08H519.33zM519.33 511.83H581V520.3H519.33zM519.33 520.05H538.8V528.52H519.33zM557.78 520.05H581V528.52H557.78zM519.33 528.27H581V536.75H519.33zM538.55 536.5H581V544.97H538.55zM538.55 544.72H581V553.19H538.55zM519.33 552.94H538.8V561.42H519.33zM538.55 561.17H581V569.64H538.55zM519.33 569.39H581V577.86H519.33zM519.33 577.61H581V586.08H519.33zM519.33 594.06H581V602.53H519.33zM519.33 602.28H581V610.75H519.33zM519.33 618.73H538.8V627.2H519.33zM519.33 626.95H581V635.42H519.33zM519.33 635.17H581V643.64H519.33zM519.33 643.39H581V651.87H519.33zM519.33 651.62H581V660.09H519.33zM519.33 659.84H581V668.31H519.33zM519.33 668.06H581V676.54H519.33zM250.18 684.51H269.65V692.98H250.18zM442.43 684.51H500.35V692.98H442.43zM461.65 692.73H481.12V701.21H461.65zM307.85 700.96H327.33V709.43H307.85zM461.65 717.4H481.12V725.88H461.65zM461.65 725.62H481.12V734.1H461.65zM269.4 750.29H308.1V758.77H269.4zM557.78 750.29H581V758.77H557.78zM288.62 758.52H308.1V766.99H288.62zM557.78 758.52H581V766.99H557.78zM288.62 774.96H308.1V783.44H288.62zM327.08 774.96H346.55V783.44H327.08zM423.2 774.96H442.68V783.44H423.2zM423.2 783.19H500.35V791.66H423.2zM557.78 783.19H581V791.66H557.78zM288.62 791.41H308.1V799.88H288.62zM423.2 791.41H481.12V799.88H423.2zM423.2 799.63H500.35V808.11H423.2zM423.2 807.86H500.35V816.33H423.2zM480.88 816.08H538.8V824.55H480.88zM423.2 824.3H442.68V832.77H423.2zM538.55 824.3H581V832.77H538.55zM188.5 832.52H211.97V841H188.5zM230.95 832.52H250.43V841H230.95zM269.4 832.52H288.88V841H269.4zM442.43 832.52H481.12V841H442.43zM538.55 832.52H581V841H538.55zM211.72 840.75H288.88V849.22H211.72zM461.65 840.75H481.12V849.22H461.65zM557.78 840.75H581V849.22H557.78zM230.95 848.97H250.43V857.44H230.95zM480.88 857.19H500.35V865.67H480.88zM557.78 898.31H581V906.78H557.78zM480.88 906.53H500.35V915H480.88zM327.08 964.09H346.55V972.57H327.08zM365.52 964.09H404.23V972.57H365.52zM461.65 972.32H481.12V980.79H461.65zM288.62 980.54H327.33V989.01H288.62zM480.88 980.54H519.58V989.01H480.88zM288.62 988.76H308.1V997.23H288.62zM327.08 988.76H365.77V997.23H327.08zM423.2 988.76H442.68V997.23H423.2zM480.88 988.76H519.58V997.23H480.88zM288.62 996.98H308.1V1005.46H288.62zM327.08 996.98H385V1005.46H327.08zM480.88 996.98H500.35V1005.46H480.88zM288.62 1005.21H308.1V1013.68H288.62zM500.1 1013.43H519.58V1021.9H500.1zM500.1 1038.1H519.58V1046.57H500.1zM500.1 1062.77H519.58V1071.24H500.1zM403.98 1128.55H423.45V1137.03H403.98zM365.52 1145H423.45V1153.47H365.52zM346.3 1153.22H404.23V1161.69H346.3zM307.85 1161.44H346.55V1169.92H307.85zM519.13 1169.7H538.67V1178.14H519.13zM268.36 1177.89H287.9V1186.33H268.36zM557.71 1186.08H581V1194.52H557.71zM557.71 1194.27H581V1202.71H557.71zM326.23 1210.65H345.77V1219.09H326.23zM326.23 1218.84H345.77V1227.28H326.23zM287.65 1227.03H345.77V1235.48H287.65zM287.65 1235.23H307.19V1243.67H287.65zM326.23 1235.23H345.77V1243.67H326.23zM287.65 1243.42H345.77V1251.86H287.65zM306.94 1251.61H345.77V1260.05H306.94zM557.71 1251.61H581V1260.05H557.71zM306.94 1259.8H326.48V1268.24H306.94zM557.71 1267.99H581V1276.43H557.71zM480.55 1276.18H500.09V1284.62H480.55zM557.71 1333.51H581V1341.95H557.71zM461.26 1358.08H480.8V1366.53H461.26zM326.23 1366.28H345.77V1374.72H326.23zM461.26 1366.28H480.8V1374.72H461.26zM461.26 1374.47H480.8V1382.91H461.26zM461.26 1382.66H480.8V1391.1H461.26zM461.26 1390.85H480.8V1399.29H461.26zM422.68 1399.04H480.8V1407.48H422.68zM441.97 1407.23H480.8V1415.67H441.97zM422.68 1415.42H461.51V1423.86H422.68zM441.97 1423.61H461.51V1432.05H441.97zM187.2 1439.99H230.03V1448.43H187.2zM210.49 1456.37H230.03V1464.81H210.49zM210.49 1464.56H230.03V1473H210.49zM229.78 1480.94H249.32V1489.38H229.78zM229.78 1489.13H268.61V1497.58H229.78zM210.49 1497.33H230.03V1505.77H210.49zM210.49 1505.52H230.03V1513.96H210.49zM187.2 1513.71H249.32V1522.15H187.2zM187.2 1521.9H210.74V1530.34H187.2zM229.78 1521.9H249.32V1530.34H229.78zM187.2 1530.09H210.74V1538.53H187.2zM268.36 1530.09H287.9V1538.53H268.36zM326.23 1530.09H345.77V1538.53H326.23zM187.2 1538.28H210.74V1546.72H187.2zM268.36 1538.28H287.9V1546.72H268.36zM210.49 1546.47H249.32V1554.91H210.49zM268.36 1546.47H287.9V1554.91H268.36zM268.36 1554.66H307.19V1563.1H268.36zM287.65 1562.85H307.19V1571.29H287.65zM287.65 1571.04H326.48V1579.48H287.65zM210.49 1579.23H230.03V1587.67H210.49zM287.65 1579.23H345.77V1587.67H287.65zM210.49 1587.42H268.61V1595.86H210.49zM287.65 1587.42H345.77V1595.86H287.65zM187.2 1595.61H307.19V1604.05H187.2zM210.49 1603.8H230.03V1612.24H210.49zM306.94 1611.99H326.48V1620.43H306.94zM557.71 1611.99H581V1620.43H557.71zM306.94 1620.18H326.48V1628.62H306.94zM461.26 1620.18H500.09V1628.62H461.26zM557.71 1620.18H581V1628.62H557.71zM461.26 1628.38H500.09V1636.82H461.26zM326.23 1636.57H345.77V1645.01H326.23zM461.26 1636.57H480.8V1645.01H461.26zM306.94 1644.76H345.77V1653.2H306.94zM557.71 1652.95H581V1661.39H557.71zM306.94 1669.33H326.48V1677.77H306.94zM461.26 1669.33H480.8V1677.77H461.26zM306.94 1677.52H326.48V1685.96H306.94zM441.97 1677.52H480.8V1685.96H441.97zM306.94 1685.71H326.48V1694.15H306.94zM441.97 1685.71H480.8V1694.15H441.97zM306.94 1693.9H326.48V1702.1H306.94zM441.97 1693.9H480.8V1702.1H441.97zM187.2 1701.85H210.74V1710.35H187.2zM364.81 1710.1H403.64V1718.6H364.81zM345.52 1718.35H365.06V1726.85H345.52zM519.13 1718.35H538.67V1726.85H519.13zM519.13 1726.6H538.67V1735.1H519.13zM519.13 1734.85H538.67V1743.35H519.13zM499.84 1743.1H519.38V1751.6H499.84zM499.84 1751.35H519.38V1759.85H499.84zM306.94 1759.6H326.48V1768.1H306.94zM403.39 1759.6H480.8V1768.1H403.39zM306.94 1767.85H345.77V1776.35H306.94zM384.1 1767.85H480.8V1776.35H384.1zM326.23 1776.1H422.93V1784.6H326.23zM499.84 1776.1H519.38V1784.6H499.84zM538.42 1776.1H581V1784.6H538.42zM345.52 1784.35H365.06V1792.85H345.52zM403.39 1784.35H422.93V1792.85H403.39zM499.84 1784.35H519.38V1792.85H499.84zM557.71 1784.35H581V1792.85H557.71zM326.23 1792.6H365.06V1801.1H326.23zM461.26 1792.6H500.09V1801.1H461.26zM326.23 1800.85H384.35V1809.35H326.23zM422.68 1800.85H461.51V1809.35H422.68zM480.55 1800.85H500.09V1809.35H480.55zM345.52 1809.1H365.06V1817.6H345.52zM422.68 1809.1H500.09V1817.6H422.68zM287.65 1817.35H345.77V1825.85H287.65zM422.68 1817.35H480.8V1825.85H422.68zM557.71 1817.35H581V1825.85H557.71zM306.94 1825.6H326.48V1834.1H306.94zM557.71 1825.6H581V1834.1H557.71zM306.94 1833.85H326.48V1842.35H306.94zM384.1 1842.1H403.64V1850.6H384.1zM441.97 1842.1H500.09V1850.6H441.97zM422.68 1850.35H500.09V1858.85H422.68zM422.68 1858.6H500.09V1867.1H422.68zM384.1 1866.85H403.64V1875.35H384.1zM422.68 1866.85H480.8V1875.35H422.68zM538.42 1866.85H557.96V1875.35H538.42zM422.68 1875.1H442.22V1883.6H422.68zM461.26 1875.1H480.8V1883.6H461.26zM364.81 1883.35H422.93V1891.85H364.81zM364.81 1891.6H422.93V1900.1H364.81zM422.68 1899.85H500.09V1908.35H422.68zM422.68 1908.1H480.8V1916.6H422.68zM364.81 1924.6H422.93V1936.85H364.81z"/>
<path fill="#0404f2" d="M188.5 224.02H211.97V232.5H188.5zM230.95 248.69H250.43V257.16H230.95zM230.95 626.95H250.43V635.42H230.95zM500.1 725.62H519.58V734.1H500.1zM500.1 840.75H519.58V849.22H500.1zM538.55 1153.22H558.03V1161.69H538.55zM403.98 1161.44H423.45V1169.92H403.98zM364.81 1210.65H384.35V1219.09H364.81zM364.81 1227.03H384.35V1235.48H364.81zM403.39 1251.61H422.93V1260.05H403.39zM345.52 1341.7H365.06V1350.14H345.52zM345.52 1349.89H365.06V1358.33H345.52zM268.36 1456.37H287.9V1464.81H268.36zM345.52 1661.14H365.06V1669.58H345.52zM364.81 1669.33H384.35V1677.77H364.81zM364.81 1677.52H384.35V1685.96H364.81zM403.39 1693.9H422.93V1702.1H403.39zM345.52 1701.85H365.06V1710.35H345.52zM306.94 1891.6H326.48V1900.1H306.94zM268.36 1899.85H287.9V1908.35H268.36z"/>
<path fill="#000018" d="M188.5 256.91H211.97V265.39H188.5zM211.72 462.49H231.2V470.96H211.72zM557.78 1153.22H581V1161.69H557.78zM403.39 1169.7H422.93V1178.14H403.39zM287.65 1726.6H307.19V1735.1H287.65zM287.65 1916.35H307.19V1924.85H287.65z"/>
<path fill="#828282" d="M346.3 330.92H423.45V339.39H346.3zM188.5 470.71H346.55V479.19H188.5zM188.5 725.62H269.65V734.1H188.5zM188.5 766.74H269.65V775.21H188.5zM500.1 766.74H581V775.21H500.1zM346.3 807.86H423.45V816.33H346.3zM269.4 824.3H346.55V832.77H269.4zM423.2 848.97H581V857.44H423.2zM188.5 857.19H346.55V865.67H188.5zM423.2 865.42H581V873.89H423.2zM500.1 873.64H581V882.11H500.1zM188.5 881.86H423.45V890.34H188.5zM269.4 890.09H423.45V898.56H269.4zM269.4 898.31H346.55V906.78H269.4zM269.4 906.53H423.45V915H269.4zM269.4 914.75H423.45V923.23H269.4zM188.5 922.98H269.65V931.45H188.5zM500.1 922.98H581V931.45H500.1zM269.4 931.2H423.45V939.67H269.4zM269.4 939.42H423.45V947.9H269.4zM188.5 947.65H269.65V956.12H188.5zM500.1 947.65H581V956.12H500.1zM188.5 955.87H423.45V964.34H188.5zM269.4 1029.88H500.35V1038.35H269.4zM269.4 1038.1H500.35V1046.57H269.4zM269.4 1054.55H346.55V1063.02H269.4zM423.2 1054.55H581V1063.02H423.2zM269.4 1062.77H500.35V1071.24H269.4zM269.4 1070.99H423.45V1079.46H269.4zM500.1 1070.99H581V1079.46H500.1zM269.4 1079.21H346.55V1087.69H269.4zM423.2 1079.21H581V1087.69H423.2zM269.4 1087.44H500.35V1095.91H269.4zM269.4 1095.66H500.35V1104.13H269.4zM188.5 1112.11H269.65V1120.58H188.5zM188.5 1136.78H269.65V1145.25H188.5zM188.5 1145H269.65V1153.47H188.5zM187.2 1431.8H345.77V1440.24H187.2zM422.68 1554.66H500.09V1563.1H422.68zM268.36 1842.1H345.77V1850.6H268.36zM499.84 1842.1H581V1850.6H499.84zM422.68 1916.35H581V1924.85H422.68z"/>
<path fill="#080010" d="M346.3 339.14H365.77V347.62H346.3z"/>
<path fill="#080008" d="M250.18 355.59H269.65V364.06H250.18zM269.4 569.39H288.88V577.86H269.4zM423.2 873.64H442.68V882.11H423.2zM480.88 1120.33H500.35V1128.8H480.88zM500.1 1161.44H519.58V1169.92H500.1zM422.68 1308.94H442.22V1317.38H422.68zM422.68 1644.76H442.22V1653.2H422.68zM326.23 1661.14H345.77V1669.58H326.23zM268.36 1767.85H287.9V1776.35H268.36zM268.36 1784.35H287.9V1792.85H268.36zM268.36 1809.1H287.9V1817.6H268.36z"/>
<path fill="#180000" d="M461.65 503.6H481.12V512.08H461.65zM269.4 1021.65H288.88V1030.13H269.4zM187.2 1259.8H210.74V1268.24H187.2zM461.26 1464.56H480.8V1473H461.26zM538.42 1571.04H557.96V1579.48H538.42zM480.55 1924.6H500.09V1936.85H480.55z"/>
<path fill="#100010" d="M327.08 832.52H346.55V841H327.08z"/>
<path fill="#100008" d="M268.36 1701.85H287.9V1710.35H268.36zM403.39 1710.1H422.93V1718.6H403.39zM268.36 1817.35H287.9V1825.85H268.36z"/>
</g></g>
<defs><clipPath id="c1"><rect x="0" y="100" width="80" height="1069.9"/></clipPath><clipPath id="c2"><rect x="0" y="1169.9" width="80" height="774.1"/></clipPath><g id="rdg"><path d="M70.8 113.01H43.3V121.23H70.8M70.8 137.68H63V145.9H70.8M63 141.79H61.6V154.13H70.8M70.8 162.35H66V170.57H70.8M66 166.46H64V178.8H70.8M61.6 147.96H60.6V172.63H64M70.8 187.02H58.5V195.24H70.8M60.6 160.29H54.6V191.13H58.5M70.8 211.69H51.9V219.91H70.8M70.8 203.46H50.5V215.8H51.9M70.8 244.58H57.6V252.8H70.8M70.8 236.36H55.6V248.69H57.6M70.8 228.13H48.9V242.52H55.6M50.5 209.63H47.2V235.33H48.9M54.6 175.71H45.8V222.48H47.2M45.8 199.1H43.5V261.03H70.8M43.5 230.06H42.4V269.25H70.8M70.8 129.46H41.2V249.65H42.4M41.2 189.56H37.5V277.47H70.8M70.8 285.69H52.3V293.92H70.8M70.8 302.14H53V310.36H70.8M70.8 318.59H48.1V326.81H70.8M70.8 335.03H54.4V343.26H70.8M54.4 339.14H48.9V351.48H70.8M48.1 322.7H45.1V345.31H48.9M53 306.25H43.8V334H45.1M52.3 289.81H40.7V320.13H43.8M70.8 359.7H44.6V367.92H70.8M40.7 304.97H40V363.81H44.6M37.5 233.51H37.4V334.39H40M43.3 117.12H30.6V283.95H37.4M70.8 376.15H42.6V384.37H70.8M70.8 392.59H49.8V400.82H70.8M70.8 409.04H57V417.26H70.8M70.8 425.49H57.9V433.71H70.8M57 413.15H51.9V429.6H57.9M49.8 396.71H48.1V421.37H51.9M70.8 450.15H58.3V458.38H70.8M70.8 441.93H51.2V454.27H58.3M70.8 466.6H55.4V474.82H70.8M70.8 491.27H61.6V499.49H70.8M70.8 483.05H57.2V495.38H61.6M70.8 515.94H69V524.16H70.8M69 520.05H66.9V532.38H70.8M70.8 540.61H64.8V548.83H70.8M66.9 526.22H63.4V544.72H64.8M70.8 507.72H59.3V535.47H63.4M57.2 489.21H55.6V521.59H59.3M70.8 557.05H54.8V565.28H70.8M70.8 589.95H62V598.17H70.8M70.8 581.72H60.2V594.06H62M70.8 614.61H63.9V622.84H70.8M70.8 606.39H61.6V618.73H63.9M60.2 587.89H58.5V612.56H61.6M70.8 663.95H64.8V672.18H70.8M70.8 655.73H63.4V668.06H64.8M70.8 647.51H61.9V661.9H63.4M70.8 639.28H60.6V654.7H61.9M70.8 631.06H60V646.99H60.6M60 639.03H58.3V680.4H70.8M58.5 600.22H57V659.71H58.3M70.8 573.5H55.6V629.97H57M54.8 561.16H53.7V601.73H55.6M55.6 505.4H52.3V581.45H53.7M55.4 470.71H48V543.43H52.3M51.2 448.1H46V507.07H48M48.1 409.04H45.2V477.58H46M70.8 696.84H51.4V705.07H70.8M70.8 721.51H58.8V729.74H70.8M70.8 737.96H59.7V746.18H70.8M59.7 742.07H54.2V754.41H70.8M58.8 725.62H51.7V748.24H54.2M70.8 713.29H48.6V736.93H51.7M51.4 700.96H46.1V725.11H48.6M70.8 688.62H41.2V713.03H46.1M45.2 443.31H39.6V700.83H41.2M42.6 380.26H32V572.07H39.6M30.6 200.54H27.8V476.16H32M70.8 787.3H61.3V795.52H70.8M70.8 779.07H55.1V791.41H61.3M70.8 770.85H53V785.24H55.1M70.8 762.63H50V778.05H53M70.8 803.74H59.1V811.97H70.8M59.1 807.86H54.6V820.19H70.8M50 770.34H45.6V814.02H54.6M45.6 792.18H40.3V828.41H70.8M70.8 861.3H62.5V869.53H70.8M70.8 853.08H50V865.42H62.5M70.8 844.86H44.4V859.25H50M70.8 836.64H38.4V852.05H44.4M40.3 810.3H34.9V844.34H38.4M70.8 877.75H61.4V885.97H70.8M70.8 894.2H56.3V902.42H70.8M70.8 910.64H59.3V918.87H70.8M70.8 927.09H69.9V935.31H70.8M69.9 931.2H63.9V943.53H70.8M63.9 937.37H58.8V951.76H70.8M59.3 914.75H54V944.56H58.8M70.8 959.98H60.2V968.2H70.8M54 929.66H46.6V964.09H60.2M56.3 898.31H43.5V946.88H46.6M61.4 881.86H40.5V922.59H43.5M34.9 827.32H26.9V902.23H40.5M70.8 992.87H57.9V1001.1H70.8M70.8 984.65H51.2V996.98H57.9M70.8 1009.32H56.5V1017.54H70.8M51.2 990.82H51.6V1013.43H56.5M70.8 976.43H46.6V1002.12H51.6M70.8 1033.99H65.3V1042.21H70.8M65.3 1038.1H61.6V1050.43H70.8M70.8 1058.66H69.9V1066.88H70.8M69.9 1062.77H66.9V1075.1H70.8M70.8 1091.55H67.2V1099.77H70.8M70.8 1083.33H67V1095.66H67.2M66.9 1068.94H63.7V1089.49H67M61.6 1044.27H58.8V1079.21H63.7M70.8 1025.76H53.7V1061.74H58.8M70.8 1107.99H56.9V1116.22H70.8M53.7 1043.75H50.9V1112.11H56.9M50.9 1077.93H49.5V1124.44H70.8M49.5 1101.18H48.1V1132.66H70.8M46.6 989.27H43.5V1116.92H48.1M70.8 1149.11H49.5V1157.33H70.8M70.8 1140.89H45.6V1153.22H49.5M43.5 1053.1H38.7V1147.05H45.6M70.8 1165.56H42.2V1173.8H70.8M70.8 1190.18H53.1V1198.37H70.8M70.8 1181.99H48.2V1194.27H53.1M70.8 1206.56H50.5V1214.75H70.8M70.8 1239.32H58.4V1247.51H70.8M70.8 1231.13H56.5V1243.42H58.4M70.8 1222.94H53.3V1237.27H56.5M53.3 1230.11H52.2V1255.7H70.8M52.2 1242.9H50V1263.89H70.8M50.5 1210.65H47.7V1253.4H50M70.8 1280.27H58.4V1288.46H70.8M70.8 1296.65H62V1304.85H70.8M62 1300.75H57.5V1313.04H70.8M70.8 1321.23H57.9V1329.42H70.8M57.5 1306.89H56V1325.32H57.9M58.4 1284.37H53.5V1316.11H56M70.8 1272.08H52.5V1300.24H53.5M70.8 1337.61H53.3V1345.8H70.8M52.5 1286.16H50V1341.7H53.3M47.7 1232.03H47.5V1313.93H50M70.8 1370.37H53.3V1378.56H70.8M70.8 1386.75H57V1394.94H70.8M70.8 1419.51H63V1427.7H70.8M63 1423.61H57.9V1435.9H70.8M70.8 1411.32H55.1V1429.75H57.9M70.8 1403.13H53.3V1420.54H55.1M57 1390.85H51.9V1411.84H53.3M53.3 1374.47H49.6V1401.34H51.9M70.8 1362.18H45.6V1387.9H49.6M70.8 1353.99H45.3V1375.04H45.6M47.5 1272.98H45.4V1364.52H45.3M48.2 1188.13H44.7V1318.75H45.4M70.8 1444.09H53.7V1452.28H70.8M70.8 1468.66H55.6V1476.85H70.8M70.8 1460.47H49.6V1472.75H55.6M53.7 1448.18H46.3V1466.61H49.6M70.8 1501.42H60.7V1509.61H70.8M60.7 1505.52H57V1517.8H70.8M70.8 1493.23H52.6V1511.66H57M70.8 1485.04H50.2V1502.44H52.6M70.8 1534.18H55.1V1542.37H70.8M70.8 1525.99H50.2V1538.28H55.1M70.8 1550.56H51.9V1558.75H70.8M70.8 1566.95H57.9V1575.14H70.8M70.8 1591.52H62.5V1599.71H70.8M70.8 1583.33H57.5V1595.61H62.5M57.5 1589.47H57.2V1607.9H70.8M57.9 1571.04H53.3V1598.68H57.2M51.9 1554.66H50.2V1584.86H53.3M50.2 1532.14H48.5V1569.76H50.2M50.2 1493.74H47.7V1550.95H48.5M46.3 1457.4H44.7V1522.34H47.7M44.7 1253.44H41V1489.87H44.7M42.2 1169.68H38.9V1371.65H41M70.8 1648.85H60V1657.04H70.8M70.8 1640.66H57.7V1652.95H60M57.7 1646.8H57V1665.23H70.8M70.8 1681.61H59.5V1689.8H70.8M70.8 1673.42H57V1685.71H59.5M57 1679.57H56V1697.88H70.8M57 1656.02H54.7V1688.72H56M70.8 1632.47H50V1672.37H54.7M70.8 1624.28H48.7V1652.42H50M48.7 1638.35H44.5V1705.97H70.8M70.8 1616.09H43.4V1672.16H44.5M38.9 1270.66H37.5V1644.13H43.4M70.8 1738.97H58V1747.22H70.8M70.8 1730.72H56.5V1743.1H58M56.5 1736.91H52.4V1755.47H70.8M70.8 1722.47H50V1746.19H52.4M70.8 1788.47H57V1796.72H70.8M70.8 1780.22H54.5V1792.6H57M70.8 1771.97H50.5V1786.41H54.5M70.8 1763.72H47.5V1779.19H50.5M70.8 1804.97H55.1V1813.22H70.8M70.8 1821.47H53.7V1829.72H70.8M55.1 1809.1H51.4V1825.6H53.7M70.8 1854.47H59.8V1862.72H70.8M70.8 1846.22H56.5V1858.6H59.8M70.8 1837.97H52.8V1852.41H56.5M51.4 1817.35H50.5V1845.19H52.8M47.5 1771.46H47.3V1831.27H50.5M50 1734.33H45.4V1801.37H47.3M70.8 1870.97H51.9V1879.22H70.8M70.8 1887.47H51.4V1895.72H70.8M70.8 1903.97H55.1V1912.22H70.8M70.8 1920.47H52.4V1928.72H70.8M55.1 1908.1H50.5V1924.6H52.4M51.4 1891.6H46.2V1916.35H50.5M51.9 1875.1H45V1903.97H46.2M45.4 1767.85H40.3V1889.54H45M70.8 1714.22H34.6V1828.69H40.3M37.5 1457.4H34.8V1771.46H34.6M38.7 1100.08H26.9V1614.43H34.8M26.9 864.77H19.4V1357.25H26.9M27.8 338.35H12.3V1111.01H19.4" fill="none" stroke="#111" stroke-width="1.2"/></g></defs><use href="#rdg" clip-path="url(#c1)"/><g clip-path="url(#c2)"><use href="#rdg" transform="translate(577 0) scale(1.0039 1) translate(-577 0)"/></g>
<g transform="scale(0.88 1)" font-family="'Liberation Sans',Arial,sans-serif" font-size="8.8" fill="#26262c">
<text x="83.3" y="116.66">CDIF630erm_00843 (acsE)</text>
<text x="83.3" y="124.88">CDIF630erm_03830 (spoVG)</text>
<text x="83.3" y="133.11">CDIF630erm_01648 (ssuA1)</text>
<text x="83.3" y="141.33">CDIF630erm_01194 (bcd)</text>
<text x="83.3" y="149.55">CDIF630erm_01195 (etfB3)</text>
<text x="83.3" y="157.78">CDIF630erm_01197 (crt2)</text>
<text x="83.3" y="166">CDIF630erm_01196 (etfA3)</text>
<text x="83.3" y="174.22">CDIF630erm_01198 (hbd)</text>
<text x="83.3" y="182.45">CDIF630erm_01199 (thlA1)</text>
<text x="83.3" y="190.67">CDIF630erm_01020 (opuCA)</text>
<text x="83.3" y="198.89">CDIF630erm_03533 (prdF)</text>
<text x="83.3" y="207.11">CDIF630erm_01416</text>
<text x="83.3" y="215.34">CDIF630erm_01284 (rnfC)</text>
<text x="83.3" y="223.56">CDIF630erm_03066</text>
<text x="83.3" y="231.78">CDIF630erm_01544</text>
<text x="83.3" y="240.01">CDIF630erm_02763 (tdcB)</text>
<text x="83.3" y="248.23">CDIF630erm_00909</text>
<text x="83.3" y="256.45">CDIF630erm_03727 (hemB)</text>
<text x="83.3" y="264.68">CDIF630erm_00618 (purC1)</text>
<text x="83.3" y="272.9">CDIF630erm_01490 (purB)</text>
<text x="83.3" y="281.12">CDIF630erm_03915</text>
<text x="83.3" y="289.34">CDIF630erm_03832 (murC)</text>
<text x="83.3" y="297.57">CDIF630erm_03859</text>
<text x="83.3" y="305.79">CDIF630erm_01230</text>
<text x="83.3" y="314.01">CDIF630erm_00259</text>
<text x="83.3" y="322.24">CDIF630erm_02676 (glyQ)</text>
<text x="83.3" y="330.46">CDIF630erm_00299 (cfa)</text>
<text x="83.3" y="338.68">CDIF630erm_01623</text>
<text x="83.3" y="346.91">CDIF630erm_03606 (clpP1)</text>
<text x="83.3" y="355.13">CDIF630erm_03892</text>
<text x="83.3" y="363.35">CDIF630erm_02677</text>
<text x="83.3" y="371.57">CDIF630erm_03991 (ssb2)</text>
<text x="83.3" y="379.8">CDIF630erm_01569 (ddl)</text>
<text x="83.3" y="388.02">CDIF630erm_01909</text>
<text x="83.3" y="396.24">CDIF630erm_01304 (fprA)</text>
<text x="83.3" y="404.47">CDIF630erm_00823 (pepD)</text>
<text x="83.3" y="412.69">CDIF630erm_02389</text>
<text x="83.3" y="420.91">CDIF630erm_02652 (ppdK)</text>
<text x="83.3" y="429.14">CDIF630erm_01478 (dapG)</text>
<text x="83.3" y="437.36">CDIF630erm_03110</text>
<text x="83.3" y="445.58">CDIF630erm_02248</text>
<text x="83.3" y="453.8">CDIF630erm_02175</text>
<text x="83.3" y="462.03">CDIF630erm_02400 (hcp)</text>
<text x="83.3" y="470.25">CDIF630erm_00960 (purH*)</text>
<text x="83.3" y="478.47">CDIF630erm_03238 (atpB1)</text>
<text x="83.3" y="486.7">CDIF630erm_00948</text>
<text x="83.3" y="494.92">CDIF630erm_01495</text>
<text x="83.3" y="503.14">CDIF630erm_01704 (nfnA)</text>
<text x="83.3" y="511.37">CDIF630erm_01285 (rnfD)</text>
<text x="83.3" y="519.59">CDIF630erm_00951</text>
<text x="83.3" y="527.81">CDIF630erm_00952 (acnB)</text>
<text x="83.3" y="536.03">CDIF630erm_00953 (icd)</text>
<text x="83.3" y="544.26">CDIF630erm_02880</text>
<text x="83.3" y="552.48">CDIF630erm_02881</text>
<text x="83.3" y="560.7">CDIF630erm_00658</text>
<text x="83.3" y="568.93">CDIF630erm_00831 (ptb2)</text>
<text x="83.3" y="577.15">CDIF630erm_00233 (vorA*1)</text>
<text x="83.3" y="585.37">CDIF630erm_00231 (vorB1)</text>
<text x="83.3" y="593.6">CDIF630erm_00301 (gluD)</text>
<text x="83.3" y="601.82">CDIF630erm_00314 (groS)</text>
<text x="83.3" y="610.04">CDIF630erm_00315 (groL)</text>
<text x="83.3" y="618.26">CDIF630erm_02707 (dnaK)</text>
<text x="83.3" y="626.49">CDIF630erm_02708 (grpE)</text>
<text x="83.3" y="634.71">CDIF630erm_00834 (fhs)</text>
<text x="83.3" y="642.93">CDIF630erm_03710</text>
<text x="83.3" y="651.16">CDIF630erm_00230 (vorC1)</text>
<text x="83.3" y="659.38">CDIF630erm_00232 (vorA1)</text>
<text x="83.3" y="667.6">CDIF630erm_01705 (nfnB)</text>
<text x="83.3" y="675.83">CDIF630erm_03711</text>
<text x="83.3" y="684.05">CDIF630erm_03712</text>
<text x="83.3" y="692.27">CDIF630erm_00877 (plfB)</text>
<text x="83.3" y="700.49">CDIF630erm_00526 (hadC)</text>
<text x="83.3" y="708.72">CDIF630erm_00523 (hadA)</text>
<text x="83.3" y="716.94">CDIF630erm_00946 (dsr)</text>
<text x="83.3" y="725.16">CDIF630erm_00228 (buk)</text>
<text x="83.3" y="733.39">CDIF630erm_00403</text>
<text x="83.3" y="741.61">CDIF630erm_00227 (ptb1)</text>
<text x="83.3" y="749.83">CDIF630erm_00525 (hadB)</text>
<text x="83.3" y="758.06">CDIF630erm_03993</text>
<text x="83.3" y="766.28">CDIF630erm_02988 (glyA1)</text>
<text x="83.3" y="774.5">CDIF630erm_02098 (proX)</text>
<text x="83.3" y="782.72">CDIF630erm_01432 (iscS2)</text>
<text x="83.3" y="790.95">CDIF630erm_01433</text>
<text x="83.3" y="799.17">CDIF630erm_01767 (cysK)</text>
<text x="83.3" y="807.39">CDIF630erm_00787</text>
<text x="83.3" y="815.62">CDIF630erm_02413</text>
<text x="83.3" y="823.84">CDIF630erm_03372</text>
<text x="83.3" y="832.06">CDIF630erm_01876 (trxB1)</text>
<text x="83.3" y="840.29">CDIF630erm_00963 (cwp25)</text>
<text x="83.3" y="848.51">CDIF630erm_01878</text>
<text x="83.3" y="856.73">CDIF630erm_03299</text>
<text x="83.3" y="864.95">CDIF630erm_02648</text>
<text x="83.3" y="873.18">CDIF630erm_00087 (mcsB)</text>
<text x="83.3" y="881.4">CDIF630erm_00876 (pflA)</text>
<text x="83.3" y="889.62">CDIF630erm_00833 (cooC)</text>
<text x="83.3" y="897.85">CDIF630erm_00371 (fliF)</text>
<text x="83.3" y="906.07">CDIF630erm_01965</text>
<text x="83.3" y="914.29">CDIF630erm_03314</text>
<text x="83.3" y="922.52">CDIF630erm_02209</text>
<text x="83.3" y="930.74">CDIF630erm_01823</text>
<text x="83.3" y="938.96">CDIF630erm_00356 (csrA)</text>
<text x="83.3" y="947.18">CDIF630erm_00372 (fliG)</text>
<text x="83.3" y="955.41">CDIF630erm_01839 (gcvPB)</text>
<text x="83.3" y="963.63">CDIF630erm_00832 (cooS)</text>
<text x="83.3" y="971.85">CDIF630erm_03998</text>
<text x="83.3" y="980.08">CDIF630erm_02916 (ychF)</text>
<text x="83.3" y="988.3">CDIF630erm_01944 (yjiL)</text>
<text x="83.3" y="996.52">CDIF630erm_00994</text>
<text x="83.3" y="1004.75">CDIF630erm_00993</text>
<text x="83.3" y="1012.97">CDIF630erm_00125 (nusG)</text>
<text x="83.3" y="1021.19">CDIF630erm_02926 (appA)</text>
<text x="83.3" y="1029.41">CDIF630erm_01943 (yjiM)</text>
<text x="83.3" y="1037.64">CDIF630erm_00334</text>
<text x="83.3" y="1045.86">CDIF630erm_03839</text>
<text x="83.3" y="1054.08">CDIF630erm_02409</text>
<text x="83.3" y="1062.31">CDIF630erm_01869</text>
<text x="83.3" y="1070.53">CDIF630erm_00366</text>
<text x="83.3" y="1078.75">CDIF630erm_03303</text>
<text x="83.3" y="1086.98">CDIF630erm_03382</text>
<text x="83.3" y="1095.2">CDIF630erm_00364</text>
<text x="83.3" y="1103.42">CDIF630erm_00365</text>
<text x="83.3" y="1111.64">CDIF630erm_02406</text>
<text x="83.3" y="1119.87">CDIF630erm_01289 (rnfB)</text>
<text x="83.3" y="1128.09">CDIF630erm_03771 (tkt2)</text>
<text x="83.3" y="1136.31">CDIF630erm_03795 (prfA)</text>
<text x="83.3" y="1144.54">CDIF630erm_03918 (metH)</text>
<text x="83.3" y="1152.76">CDIF630erm_00316 (larB)</text>
<text x="83.3" y="1160.98">CDIF630erm_03522 (dapB1)</text>
<text x="83.3" y="1169.21">CDIF630erm_02837 (fmt)</text>
<text x="81.14" y="1177.15">CDIF630erm_01428 (codY)</text>
<text x="81.14" y="1185.34">CDIF630erm_02645 (dut)</text>
<text x="81.14" y="1193.53">CDIF630erm_01292 (mreB2)</text>
<text x="81.14" y="1201.72">CDIF630erm_00091</text>
<text x="81.14" y="1209.91">CDIF630erm_02425</text>
<text x="81.14" y="1218.1">CDIF630erm_02504 (fruK)</text>
<text x="81.14" y="1226.29">CDIF630erm_00457 (apeB)</text>
<text x="81.14" y="1234.48">CDIF630erm_01310 (rpmA)</text>
<text x="81.14" y="1242.67">CDIF630erm_01465 (infB)</text>
<text x="81.14" y="1250.86">CDIF630erm_02503 (fruABC)</text>
<text x="81.14" y="1259.05">CDIF630erm_00127 (rplA)</text>
<text x="81.14" y="1267.24">CDIF630erm_00800 (rplT)</text>
<text x="81.14" y="1275.43">CDIF630erm_02567 (tal2)</text>
<text x="81.14" y="1283.62">CDIF630erm_00136 (fusA2)</text>
<text x="81.14" y="1291.81">CDIF630erm_02828 (rpe2)</text>
<text x="81.14" y="1300">CDIF630erm_01109</text>
<text x="81.14" y="1308.2">CDIF630erm_01462 (nusA)</text>
<text x="81.14" y="1316.39">CDIF630erm_03047 (cwp6)</text>
<text x="81.14" y="1324.58">CDIF630erm_00140 (rplD)</text>
<text x="81.14" y="1332.77">CDIF630erm_03050 (cwp84)</text>
<text x="81.14" y="1340.96">CDIF630erm_02812 (yloV)</text>
<text x="81.14" y="1349.15">CDIF630erm_03467 (cggR)</text>
<text x="81.14" y="1357.34">CDIF630erm_01881 (alsT)</text>
<text x="81.14" y="1365.53">CDIF630erm_00002 (dnaN)</text>
<text x="81.14" y="1373.72">CDIF630erm_00292 (rex)</text>
<text x="81.14" y="1381.91">CDIF630erm_00149 (rplN)</text>
<text x="81.14" y="1390.1">CDIF630erm_03052 (cwp66)</text>
<text x="81.14" y="1398.29">CDIF630erm_03054 (cwp2)</text>
<text x="81.14" y="1406.48">CDIF630erm_01121 (rpsA)</text>
<text x="81.14" y="1414.67">CDIF630erm_03109 (nit)</text>
<text x="81.14" y="1422.86">CDIF630erm_00361 (fliC)</text>
<text x="81.14" y="1431.05">CDIF630erm_03030 (cwp19)</text>
<text x="81.14" y="1439.25">CDIF630erm_00844 (cdhC)</text>
<text x="81.14" y="1447.44">CDIF630erm_01363 (spo0A)</text>
<text x="81.14" y="1455.63">CDIF630erm_00815 (pheT)</text>
<text x="81.14" y="1463.82">CDIF630erm_02560 (tkt1)</text>
<text x="81.14" y="1472.01">CDIF630erm_00153 (rpsH)</text>
<text x="81.14" y="1480.2">CDIF630erm_03699 (pyk)</text>
<text x="81.14" y="1488.39">CDIF630erm_00974 (oppA)</text>
<text x="81.14" y="1496.58">CDIF630erm_01187 (cwp18)</text>
<text x="81.14" y="1504.77">CDIF630erm_03537 (prdB)</text>
<text x="81.14" y="1512.96">CDIF630erm_03540 (prdA)</text>
<text x="81.14" y="1521.15">CDIF630erm_03544 (prdC)</text>
<text x="81.14" y="1529.34">CDIF630erm_01560</text>
<text x="81.14" y="1537.53">CDIF630erm_01408 (rimM)</text>
<text x="81.14" y="1545.72">CDIF630erm_03782 (atpH)</text>
<text x="81.14" y="1553.91">CDIF630erm_01406 (rpsP)</text>
<text x="81.14" y="1562.1">CDIF630erm_01163 (potD)</text>
<text x="81.14" y="1570.3">CDIF630erm_01472 (rpsO)</text>
<text x="81.14" y="1578.49">CDIF630erm_03700 (pfkA)</text>
<text x="81.14" y="1586.68">CDIF630erm_00168 (rpoA)</text>
<text x="81.14" y="1594.87">CDIF630erm_03779 (atpD2)</text>
<text x="81.14" y="1603.06">CDIF630erm_03781 (atpA2)</text>
<text x="81.14" y="1611.25">CDIF630erm_03783 (atpF2)</text>
<text x="81.14" y="1619.44">CDIF630erm_01410 (rplS)</text>
<text x="81.14" y="1627.63">CDIF630erm_00174 (rplM)</text>
<text x="81.14" y="1635.82">CDIF630erm_02279</text>
<text x="81.14" y="1644.01">CDIF630erm_00142 (rplB)</text>
<text x="81.14" y="1652.2">CDIF630erm_00135 (rpsG)</text>
<text x="81.14" y="1660.39">CDIF630erm_00158 (rplO)</text>
<text x="81.14" y="1668.58">CDIF630erm_00167 (rpsD)</text>
<text x="81.14" y="1676.77">CDIF630erm_00154 (rplF)</text>
<text x="81.14" y="1684.96">CDIF630erm_00166 (rpsK)</text>
<text x="81.14" y="1693.15">CDIF630erm_00175 (rpsI)</text>
<text x="81.14" y="1700.33">CDIF630erm_00139 (rplC)</text>
<text x="81.14" y="1708.42">CDIF630erm_02478 (asnC)</text>
<text x="81.14" y="1716.67">CDIF630erm_02370 (tsf)</text>
<text x="81.14" y="1724.92">CDIF630erm_02369 (pyrH)</text>
<text x="81.14" y="1733.17">CDIF630erm_01188</text>
<text x="81.14" y="1741.42">CDIF630erm_02158</text>
<text x="81.14" y="1749.67">CDIF630erm_02866</text>
<text x="81.14" y="1757.92">CDIF630erm_03463 (gpmI)</text>
<text x="81.14" y="1766.17">CDIF630erm_00236 (glmS)</text>
<text x="81.14" y="1774.42">CDIF630erm_03523 (dapH)</text>
<text x="81.14" y="1782.67">CDIF630erm_00239 (murA)</text>
<text x="81.14" y="1790.92">CDIF630erm_00234 (glmM)</text>
<text x="81.14" y="1799.17">CDIF630erm_03790 (upp)</text>
<text x="81.14" y="1807.42">CDIF630erm_01331 (fabG1)</text>
<text x="81.14" y="1815.67">CDIF630erm_00247 (metK)</text>
<text x="81.14" y="1823.92">CDIF630erm_02605</text>
<text x="81.14" y="1832.17">CDIF630erm_02972 (gtaB1)</text>
<text x="81.14" y="1840.42">CDIF630erm_01328 (fabH)</text>
<text x="81.14" y="1848.67">CDIF630erm_01703 (sseA1)</text>
<text x="81.14" y="1856.92">CDIF630erm_01867 (iunH)</text>
<text x="81.14" y="1865.17">CDIF630erm_03837 (rsmA)</text>
<text x="81.14" y="1873.42">CDIF630erm_01999 (terD5)</text>
<text x="81.14" y="1881.67">CDIF630erm_01329 (fabK)</text>
<text x="81.14" y="1889.92">CDIF630erm_02574 (guaB)</text>
<text x="81.14" y="1898.17">CDIF630erm_03677 (mgtA1)</text>
<text x="81.14" y="1906.42">CDIF630erm_00320 (guaA)</text>
<text x="81.14" y="1914.67">CDIF630erm_03250 (adhE2)</text>
<text x="81.14" y="1922.92">CDIF630erm_00641</text>
<text x="81.14" y="1931.17">CDIF630erm_04114 (tetM)</text>
</g>
<path d="M789.5 206.75L836.4 517.6M866.75 182.5L891.4 483M991.9 143.9L986.5 422M1043.8 127.8L1028.6 395.5M1073 131.6L1050 404M1134 149.4L1095.8 432M1168.3 159.5L1121.6 448M732.5 291.25L1048.4 174.5M1048.4 174.5L1188.6 223.3M749 369.5L1043.8 239.25M1043.8 239.25L1174.9 293.3M776 497.5L1035.5 348.5M1035.5 348.5L1150 412M836.4 517.6L946.4 618.4M891.4 483L1003 573M986.5 422L1099.5 496.5M1028.6 395.5L1140 463M1050 404L803 564.4M1095.8 432L848 611M1121.6 448L873 636" fill="none" stroke="#d4d4d4" stroke-width="1"/>
<path d="M933.6 161.7L941.6 451M1102.5 140.25L1072.4 418.5M763.5 438L1039.6 297M1039.6 297L1163 355M941.6 451L1054 532M1072.4 418.5L825 587" fill="none" stroke="#5a5a5a" stroke-width="1.1"/>
<g fill="#c4c4c4">
<circle cx="948.67" cy="350.42" r="3.4"/>
<circle cx="958.42" cy="351.07" r="3.4"/>
<circle cx="977.92" cy="339.58" r="3.4"/>
<circle cx="982.25" cy="345" r="3.4"/>
<circle cx="999.58" cy="342.83" r="3.4"/>
<circle cx="1007.17" cy="340.67" r="3.4"/>
<circle cx="998.5" cy="347.17" r="3.4"/>
<circle cx="1010.42" cy="351.5" r="3.4"/>
<circle cx="961.67" cy="365.58" r="3.4"/>
<circle cx="966" cy="363.42" r="3.4"/>
<circle cx="971.42" cy="363.42" r="3.4"/>
<circle cx="940" cy="386.17" r="3.4"/>
<circle cx="935.67" cy="389.42" r="3.4"/>
<circle cx="945.42" cy="384" r="3.4"/>
<circle cx="950.83" cy="378.58" r="3.4"/>
<circle cx="986.58" cy="417.58" r="3.4"/>
<circle cx="989.83" cy="421.92" r="3.4"/>
<circle cx="1015.83" cy="397" r="3.4"/>
<circle cx="1005" cy="394.83" r="3.4"/>
<circle cx="968.17" cy="398.08" r="3.4"/>
<circle cx="970.33" cy="403.5" r="3.4"/>
<circle cx="979" cy="405.67" r="3.4"/>
<circle cx="947.83" cy="351.08" r="3.4"/>
<circle cx="958.33" cy="351.08" r="3.4"/>
<circle cx="961.83" cy="365.08" r="3.4"/>
<circle cx="966.5" cy="363.33" r="3.4"/>
<circle cx="944.33" cy="384.33" r="3.4"/>
<circle cx="936.17" cy="389.58" r="3.4"/>
<circle cx="1015.5" cy="396" r="3.4"/>
<circle cx="1007.33" cy="394.83" r="3.4"/>
<circle cx="986.92" cy="417" r="3.4"/>
<circle cx="1016.67" cy="380.25" r="3.4"/>
<circle cx="998.42" cy="394.14" r="3.4"/>
<circle cx="971.7" cy="399.63" r="3.4"/>
<circle cx="1004.54" cy="393.27" r="3.4"/>
<circle cx="967.39" cy="378.63" r="3.4"/>
<circle cx="999.66" cy="365.34" r="3.4"/>
<circle cx="986.96" cy="400.67" r="3.4"/>
<circle cx="974.94" cy="402.94" r="3.4"/>
<circle cx="999.24" cy="383.06" r="3.4"/>
<circle cx="995.24" cy="395.8" r="3.4"/>
<circle cx="991.66" cy="402.06" r="3.4"/>
<circle cx="978.94" cy="378.99" r="3.4"/>
<circle cx="1006.06" cy="385.9" r="3.4"/>
<circle cx="976.98" cy="398.68" r="3.4"/>
<circle cx="1009.78" cy="379.73" r="3.4"/>
<circle cx="970.21" cy="383.67" r="3.4"/>
<circle cx="987.23" cy="380.53" r="3.4"/>
<circle cx="1007.72" cy="373.03" r="3.4"/>
<circle cx="1005.63" cy="370.35" r="3.4"/>
<circle cx="977.48" cy="394.95" r="3.4"/>
<circle cx="1005.73" cy="397.04" r="3.4"/>
<circle cx="995.85" cy="387.87" r="3.4"/>
<circle cx="992.42" cy="394.81" r="3.4"/>
<circle cx="986.75" cy="390.13" r="3.4"/>
<circle cx="999.59" cy="385.51" r="3.4"/>
<circle cx="1001.99" cy="394.08" r="3.4"/>
<circle cx="1012.99" cy="389.07" r="3.4"/>
<circle cx="982.54" cy="379.44" r="3.4"/>
<circle cx="989.62" cy="399.6" r="3.4"/>
<circle cx="984.05" cy="391.82" r="3.4"/>
<circle cx="1004.39" cy="366.12" r="3.4"/>
<circle cx="972.78" cy="389.03" r="3.4"/>
<circle cx="996.71" cy="389.43" r="3.4"/>
<circle cx="982.74" cy="395.78" r="3.4"/>
<circle cx="994.62" cy="377.05" r="3.4"/>
<circle cx="1014.04" cy="388.87" r="3.4"/>
<circle cx="980.38" cy="383.88" r="3.4"/>
<circle cx="985.86" cy="384.45" r="3.4"/>
<circle cx="965.41" cy="381.34" r="3.4"/>
<circle cx="1003.51" cy="370.39" r="3.4"/>
<circle cx="988.77" cy="399.95" r="3.4"/>
<circle cx="1000.81" cy="403.72" r="3.4"/>
<circle cx="968.16" cy="381.21" r="3.4"/>
<circle cx="984.15" cy="395.41" r="3.4"/>
<circle cx="999.22" cy="363.52" r="3.4"/>
<circle cx="1003.37" cy="368.34" r="3.4"/>
<circle cx="998.81" cy="366.8" r="3.4"/>
<circle cx="992.46" cy="402.52" r="3.4"/>
<circle cx="987.2" cy="388.71" r="3.4"/>
<circle cx="1002.89" cy="387.71" r="3.4"/>
<circle cx="988.63" cy="405.37" r="3.4"/>
<circle cx="1005.99" cy="381.18" r="3.4"/>
<circle cx="1012.84" cy="376.34" r="3.4"/>
<circle cx="1004.38" cy="381.47" r="3.4"/>
<circle cx="992.04" cy="396.7" r="3.4"/>
<circle cx="993.56" cy="395.71" r="3.4"/>
<circle cx="972.91" cy="369.55" r="3.4"/>
<circle cx="999.18" cy="371.54" r="3.4"/>
<circle cx="976.99" cy="367.97" r="3.4"/>
<circle cx="1007.4" cy="395.37" r="3.4"/>
<circle cx="1008.55" cy="374.14" r="3.4"/>
<circle cx="989.85" cy="368.96" r="3.4"/>
<circle cx="999.51" cy="404.64" r="3.4"/>
<circle cx="978.71" cy="404.09" r="3.4"/>
<circle cx="1005.37" cy="382.83" r="3.4"/>
<circle cx="969.96" cy="399.01" r="3.4"/>
<circle cx="988.2" cy="375.76" r="3.4"/>
<circle cx="996.64" cy="392.16" r="3.4"/>
<circle cx="1008.45" cy="373.41" r="3.4"/>
<circle cx="1003.68" cy="402.78" r="3.4"/>
<circle cx="1010.01" cy="383.11" r="3.4"/>
<circle cx="978.87" cy="399.81" r="3.4"/>
<circle cx="991.87" cy="387.59" r="3.4"/>
<circle cx="1009.71" cy="381.99" r="3.4"/>
<circle cx="965.93" cy="381.66" r="3.4"/>
<circle cx="968.41" cy="394.52" r="3.4"/>
<circle cx="995.14" cy="375.75" r="3.4"/>
<circle cx="989.68" cy="398.44" r="3.4"/>
<circle cx="990.97" cy="403.78" r="3.4"/>
<circle cx="988.88" cy="400.95" r="3.4"/>
<circle cx="1006.1" cy="402.24" r="3.4"/>
<circle cx="979.53" cy="398.37" r="3.4"/>
<circle cx="969.18" cy="374.13" r="3.4"/>
<circle cx="968.73" cy="396.46" r="3.4"/>
<circle cx="971.54" cy="385.32" r="3.4"/>
<circle cx="986.44" cy="385.02" r="3.4"/>
<circle cx="979.85" cy="389.26" r="3.4"/>
<circle cx="1012.25" cy="386.03" r="3.4"/>
<circle cx="997.92" cy="400.04" r="3.4"/>
<circle cx="986.93" cy="367.88" r="3.4"/>
<circle cx="981.54" cy="400.79" r="3.4"/>
<circle cx="968.95" cy="378.27" r="3.4"/>
<circle cx="1004.59" cy="396.57" r="3.4"/>
<circle cx="989.96" cy="398.09" r="3.4"/>
<circle cx="992.33" cy="368.62" r="3.4"/>
<circle cx="969.59" cy="377.61" r="3.4"/>
<circle cx="1004.07" cy="377.18" r="3.4"/>
<circle cx="976.27" cy="374.45" r="3.4"/>
<circle cx="969.02" cy="383.98" r="3.4"/>
<circle cx="972.33" cy="390.65" r="3.4"/>
<circle cx="965.73" cy="388.69" r="3.4"/>
<circle cx="982.47" cy="364.24" r="3.4"/>
<circle cx="1001.78" cy="381.17" r="3.4"/>
<circle cx="967.16" cy="377.02" r="3.4"/>
<circle cx="994.81" cy="378.02" r="3.4"/>
<circle cx="1001.87" cy="396.5" r="3.4"/>
<circle cx="1000.88" cy="390.66" r="3.4"/>
<circle cx="1008.23" cy="394.18" r="3.4"/>
<circle cx="994.86" cy="363.36" r="3.4"/>
<circle cx="1001.83" cy="402.2" r="3.4"/>
<circle cx="984.76" cy="377.86" r="3.4"/>
<circle cx="1008.12" cy="369.7" r="3.4"/>
<circle cx="994.48" cy="408.42" r="3.4"/>
<circle cx="975.78" cy="395.46" r="3.4"/>
<circle cx="1012.67" cy="384.11" r="3.4"/>
<circle cx="998.53" cy="398.84" r="3.4"/>
<circle cx="975.3" cy="384.14" r="3.4"/>
<circle cx="994.57" cy="398.22" r="3.4"/>
<circle cx="989.22" cy="382.21" r="3.4"/>
<circle cx="974.14" cy="380.21" r="3.4"/>
<circle cx="1004.18" cy="387.06" r="3.4"/>
<circle cx="977.05" cy="373.48" r="3.4"/>
<circle cx="1012.73" cy="394.83" r="3.4"/>
<circle cx="995.74" cy="362.61" r="3.4"/>
<circle cx="1000.06" cy="393.04" r="3.4"/>
<circle cx="1011.29" cy="390.7" r="3.4"/>
<circle cx="988.68" cy="394.04" r="3.4"/>
<circle cx="968.69" cy="396.22" r="3.4"/>
<circle cx="995.19" cy="374.46" r="3.4"/>
<circle cx="1004.05" cy="404" r="3.4"/>
<circle cx="970.87" cy="376.91" r="3.4"/>
<circle cx="994.92" cy="388.56" r="3.4"/>
<circle cx="983.64" cy="371.06" r="3.4"/>
<circle cx="1011.66" cy="395.68" r="3.4"/>
<circle cx="974.92" cy="369.49" r="3.4"/>
<circle cx="1009.9" cy="396.61" r="3.4"/>
<circle cx="1011.12" cy="394.53" r="3.4"/>
<circle cx="975.84" cy="389.49" r="3.4"/>
<circle cx="967.02" cy="377.97" r="3.4"/>
<circle cx="988.82" cy="394.04" r="3.4"/>
<circle cx="977.76" cy="383.53" r="3.4"/>
<circle cx="997.62" cy="391.6" r="3.4"/>
<circle cx="1000.54" cy="388.84" r="3.4"/>
<circle cx="984.57" cy="397.72" r="3.4"/>
<circle cx="990.64" cy="372.64" r="3.4"/>
<circle cx="979.25" cy="385.49" r="3.4"/>
<circle cx="987.9" cy="388.14" r="3.4"/>
<circle cx="989.82" cy="388.46" r="3.4"/>
<circle cx="987.86" cy="367.85" r="3.4"/>
<circle cx="996.25" cy="400.8" r="3.4"/>
<circle cx="997.33" cy="382.39" r="3.4"/>
<circle cx="996.75" cy="371.23" r="3.4"/>
<circle cx="966.93" cy="386.19" r="3.4"/>
<circle cx="975.86" cy="396.1" r="3.4"/>
<circle cx="980.35" cy="363.58" r="3.4"/>
<circle cx="977.25" cy="403.72" r="3.4"/>
<circle cx="984.46" cy="367.13" r="3.4"/>
<circle cx="977.62" cy="393.45" r="3.4"/>
<circle cx="998.35" cy="388.39" r="3.4"/>
<circle cx="1009.33" cy="394.35" r="3.4"/>
<circle cx="989.48" cy="395.16" r="3.4"/>
<circle cx="1009.67" cy="396.61" r="3.4"/>
<circle cx="1003.94" cy="371.27" r="3.4"/>
<circle cx="987.37" cy="397.03" r="3.4"/>
<circle cx="985.29" cy="401.12" r="3.4"/>
<circle cx="999.03" cy="398.85" r="3.4"/>
<circle cx="987.79" cy="408.87" r="3.4"/>
<circle cx="1008.11" cy="382.47" r="3.4"/>
<circle cx="990.69" cy="408.99" r="3.4"/>
<circle cx="984.36" cy="398.79" r="3.4"/>
<circle cx="1005.33" cy="385.6" r="3.4"/>
<circle cx="972.27" cy="388.19" r="3.4"/>
<circle cx="995.24" cy="401.69" r="3.4"/>
<circle cx="1002.72" cy="385.88" r="3.4"/>
<circle cx="1003.23" cy="393.58" r="3.4"/>
<circle cx="993.47" cy="386.43" r="3.4"/>
<circle cx="985.79" cy="396.38" r="3.4"/>
<circle cx="974.16" cy="376.59" r="3.4"/>
<circle cx="989.9" cy="366.11" r="3.4"/>
<circle cx="984.85" cy="363.59" r="3.4"/>
<circle cx="978.82" cy="394.24" r="3.4"/>
<circle cx="999.49" cy="384.61" r="3.4"/>
<circle cx="986.58" cy="366.57" r="3.4"/>
<circle cx="1011.9" cy="391.44" r="3.4"/>
<circle cx="1005.29" cy="373.6" r="3.4"/>
<circle cx="987.54" cy="364.06" r="3.4"/>
<circle cx="1001.47" cy="398.79" r="3.4"/>
<circle cx="966.92" cy="384.9" r="3.4"/>
<circle cx="997.51" cy="365.03" r="3.4"/>
<circle cx="969.36" cy="374.11" r="3.4"/>
<circle cx="981.29" cy="367.33" r="3.4"/>
<circle cx="990.39" cy="389.69" r="3.4"/>
<circle cx="999.93" cy="396.16" r="3.4"/>
<circle cx="1007.96" cy="398.89" r="3.4"/>
<circle cx="971.29" cy="378.69" r="3.4"/>
<circle cx="975.31" cy="371.44" r="3.4"/>
<circle cx="988.39" cy="385.59" r="3.4"/>
<circle cx="996.24" cy="365.73" r="3.4"/>
<circle cx="971.49" cy="385.17" r="3.4"/>
<circle cx="986.36" cy="380.32" r="3.4"/>
<circle cx="988.79" cy="373.53" r="3.4"/>
<circle cx="1001.37" cy="391.06" r="3.4"/>
<circle cx="988.36" cy="374.76" r="3.4"/>
<circle cx="988.25" cy="361.92" r="3.4"/>
<circle cx="974.33" cy="386.06" r="3.4"/>
<circle cx="969.27" cy="388.1" r="3.4"/>
<circle cx="991.93" cy="366.82" r="3.4"/>
<circle cx="985.48" cy="380.3" r="3.4"/>
<circle cx="997.43" cy="395.13" r="3.4"/>
<circle cx="989.24" cy="372.32" r="3.4"/>
<circle cx="987.28" cy="384.4" r="3.4"/>
<circle cx="1001.9" cy="390.11" r="3.4"/>
<circle cx="980.01" cy="367.94" r="3.4"/>
<circle cx="983.75" cy="373.98" r="3.4"/>
<circle cx="972.83" cy="383.81" r="3.4"/>
<circle cx="981.39" cy="387.23" r="3.4"/>
<circle cx="998.62" cy="378.89" r="3.4"/>
<circle cx="1013.88" cy="382.33" r="3.4"/>
<circle cx="1006.72" cy="387.28" r="3.4"/>
<circle cx="1000.33" cy="364.2" r="3.4"/>
<circle cx="977.48" cy="389.37" r="3.4"/>
<circle cx="995.92" cy="408.02" r="3.4"/>
<circle cx="994.51" cy="403.18" r="3.4"/>
<circle cx="1001.25" cy="398.96" r="3.4"/>
<circle cx="998.57" cy="382.95" r="3.4"/>
<circle cx="997.47" cy="370.07" r="3.4"/>
<circle cx="1005.77" cy="372.41" r="3.4"/>
<circle cx="992.61" cy="408.01" r="3.4"/>
<circle cx="985.9" cy="385.83" r="3.4"/>
<circle cx="1007.42" cy="385.88" r="3.4"/>
<circle cx="976.7" cy="389.5" r="3.4"/>
<circle cx="999.16" cy="396.35" r="3.4"/>
<circle cx="980.56" cy="405.56" r="3.4"/>
<circle cx="1011.57" cy="385.73" r="3.4"/>
<circle cx="994.45" cy="378.48" r="3.4"/>
<circle cx="1008.79" cy="376.49" r="3.4"/>
<circle cx="1000.84" cy="378.03" r="3.4"/>
<circle cx="978.91" cy="396.28" r="3.4"/>
<circle cx="1009.09" cy="385.36" r="3.4"/>
<circle cx="979.32" cy="397.51" r="3.4"/>
<circle cx="988.97" cy="390.69" r="3.4"/>
<circle cx="1008.23" cy="398.53" r="3.4"/>
<circle cx="984.45" cy="408.06" r="3.4"/>
<circle cx="989.89" cy="397.83" r="3.4"/>
<circle cx="978.93" cy="384.78" r="3.4"/>
<circle cx="972.67" cy="402.21" r="3.4"/>
<circle cx="1006.72" cy="371.17" r="3.4"/>
<circle cx="973.52" cy="368.75" r="3.4"/>
<circle cx="1007.15" cy="379.05" r="3.4"/>
<circle cx="988.77" cy="380.28" r="3.4"/>
<circle cx="987.97" cy="369.54" r="3.4"/>
<circle cx="990.17" cy="366.3" r="3.4"/>
<circle cx="988.58" cy="390.66" r="3.4"/>
<circle cx="997.85" cy="381.71" r="3.4"/>
<circle cx="975.35" cy="387.94" r="3.4"/>
<circle cx="983.46" cy="405.14" r="3.4"/>
<circle cx="1002.49" cy="383.69" r="3.4"/>
<circle cx="982.17" cy="374.6" r="3.4"/>
<circle cx="975.09" cy="380.21" r="3.4"/>
<circle cx="994.84" cy="393.85" r="3.4"/>
<circle cx="996.08" cy="407.47" r="3.4"/>
<circle cx="978.07" cy="385.71" r="3.4"/>
<circle cx="1010.65" cy="372.24" r="3.4"/>
<circle cx="980.92" cy="388.26" r="3.4"/>
<circle cx="992.51" cy="392.24" r="3.4"/>
<circle cx="985.7" cy="391.55" r="3.4"/>
<circle cx="990.7" cy="397.63" r="3.4"/>
<circle cx="968.43" cy="375.96" r="3.4"/>
<circle cx="989.8" cy="370.13" r="3.4"/>
<circle cx="974.27" cy="394.42" r="3.4"/>
<circle cx="979.4" cy="395.22" r="3.4"/>
<circle cx="1002.06" cy="390.29" r="3.4"/>
<circle cx="998.55" cy="383.79" r="3.4"/>
<circle cx="969.93" cy="385.1" r="3.4"/>
<circle cx="997.42" cy="377.06" r="3.4"/>
<circle cx="988.19" cy="397.32" r="3.4"/>
<circle cx="976.3" cy="394.91" r="3.4"/>
<circle cx="1011.98" cy="379.21" r="3.4"/>
<circle cx="992.42" cy="382.97" r="3.4"/>
<circle cx="1010.53" cy="389.55" r="3.4"/>
<circle cx="1003.51" cy="375.47" r="3.4"/>
<circle cx="989.55" cy="385.33" r="3.4"/>
<circle cx="971.08" cy="400.01" r="3.4"/>
<circle cx="1000.44" cy="365.83" r="3.4"/>
<circle cx="1002.15" cy="383.43" r="3.4"/>
<circle cx="997.46" cy="391.45" r="3.4"/>
<circle cx="969.32" cy="382.73" r="3.4"/>
<circle cx="1009.72" cy="378.2" r="3.4"/>
<circle cx="976.65" cy="368.79" r="3.4"/>
<circle cx="971.87" cy="390.21" r="3.4"/>
<circle cx="1011.34" cy="390.7" r="3.4"/>
<circle cx="992.46" cy="408.3" r="3.4"/>
<circle cx="981.39" cy="375.06" r="3.4"/>
<circle cx="998.57" cy="394.14" r="3.4"/>
<circle cx="976.1" cy="370.4" r="3.4"/>
<circle cx="994.9" cy="389.61" r="3.4"/>
<circle cx="970.91" cy="382.71" r="3.4"/>
<circle cx="980.79" cy="392.81" r="3.4"/>
<circle cx="987.77" cy="384.05" r="3.4"/>
<circle cx="984.42" cy="400.89" r="3.4"/>
<circle cx="1009.31" cy="380.6" r="3.4"/>
<circle cx="1002.72" cy="374.5" r="3.4"/>
<circle cx="991.02" cy="397.33" r="3.4"/>
<circle cx="1010.25" cy="380.58" r="3.4"/>
<circle cx="988.53" cy="388.8" r="3.4"/>
<circle cx="969.23" cy="385.71" r="3.4"/>
<circle cx="978.68" cy="391.34" r="3.4"/>
<circle cx="977.86" cy="365.53" r="3.4"/>
<circle cx="990.51" cy="389.87" r="3.4"/>
<circle cx="981.29" cy="398.7" r="3.4"/>
<circle cx="985.24" cy="375.8" r="3.4"/>
<circle cx="996.12" cy="365.83" r="3.4"/>
<circle cx="978.48" cy="385.17" r="3.4"/>
<circle cx="1003.59" cy="382.99" r="3.4"/>
<circle cx="994.96" cy="375.1" r="3.4"/>
<circle cx="993.74" cy="406.02" r="3.4"/>
<circle cx="983.02" cy="407.91" r="3.4"/>
<circle cx="978.98" cy="385.78" r="3.4"/>
<circle cx="992.54" cy="400.73" r="3.4"/>
<circle cx="977.44" cy="365.43" r="3.4"/>
<circle cx="999.37" cy="397.43" r="3.4"/>
<circle cx="995.54" cy="408.47" r="3.4"/>
<circle cx="993.42" cy="389.74" r="3.4"/>
<circle cx="1004.45" cy="391.03" r="3.4"/>
<circle cx="1008.75" cy="372.08" r="3.4"/>
<circle cx="987.12" cy="361.75" r="3.4"/>
<circle cx="1002.92" cy="379.78" r="3.4"/>
<circle cx="999.4" cy="406.76" r="3.4"/>
<circle cx="989.73" cy="381.23" r="3.4"/>
<circle cx="981.93" cy="372.86" r="3.4"/>
<circle cx="979.69" cy="395.31" r="3.4"/>
<circle cx="990.49" cy="386.62" r="3.4"/>
<circle cx="987.06" cy="399.43" r="3.4"/>
<circle cx="998.31" cy="383.18" r="3.4"/>
<circle cx="1000.97" cy="383.08" r="3.4"/>
<circle cx="975.72" cy="402.49" r="3.4"/>
<circle cx="997.04" cy="371.35" r="3.4"/>
<circle cx="1006.27" cy="390.51" r="3.4"/>
<circle cx="973.07" cy="401.95" r="3.4"/>
<circle cx="995.14" cy="399.02" r="3.4"/>
<circle cx="993.32" cy="382.99" r="3.4"/>
<circle cx="970.69" cy="396.95" r="3.4"/>
<circle cx="990.36" cy="380.7" r="3.4"/>
<circle cx="995.96" cy="386.8" r="3.4"/>
<circle cx="1000.98" cy="379.66" r="3.4"/>
<circle cx="989.43" cy="362.83" r="3.4"/>
<circle cx="982.88" cy="396.08" r="3.4"/>
<circle cx="1008.84" cy="380.56" r="3.4"/>
<circle cx="988.21" cy="405.69" r="3.4"/>
<circle cx="984.49" cy="396.98" r="3.4"/>
<circle cx="1011.63" cy="385.99" r="3.4"/>
<circle cx="1007.12" cy="375.96" r="3.4"/>
<circle cx="993.49" cy="384.2" r="3.4"/>
<circle cx="991.58" cy="401.9" r="3.4"/>
<circle cx="1013.43" cy="379.23" r="3.4"/>
<circle cx="980.33" cy="393.34" r="3.4"/>
<circle cx="973.89" cy="392.66" r="3.4"/>
<circle cx="999.49" cy="381.03" r="3.4"/>
<circle cx="996.82" cy="366.06" r="3.4"/>
<circle cx="999.57" cy="366.63" r="3.4"/>
<circle cx="978.61" cy="376.95" r="3.4"/>
<circle cx="983.45" cy="398.54" r="3.4"/>
<circle cx="991.25" cy="378.91" r="3.4"/>
<circle cx="996.91" cy="405.13" r="3.4"/>
<circle cx="989.94" cy="391.58" r="3.4"/>
<circle cx="1008.06" cy="389.25" r="3.4"/>
<circle cx="978.45" cy="406.55" r="3.4"/>
<circle cx="1008.37" cy="369.61" r="3.4"/>
<circle cx="989.15" cy="392.4" r="3.4"/>
<circle cx="1004.39" cy="395.12" r="3.4"/>
<circle cx="985.64" cy="370.02" r="3.4"/>
<circle cx="991.44" cy="400.87" r="3.4"/>
<circle cx="974.85" cy="372.03" r="3.4"/>
<circle cx="989.54" cy="363.49" r="3.4"/>
<circle cx="985.36" cy="378.35" r="3.4"/>
<circle cx="997.18" cy="374.59" r="3.4"/>
<circle cx="975.85" cy="379.54" r="3.4"/>
<circle cx="988.99" cy="374.86" r="3.4"/>
<circle cx="990.03" cy="397.34" r="3.4"/>
<circle cx="1003.3" cy="403.97" r="3.4"/>
<circle cx="977.2" cy="379.05" r="3.4"/>
<circle cx="969.99" cy="399.98" r="3.4"/>
<circle cx="977.78" cy="384.97" r="3.4"/>
<circle cx="997.11" cy="367.46" r="3.4"/>
<circle cx="997.84" cy="385.07" r="3.4"/>
<circle cx="967.42" cy="388.92" r="3.4"/>
<circle cx="1002.76" cy="366.23" r="3.4"/>
<circle cx="1002.99" cy="388.75" r="3.4"/>
<circle cx="997.83" cy="392.59" r="3.4"/>
<circle cx="1008.71" cy="382.41" r="3.4"/>
<circle cx="1003.69" cy="379.3" r="3.4"/>
<circle cx="1001.04" cy="373.55" r="3.4"/>
<circle cx="988.45" cy="406.55" r="3.4"/>
<circle cx="997.52" cy="382.9" r="3.4"/>
<circle cx="973.58" cy="374.8" r="3.4"/>
<circle cx="992.91" cy="399.72" r="3.4"/>
<circle cx="996.98" cy="393.88" r="3.4"/>
<circle cx="989.23" cy="404.01" r="3.4"/>
<circle cx="983.28" cy="376.71" r="3.4"/>
<circle cx="1004.15" cy="386.48" r="3.4"/>
<circle cx="985.14" cy="376.24" r="3.4"/>
<circle cx="985.52" cy="395.47" r="3.4"/>
<circle cx="995.05" cy="368.51" r="3.4"/>
<circle cx="997.2" cy="388.45" r="3.4"/>
<circle cx="975.11" cy="396.35" r="3.4"/>
<circle cx="984.98" cy="379.96" r="3.4"/>
<circle cx="1000.63" cy="402.58" r="3.4"/>
<circle cx="978.57" cy="392.34" r="3.4"/>
<circle cx="981.16" cy="407.34" r="3.4"/>
<circle cx="982.62" cy="402.14" r="3.4"/>
<circle cx="979.74" cy="397.56" r="3.4"/>
<circle cx="1006.3" cy="367.52" r="3.4"/>
<circle cx="982.53" cy="393.52" r="3.4"/>
<circle cx="988.28" cy="374.81" r="3.4"/>
<circle cx="1013.63" cy="386.34" r="3.4"/>
<circle cx="969.67" cy="395.49" r="3.4"/>
<circle cx="970.24" cy="397.99" r="3.4"/>
<circle cx="980.02" cy="387.84" r="3.4"/>
<circle cx="1008.38" cy="387.15" r="3.4"/>
<circle cx="974.66" cy="367.86" r="3.4"/>
<circle cx="1006.6" cy="395.51" r="3.4"/>
<circle cx="998.08" cy="349.44" r="3.4"/>
<circle cx="1003.77" cy="348.79" r="3.4"/>
<circle cx="994.83" cy="344.94" r="3.4"/>
<circle cx="1005.3" cy="348.93" r="3.4"/>
<circle cx="1003.82" cy="339.35" r="3.4"/>
<circle cx="1002.31" cy="348.19" r="3.4"/>
<circle cx="1007.98" cy="343.41" r="3.4"/>
<circle cx="999.89" cy="346.01" r="3.4"/>
<circle cx="1005.4" cy="343.88" r="3.4"/>
<circle cx="1006.04" cy="342.71" r="3.4"/>
<circle cx="1002.77" cy="343.33" r="3.4"/>
<circle cx="1002.24" cy="342.62" r="3.4"/>
<circle cx="1005.68" cy="366.06" r="3.4"/>
<circle cx="1010.74" cy="361.36" r="3.4"/>
<circle cx="1010.33" cy="366.59" r="3.4"/>
<circle cx="1006.44" cy="362.97" r="3.4"/>
<circle cx="1011.53" cy="365.16" r="3.4"/>
<circle cx="1008.89" cy="358.42" r="3.4"/>
<circle cx="1013.47" cy="364.34" r="3.4"/>
<circle cx="1009.71" cy="362.31" r="3.4"/>
<circle cx="1014.8" cy="382.63" r="3.4"/>
<circle cx="1010.24" cy="381.8" r="3.4"/>
<circle cx="1011.5" cy="382.02" r="3.4"/>
<circle cx="1009.85" cy="386.48" r="3.4"/>
<circle cx="1009.52" cy="386.46" r="3.4"/>
<circle cx="1010.1" cy="385.6" r="3.4"/>
<circle cx="1018.29" cy="385" r="3.4"/>
<circle cx="1010.93" cy="384.52" r="3.4"/>
<circle cx="972.86" cy="397.87" r="3.4"/>
<circle cx="969.47" cy="403.64" r="3.4"/>
<circle cx="970.08" cy="403.32" r="3.4"/>
<circle cx="975.51" cy="405.76" r="3.4"/>
<circle cx="976.24" cy="405.11" r="3.4"/>
<circle cx="970.92" cy="402.92" r="3.4"/>
<circle cx="971.02" cy="401.74" r="3.4"/>
<circle cx="971.69" cy="397.88" r="3.4"/>
<circle cx="970.71" cy="402.9" r="3.4"/>
<circle cx="968.03" cy="402.91" r="3.4"/>
<circle cx="983.51" cy="405.98" r="3.4"/>
<circle cx="984.93" cy="402.86" r="3.4"/>
<circle cx="981.13" cy="402.31" r="3.4"/>
<circle cx="983.47" cy="410.84" r="3.4"/>
<circle cx="976.54" cy="406.73" r="3.4"/>
<circle cx="983.51" cy="405.55" r="3.4"/>
<circle cx="982.88" cy="402.13" r="3.4"/>
<circle cx="984.52" cy="407.61" r="3.4"/>
</g><g fill="#fb2a30">
<circle cx="869.58" cy="309.9" r="3.5"/>
<circle cx="985.5" cy="299.93" r="3.5"/>
<circle cx="993.08" cy="312.5" r="3.5"/>
<circle cx="958.42" cy="318.57" r="3.5"/>
<circle cx="968.17" cy="317.27" r="3.5"/>
<circle cx="1042.92" cy="326.58" r="3.5"/>
<circle cx="990.92" cy="326.15" r="3.5"/>
<circle cx="976.83" cy="333.08" r="3.5"/>
<circle cx="956.9" cy="334.82" r="3.5"/>
<circle cx="995.25" cy="334.6" r="3.5"/>
<circle cx="1010.85" cy="334.17" r="3.5"/>
<circle cx="983.33" cy="338.07" r="3.5"/>
<circle cx="866.77" cy="388.77" r="3.5"/>
<circle cx="889.52" cy="408.92" r="3.5"/>
<circle cx="979.65" cy="447.48" r="3.5"/>
<circle cx="899.27" cy="427.33" r="3.5"/>
<circle cx="931.33" cy="445.1" r="3.5"/>
<circle cx="921.58" cy="449" r="3.5"/>
<circle cx="941.08" cy="445.1" r="3.5"/>
<circle cx="945.42" cy="448.57" r="3.5"/>
<circle cx="948.67" cy="451.17" r="3.5"/>
<circle cx="883.02" cy="433.4" r="3.5"/>
<circle cx="887.57" cy="433.4" r="3.5"/>
<circle cx="878.9" cy="439.9" r="3.5"/>
<circle cx="853.33" cy="435.35" r="3.5"/>
<circle cx="860.27" cy="434.92" r="3.5"/>
<circle cx="864.82" cy="445.1" r="3.5"/>
<circle cx="893.42" cy="442.5" r="3.5"/>
<circle cx="897.75" cy="445.1" r="3.5"/>
<circle cx="895.58" cy="452.68" r="3.5"/>
<circle cx="889.52" cy="459.4" r="3.5"/>
<circle cx="904.25" cy="465.68" r="3.5"/>
<circle cx="907.93" cy="468.5" r="3.5"/>
<circle cx="844.02" cy="459.83" r="3.5"/>
<circle cx="849" cy="464.17" r="3.5"/>
<circle cx="836" cy="465.9" r="3.5"/>
<circle cx="829.93" cy="472.83" r="3.5"/>
<circle cx="872.18" cy="502.08" r="3.5"/>
<circle cx="912.27" cy="501.43" r="3.5"/>
<circle cx="869.5" cy="310.5" r="3.5"/>
<circle cx="806.25" cy="345" r="3.5"/>
<circle cx="931.5" cy="399.5" r="3.5"/>
<circle cx="936.17" cy="400.67" r="3.5"/>
<circle cx="929.17" cy="405.33" r="3.5"/>
<circle cx="935" cy="406.5" r="3.5"/>
<circle cx="939.67" cy="405.33" r="3.5"/>
<circle cx="933.83" cy="411.17" r="3.5"/>
<circle cx="938.5" cy="412.33" r="3.5"/>
<circle cx="930.33" cy="414.67" r="3.5"/>
<circle cx="935" cy="415.83" r="3.5"/>
<circle cx="944.33" cy="419.33" r="3.5"/>
<circle cx="949" cy="394.83" r="3.5"/>
<circle cx="952.5" cy="391.33" r="3.5"/>
<circle cx="956" cy="394.83" r="3.5"/>
<circle cx="960.67" cy="396" r="3.5"/>
<circle cx="958.33" cy="403" r="3.5"/>
<circle cx="963" cy="405.33" r="3.5"/>
<circle cx="954.83" cy="407.67" r="3.5"/>
<circle cx="950.17" cy="408.83" r="3.5"/>
<circle cx="959.5" cy="411.17" r="3.5"/>
<circle cx="965.33" cy="412.33" r="3.5"/>
<circle cx="970" cy="411.17" r="3.5"/>
<circle cx="974.67" cy="410" r="3.5"/>
<circle cx="979.33" cy="411.17" r="3.5"/>
<circle cx="984" cy="410" r="3.5"/>
<circle cx="988.67" cy="410" r="3.5"/>
<circle cx="958.33" cy="415.83" r="3.5"/>
<circle cx="963" cy="418.17" r="3.5"/>
<circle cx="968.83" cy="419.33" r="3.5"/>
<circle cx="974.67" cy="421.67" r="3.5"/>
<circle cx="949" cy="389" r="3.5"/>
<circle cx="951.33" cy="375" r="3.5"/>
<circle cx="954.83" cy="377.33" r="3.5"/>
<circle cx="947.83" cy="372.67" r="3.5"/>
<circle cx="963" cy="378.5" r="3.5"/>
<circle cx="965.33" cy="383.17" r="3.5"/>
<circle cx="972.33" cy="379.67" r="3.5"/>
<circle cx="967.67" cy="389" r="3.5"/>
<circle cx="970" cy="371.5" r="3.5"/>
<circle cx="977" cy="365.67" r="3.5"/>
<circle cx="963" cy="358.67" r="3.5"/>
<circle cx="950.17" cy="362.17" r="3.5"/>
<circle cx="939.67" cy="366.83" r="3.5"/>
<circle cx="932.67" cy="375" r="3.5"/>
<circle cx="933.83" cy="379.67" r="3.5"/>
<circle cx="918.67" cy="362.75" r="3.5"/>
<circle cx="903.5" cy="374.42" r="3.5"/>
<circle cx="910.5" cy="385.5" r="3.5"/>
<circle cx="921" cy="391.33" r="3.5"/>
<circle cx="914" cy="401.83" r="3.5"/>
<circle cx="915.17" cy="412.33" r="3.5"/>
<circle cx="917.5" cy="411.17" r="3.5"/>
<circle cx="923.33" cy="406.5" r="3.5"/>
<circle cx="986.33" cy="399.5" r="3.5"/>
<circle cx="996.83" cy="408.83" r="3.5"/>
<circle cx="1006.17" cy="419.33" r="3.5"/>
<circle cx="992.17" cy="420.5" r="3.5"/>
<circle cx="996.83" cy="424" r="3.5"/>
<circle cx="998" cy="429.83" r="3.5"/>
<circle cx="1001.5" cy="431" r="3.5"/>
<circle cx="968.83" cy="431" r="3.5"/>
<circle cx="972.33" cy="433.33" r="3.5"/>
<circle cx="942" cy="428.67" r="3.5"/>
<circle cx="940.83" cy="433.33" r="3.5"/>
<circle cx="924.5" cy="421.67" r="3.5"/>
<circle cx="926.83" cy="426.33" r="3.5"/>
<circle cx="930.33" cy="431" r="3.5"/>
<circle cx="922.17" cy="433.33" r="3.5"/>
<circle cx="912.83" cy="427.5" r="3.5"/>
<circle cx="905.83" cy="428.67" r="3.5"/>
<circle cx="902.33" cy="426.33" r="3.5"/>
<circle cx="910.5" cy="436.83" r="3.5"/>
<circle cx="938.5" cy="436.83" r="3.5"/>
<circle cx="944.33" cy="435.67" r="3.5"/>
<circle cx="975.83" cy="351.67" r="3.5"/>
<circle cx="980.5" cy="350.5" r="3.5"/>
<circle cx="985.17" cy="355.17" r="3.5"/>
<circle cx="989.83" cy="351.67" r="3.5"/>
<circle cx="993.33" cy="354" r="3.5"/>
<circle cx="999.17" cy="359.25" r="3.5"/>
<circle cx="954.83" cy="343.5" r="3.5"/>
<circle cx="961.83" cy="342.33" r="3.5"/>
<circle cx="982.83" cy="340" r="3.5"/>
<circle cx="1012" cy="347" r="3.5"/>
<circle cx="1003.83" cy="370.33" r="3.5"/>
<circle cx="1006.17" cy="371.5" r="3.5"/>
<circle cx="993.33" cy="373.83" r="3.5"/>
<circle cx="996.83" cy="378.5" r="3.5"/>
<circle cx="1016.67" cy="363.33" r="3.5"/>
<circle cx="1020.17" cy="362.17" r="3.5"/>
<circle cx="1023.67" cy="364.5" r="3.5"/>
<circle cx="1019" cy="372.67" r="3.5"/>
<circle cx="1022.5" cy="375" r="3.5"/>
<circle cx="1028.33" cy="372.67" r="3.5"/>
<circle cx="1031.83" cy="378.5" r="3.5"/>
<circle cx="1023.67" cy="379.67" r="3.5"/>
<circle cx="1026" cy="385.5" r="3.5"/>
<circle cx="1022.5" cy="389" r="3.5"/>
<circle cx="1027.17" cy="386.67" r="3.5"/>
<circle cx="1031.83" cy="393.67" r="3.5"/>
<circle cx="1023.67" cy="401.83" r="3.5"/>
<circle cx="1029.5" cy="406.5" r="3.5"/>
<circle cx="1005" cy="391.33" r="3.5"/>
<circle cx="1009.67" cy="390.17" r="3.5"/>
<circle cx="1002.67" cy="400.67" r="3.5"/>
<circle cx="1006.17" cy="400.67" r="3.5"/>
<circle cx="998" cy="398.33" r="3.5"/>
<circle cx="937.69" cy="400.51" r="3.5"/>
<circle cx="952.19" cy="398.77" r="3.5"/>
<circle cx="947.09" cy="405.27" r="3.5"/>
<circle cx="925.9" cy="408.41" r="3.5"/>
<circle cx="925" cy="406.78" r="3.5"/>
<circle cx="926.43" cy="399.18" r="3.5"/>
<circle cx="942.15" cy="415.5" r="3.5"/>
<circle cx="928.82" cy="402.12" r="3.5"/>
<circle cx="951.15" cy="418.17" r="3.5"/>
<circle cx="948.92" cy="405.96" r="3.5"/>
<circle cx="966.61" cy="398.2" r="3.5"/>
<circle cx="961.39" cy="403.59" r="3.5"/>
<circle cx="929.73" cy="399.78" r="3.5"/>
<circle cx="937.01" cy="415.26" r="3.5"/>
<circle cx="931.35" cy="410.06" r="3.5"/>
<circle cx="951.66" cy="405.42" r="3.5"/>
<circle cx="947.62" cy="398.56" r="3.5"/>
<circle cx="925.98" cy="401.73" r="3.5"/>
<circle cx="953.5" cy="406.64" r="3.5"/>
<circle cx="937.26" cy="410.15" r="3.5"/>
<circle cx="943.42" cy="403.81" r="3.5"/>
<circle cx="958.55" cy="412.66" r="3.5"/>
<circle cx="934.15" cy="409.9" r="3.5"/>
<circle cx="946.62" cy="416.57" r="3.5"/>
<circle cx="955.67" cy="403.55" r="3.5"/>
<circle cx="966.79" cy="399.78" r="3.5"/>
<circle cx="941.87" cy="413.95" r="3.5"/>
<circle cx="930.07" cy="408.01" r="3.5"/>
<circle cx="925.07" cy="411.98" r="3.5"/>
<circle cx="957.23" cy="409.87" r="3.5"/>
<circle cx="962.15" cy="404.12" r="3.5"/>
<circle cx="954.16" cy="410.34" r="3.5"/>
<circle cx="949.04" cy="407.28" r="3.5"/>
<circle cx="960.57" cy="418.11" r="3.5"/>
<circle cx="954.9" cy="395.97" r="3.5"/>
<circle cx="946.7" cy="396.37" r="3.5"/>
<circle cx="958.33" cy="399.43" r="3.5"/>
<circle cx="961.8" cy="391.99" r="3.5"/>
<circle cx="953.15" cy="396.02" r="3.5"/>
<circle cx="945.95" cy="393.85" r="3.5"/>
<circle cx="948.83" cy="390.23" r="3.5"/>
<circle cx="946.67" cy="397.07" r="3.5"/>
</g>
<g font-family="'Liberation Sans',Arial,sans-serif" fill="#3a3a3a" stroke="#3a3a3a" stroke-width="0.2" text-anchor="middle">
<text x="696" y="310.73" font-size="18.8">4</text>
<text x="716" y="391.73" font-size="18.8">2</text>
<text x="732.5" y="460.73" font-size="18.8">0</text>
<text x="748.5" y="521.73" font-size="18.8">−2</text>
<text x="776.5" y="589.23" font-size="18.8">−1</text>
<text x="798.5" y="612.73" font-size="18.8">0</text>
<text x="820" y="638.23" font-size="18.8">1</text>
<text x="845" y="664.23" font-size="18.8">2</text>
<text x="969" y="645.73" font-size="18.8">4</text>
<text x="1025" y="599.23" font-size="18.8">2</text>
<text x="1075" y="555.73" font-size="18.8">0</text>
<text x="1120" y="519.23" font-size="18.8">−2</text>
<text x="1160" y="484.23" font-size="18.8">−4</text>
<text transform="translate(669.5 465.18) scale(0.93 1)" font-size="22">LCA.CA</text>
<text transform="translate(761.5 661.88) scale(0.93 1)" font-size="22">DCA.CA</text>
<text transform="translate(1100 600.38) scale(0.93 1)" font-size="22">CDCA.CA</text>
</g>
</svg></body></html>
